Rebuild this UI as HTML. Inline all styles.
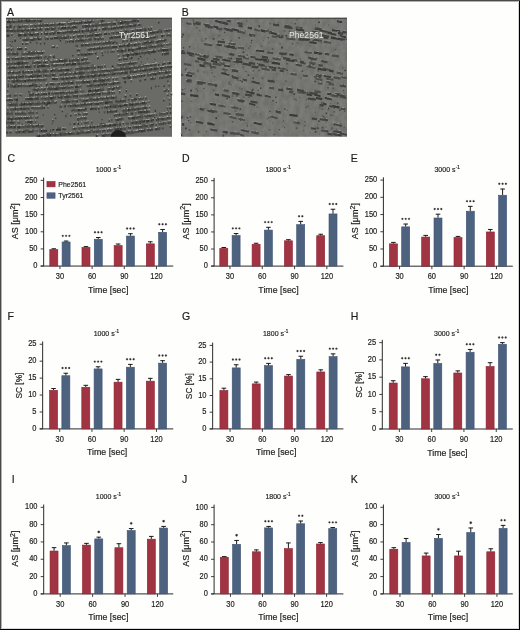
<!DOCTYPE html>
<html><head><meta charset="utf-8"><style>
html,body{margin:0;padding:0;background:#fefefd;}
svg{display:block;font-family:"Liberation Sans", sans-serif;will-change:transform;}
</style></head><body>
<svg width="520" height="630" viewBox="0 0 520 630">
<defs><clipPath id="clipA"><rect x="6.1" y="17.8" width="165.9" height="119"/></clipPath><filter id="grain" x="0" y="0" width="1" height="1" color-interpolation-filters="sRGB"><feTurbulence type="fractalNoise" baseFrequency="0.2 0.15" numOctaves="2" seed="4"/><feColorMatrix type="matrix" values="1 0 0 0 0  1 0 0 0 0  1 0 0 0 0  0 0 0 0 0.1"/></filter><clipPath id="clipB"><rect x="181" y="17.8" width="166" height="119"/></clipPath></defs>
<rect width="520" height="630" fill="#fefefd"/>
<rect x="6.1" y="17.8" width="165.9" height="119" fill="#6a6a66"/><path d="M6.9 21.4 12.8 21.3 19.4 21 25.4 21 32.3 20.8 38.1 20.5 41.5 20.4M6.4 26.7 11.7 26.5M17 26.2 24.3 25.8 28.6 25.8M34.3 25.8 40.7 25.2 48.4 25 54.4 24.7 55.4 24.3M56.3 24.3 62.9 23.9 65.9 23.8M67.6 23.7 72.8 22.9 79.1 22.5 85.6 22.2 91.3 21.3 93.2 21.5M99.9 20.5 104.7 20.2M6.6 30.5 13.2 30.1 18.9 30.3 25.3 29.7 31.1 29.8 37.3 29.3 42.4 29.3 42.4 29.3M44.8 28.7 49.9 28.7M50.8 28.6 56.1 28.3 56.1 28.3M57.8 28 63.9 27.5 69.5 27.5 75.9 27.1 75.9 27.1M82.2 26 87.8 25.8 94.1 24.9 99.9 24.6 106.6 24 112.9 23.3 115.7 22.8M117.6 22.7 124.7 21.8 130 21.2 136.1 20.7 137.3 20.7M18 34.8 24.1 34.7 29.2 34.1 35.2 33.9 38.9 33.9M43.9 33.1 48.1 33.1M48.9 33.4 54.4 32.5 55.8 32.6M57 32.5 62.8 32.4 68.5 31.5 74.9 31.2 80.4 30.9 80.4 30.9M81.6 30.7 87.4 30.1 93.9 29.4 96.9 29.3M102.2 28.7 107.8 28.3 113.1 27.9 119.2 27 124.7 26.6 131.4 25.9 135.1 24.9M22.8 39.5 29.9 39.4 35.7 38.8 40.6 38.6M44.8 38.5 48.6 38M54 37.5 60.1 37.4 66.9 37.2 69.1 36.7M77.2 36 83.6 35.6 83.6 35.6M87.3 35.4 93.2 34.6 99.2 34 100.3 34M115.7 32.7 119 32.1M123.4 31.8 129.2 31 129.2 31M130.4 31 136.4 29.9 142.9 29 144.5 29.2M69.2 41 73.9 40.6M75.3 40.8 80.7 40.1 86.6 39.9 91.8 38.8M93.7 38.8 99.7 38.1 102.1 38.4M109.4 37.5 114.4 36.7 120.4 36.2 125.1 35.7 131.3 35.2 133.1 34.8M134.2 34.8 139.1 34.1 141.1 33.9M147.4 32.7 153.4 32 160.6 31 162.2 30.9M163.9 30.6 169.7 30 169.7 30M17.1 48.8 21.9 48.8M80.9 45 87.5 44.6 93.8 43.9 99.9 43.1 106.3 42.8 112.3 42.2 114.2 42M130.1 40.1 136.3 39.2 137.5 39.2M138.7 39.1 144.1 38.3 150.9 37.5 155.7 36.5M7.3 53.8 14.2 53.5 18.2 53.7M21.6 53.6 27.8 52.9 33.6 53 39.8 52.6 43.2 52.1M87 49.1 92.3 48.5 97.5 47.9 103.5 47.5 109.8 47.3 115.4 46.7 117.2 46.1M119.1 45.9 125.4 45.6 131.5 44.7 136.7 44.2 140.8 43.3M142 43.2 147.2 42.7 153.9 41.8 153.9 41.8M155.3 41.6 161.3 40.5 164.5 39.9M11.7 58.4 17.9 58.2 23.8 58 29.6 57.8 36 57.2 41.7 57 41.7 57M80.5 54.3 86.8 53.9 91.5 53.4M117 50.8 124 50.3 126.5 49.8M128 49.6 133.4 49.1 140.1 47.9 144.5 47.7 147.6 47.1M148.4 47.1 154.3 46.1 160.8 45.2 163.2 44.7M6.7 63.6 13.7 63.2 20.3 63.2 26.9 62.5 26.9 62.5M32.1 62.6 38.3 62 41.9 62M42.8 62 47.8 61.6M49.5 61.3 55.4 60.9 61.1 60.6 67.6 60.3 67.6 60.3M69 60.4 74.7 59.7 79.6 59.4M81.3 59.2 87.1 58.6 87.1 58.6M122.7 55.3 129.2 54.1 135.2 53.7 142 52.6 147.7 51.8 153.2 51.4 156.4 50.5M157.8 50.3 163.5 49.7 169.6 49 169.6 49M7.4 67.5 13.9 67.2 19.9 67 24.2 66.6M25 66.5 31.5 66.7 31.5 66.7M37.2 66.1 43.2 65.5 48.6 65.4 49.8 65.1M51.4 65.2 57 64.8 64.3 64.2 70.6 64.1 76.1 63.3 76.1 63.3M77.2 63.5 82.1 63.1 88.7 62.5 88.7 62.5M164 53.5 168.8 52.9M7.8 72.6 14.1 72.3 20.6 72 20.6 72M22 71.9 27.8 71.6 33 71.2M34.2 71.2 40.2 71.3 41.6 70.8M42.5 71 48.8 70.5 48.8 70.5M50.4 70.6 56.4 70.4 62.2 69.8 69.1 69.3 70.7 69.2M75 68.5 80.9 68.1 87.8 67.7 89.5 67.8M90.6 67.5 96 66.9 96 66.9M117.3 64.4 122.4 64.1 128.3 63.2 134.3 62.5 135.9 62.7M7.2 77.1 14.2 76.4 20.2 76.6 24.1 76.6M25.1 76 30.6 75.8 36.9 75.9 41.8 75.2M43 75.1 49.4 75.2 51 74.8M59.4 74.4 65 73.7 71.5 73.4 71.5 73.4M72.7 73.5 78.9 72.9 85.2 72.5 85.2 72.5M90.3 71.8 96.8 71.5 97.8 71.1M98.6 71 103.9 70.3 110.3 70 116.6 69.2 122.3 68.4 128 68 134 67.4 139 66.8 144.9 65.7 150 65 155.3 64.1 155.3 64.1M11.5 80.9 18.2 80.6 23.6 80.4 28.9 79.9 34.6 79.8 41.1 79.7 46.1 79.4M52 78.6 57.8 78.5 57.8 78.5M58.9 78.4 64.2 78.1 70.8 77.8 77.5 76.8 77.5 76.8M78.7 77 85.4 76.2 85.4 76.2M86.3 76.5 92.6 75.9 98.4 75.1 105.4 74.4 112.1 74 118.6 72.9 125 72.5 127.9 72.2M129.8 71.5 135.4 71.1 141.4 70.3 147.4 69.3 153.6 68.8 156.9 68.2M159.9 67.8 165.8 67 170.5 66.5M10.2 85.9 15.9 86 21.9 85.4 27.3 85.5 33.6 85.1 36.7 84.5M49.7 83.9 55.6 83.8 55.6 83.8M61 83.4 66.7 82.6 72.9 82.6 74.2 82.4M75.9 82 80.6 81.8 86.7 81.4 91.7 81.1M93.4 80.6 100 80.3 106.2 79.7 110.6 79.1M122.4 77.5 128.1 77.3 131.1 76.8M132.7 76.7 138.6 75.9 143.4 75 145.5 74.7M147.3 74.8 152.6 73.6 158.9 72.7 165.1 72 169.7 71.8M32.4 89.2 37.7 88.9 44.2 88.6 45.8 88.9M47 88.5 53.2 88.2 59.5 87.6 65.3 87.2 70.9 86.9 73.3 86.9M75.1 86.4 79.9 86M86.5 85.6 92.7 85.4 99.1 84.7 105.1 83.9 106.9 83.9M107.8 83.7 114.1 82.8 118.9 82.6M150.3 78.6 155.4 78.1M159.1 77.4 164.8 76.8 170 76 170 76M29.1 94.6 34 94.3M34.9 94.3 39.3 94.2 45.6 93.6 46.8 93.8M51.1 93 57.4 92.8 63.3 92.5 64.9 92.1M65.7 92.5 71 92.2 78.2 91.1 78.2 91.1M88.5 90.5 94.5 89.8 100.5 89.2 104.1 88.9M107.5 88.9 113 88.3 115.2 87.7M6.3 99.9 12.6 99.6 12.6 99.6M25.2 98.7 31.3 98.5 37.2 98.4 38.9 98.1M40.4 98.3 46.4 97.9 52.6 97.4 56 97.2M57.4 97.1 62.3 97M63.6 96.7 69.7 96.3 71.5 96.1M72.7 95.8 77.9 95.4 77.9 95.4M79.3 95.4 85.2 95.1 91.7 94.5 98 93.7 100.6 93.7M101.9 93.2 106.6 92.9 113.5 92.3 113.5 92.3M7.6 104.2 14.3 104.2 17.6 104M19.2 104.3 25.2 103.6 31.7 103.4 39.3 103.3 44 102.7 50.2 102.4 55.5 101.9 55.5 101.9M61.6 101.7 67.3 101.1 70.4 101.3M71.5 101 77.9 100.3 77.9 100.3M83.2 100 90.1 99.2 96.7 99 103 98 107.9 97.5 113.9 97.3 115.4 97.1M10.4 108.9 16 108.6 22 108.4 27.8 108.3 29.5 108.3M31.4 107.7 37.4 107.7 43.2 107.4 43.2 107.4M69.6 105.4 76 105.3 82.6 104.5 88.8 103.9 95.4 103.4 101.2 102.7 103.6 102.8M104.7 102.4 111.5 102 111.5 102M115.4 101.4 121.5 100.4 125.9 100M131.1 99.7 135.8 99M138.2 98.7 142.4 97.8M6.7 113.4 13.1 113.3 13.1 113.3M15 113.1 20.1 113.2 26.3 113 26.3 113M28.1 112.5 33.1 112.4M76.3 109.9 82.2 109.5 86.6 108.8M90.2 108.4 96.8 108.1 96.8 108.1M103.9 106.9 111.4 106.3 118 105.7 123.8 104.8 128.2 104.5M129.1 104.4 134.5 103.8 140.3 103.3 145.3 102.7 145.3 102.7M7.4 118.4 13.8 118.3 19.2 118 25.1 117.8 31.7 117.5 31.7 117.5M82.8 114.2 86.5 113.7M107 111.7 113.2 110.9 115.8 110.9M122.5 110.1 128 109.5 134.1 109 141.1 108 146.2 107.4M6.1 122.3 12.7 122.3 15.4 122.2M27.4 121.4 33.3 121.4 33.3 121.4M77.2 118.7 83.7 117.9 85.1 117.8M113.9 115.2 120.3 114.2 126.8 113.6 128.6 113.4M137.9 112.2 144 111.4 150 110.9 150 110.9M6.5 127.1 14.1 126.5 15.7 126.8M17.4 126.8 22.9 126.5 29.8 125.9 35.4 125.7 41.2 125.8 42.7 125.3M84 122.5 88.5 121.9M114.9 119.4 120.8 118.9 122.1 118.5M128.2 117.8 134.8 117.4 140 116.5 143.1 116.1M144.4 115.8 150.7 115.1 155.1 114.6M159.1 114.2 165.6 113 167 112.8M15.4 131.9 21.6 131.4 26.4 131.4M27.6 131.2 34.1 130.6 34.1 130.6M39.4 130.3 45.4 130.4 45.4 130.4M56 129.3 60.9 129.1M72.5 128.6 76.6 127.9M77.9 128.2 82.6 127.3 87.7 127.1 93.4 126.5 99.1 126.2 105.7 125.1 111.2 125 118 124.3 120.8 123.5M130.6 122.4 137.4 122 144 120.8 145.3 121.1M146.3 120.7 152.5 119.5 153.9 119.6M155.8 119.6 162 118.6 168.3 117.8 170.1 117.5M40 135.5 45.5 134.9 51.3 134.6 57 134.5 63.5 134 69.3 133.6 75.4 132.6 75.4 132.6M76.4 133.1 82 132 87.9 131.8 90.6 131.8M91.8 131.2 97.6 131.1 100.6 130.8M101.9 130.6 105.5 129.9M107 130.1 113.1 129.6 113.1 129.6M114 129.3 119.1 128.5 124.8 127.9 126.4 127.9M132.3 127 138.9 126.6 146 125.7 146 125.7M149.6 124.9 153.8 124.6M158.3 123.5 163.9 122.7 166.1 122.5M101.5 135.4 107.5 134.7 112.8 134.3 119 133.1 124.5 133 131.2 132.2 137.1 131.1 144.1 130.1 145.5 130.1M146.9 129.8 152.8 129.1 152.8 129.1M154.7 129 160.3 128.2 160.3 128.2" stroke="#5a5a56" stroke-width="4.0" fill="none" clip-path="url(#clipA)"/><path fill="#343432" d="M6.9 20.8h1.5v2.3h-1.5zM8.4 20.8h1.1v1.9h-1.1zM9.5 21.1h1.3v2.3h-1.3zM17.7 20.5h1.8v1.7h-1.8zM21 20.3h1.4v1.6h-1.4zM25.4 20.4h1.8v1.6h-1.8zM28.8 20.1h1.5v1.8h-1.5zM33.7 19.7h1.1v2.3h-1.1zM39.9 19.8h1.6v2.4h-1.6zM10 26.2h1.7v1.6h-1.7zM19 25.7h1.8v2.2h-1.8zM40.7 24.6h2v1.9h-2zM46.4 24.2h2v2.3h-2zM51.3 23.9h1.3v2.3h-1.3zM58.1 23.3h1.9v1.9h-1.9zM61.1 23.4h1.8v1.8h-1.8zM67.6 23.1h1.1v1.6h-1.1zM70.1 22.7h1.7v1.8h-1.7zM76.1 22.3h1.7v1.8h-1.7zM79.1 21.9h1.6v1.8h-1.6zM83.7 21.5h1.9v1.7h-1.9zM85.6 21.6h2v1.8h-2zM89.9 20.9h1.5v2.1h-1.5zM6.6 29.9h1.6v1.8h-1.6zM11.7 29.8h1.5v1.9h-1.5zM20.4 29.6h1.7v1.9h-1.7zM22.1 29.7h1.5v2.3h-1.5zM28.2 29.2h1v2.1h-1zM31.1 29.2h1.7v1.6h-1.7zM32.8 28.9h1.5v2.4h-1.5zM39.7 28.3h1.4v2h-1.4zM50.8 28h1.1v1.6h-1.1zM61.2 27.2h1.6v2.1h-1.6zM62.7 27.2h1.1v2.1h-1.1zM63.9 26.9h1.2v2.1h-1.2zM65.1 27.2h1.1v2.1h-1.1zM69.5 26.9h1v1.8h-1zM73.9 26.3h2v1.8h-2zM101.5 23.7h1.7v2.3h-1.7zM112.9 22.7h1.5v2h-1.5zM114.3 22.5h1.4v2.3h-1.4zM119.6 22h1.6v2.3h-1.6zM121.2 21.8h1.7v2.2h-1.7zM127.7 21.3h1.1v2.4h-1.1zM137.3 20.1h1.5v2h-1.5zM6.7 34.5h2v2.4h-2zM8.6 34.5h1v2h-1zM18 34.2h1.6v2.3h-1.6zM19.6 34h1.8v2.3h-1.8zM24.1 34.1h1.1v2.1h-1.1zM25.2 34h1.3v2.2h-1.3zM29.2 33.5h1.9v1.9h-1.9zM31.1 33.8h2v2.2h-2zM34.1 33.6h1.1v2.2h-1.1zM40.9 32.9h1.1v2.1h-1.1zM52.8 32.4h1.6v2.3h-1.6zM57 31.9h1.9v2.1h-1.9zM58.9 31.8h1.4v1.8h-1.4zM70.4 31.3h1.4v2h-1.4zM74.9 30.6h1.3v2.1h-1.3zM76.3 30.7h1.3v2h-1.3zM81.6 30.1h1.5v2.3h-1.5zM87.4 29.5h1.9v2.1h-1.9zM93.9 28.8h1.1v1.6h-1.1zM110.8 27.5h1.2v2.1h-1.2zM113.1 27.3h1.5v2h-1.5zM114.7 27.1h1.7v1.6h-1.7zM120.8 26.2h1.1v2.4h-1.1zM121.9 26.2h1.7v1.9h-1.7zM126.2 25.7h1.5v1.9h-1.5zM131.4 25.3h1v1.6h-1zM135.1 24.3h1.3v2.2h-1.3zM31.3 38.8h1.5v2.3h-1.5zM37.5 38.2h1.7v1.7h-1.7zM39.2 38.4h1.4v1.6h-1.4zM51.2 37.4h1.9v2.2h-1.9zM54 36.9h1.5v2h-1.5zM57.1 37.2h1.5v1.7h-1.5zM77.2 35.4h1.1v2.1h-1.1zM81.6 35h1.9v1.7h-1.9zM87.3 34.8h1.2v2.4h-1.2zM91.4 34.4h1.8v1.8h-1.8zM95.9 34.1h1.9v2.1h-1.9zM97.9 33.9h1.4v1.9h-1.4zM117.9 31.6h1.1v2h-1.1zM126.2 30.4h1.2v1.9h-1.2zM132.1 29.9h1.4v2.1h-1.4zM144.5 28.6h1.9v2.3h-1.9zM150.7 27.5h1.3v2.1h-1.3zM69.2 40.4h1.2v2h-1.2zM72.1 40.4h1.8v2h-1.8zM95.2 38.1h1.1v1.7h-1.1zM110.8 36.7h1.1v1.9h-1.1zM111.9 36.6h1.3v2.1h-1.3zM115.6 36.4h1.4v1.8h-1.4zM118.8 35.9h1.7v1.9h-1.7zM127.5 34.6h1.9v2.1h-1.9zM135.6 33.8h1.2v1.9h-1.2zM136.8 33.9h1.1v2h-1.1zM142.8 33h1.9v1.7h-1.9zM153.4 31.4h1.6v1.9h-1.6zM167.1 29.7h1.4v1.9h-1.4zM6.5 48.5h1.7v1.8h-1.7zM10.8 48.7h1.2v1.9h-1.2zM19 48.1h1.1v2h-1.1zM20.1 48.1h1.8v2h-1.8zM53 46.3h1.8v1.8h-1.8zM76.5 44.9h1.2v2.2h-1.2zM80.9 44.4h2v2.1h-2zM97.5 43.2h1.1v1.7h-1.1zM106.3 42.2h1v2.3h-1zM107.3 41.7h1.2v1.6h-1.2zM114.2 41.4h1.3v1.7h-1.3zM122.4 40.2h1.1v2.3h-1.1zM147.4 37.2h1.9v2.1h-1.9zM154 36.3h1.7v1.7h-1.7zM161.3 35h1.8v2.2h-1.8zM168.2 34.3h1.2v1.7h-1.2zM14.2 52.9h1.4v2.1h-1.4zM16.8 52.9h1.4v2.3h-1.4zM36.9 51.8h1.1v1.8h-1.1zM38 52.3h1.8v1.6h-1.8zM41.7 52h1.5v2.1h-1.5zM78.7 49.4h1.6v1.8h-1.6zM89.1 48.4h1.6v2.1h-1.6zM93.6 48.2h1v2.2h-1zM94.6 47.6h1v2.3h-1zM97.5 47.3h1.7v1.6h-1.7zM99.2 47.5h1.3v1.9h-1.3zM102 47.2h1.5v1.6h-1.5zM104.8 46.7h1.5v1.8h-1.5zM119.1 45.3h1.6v2h-1.6zM120.7 45.4h2v1.6h-2zM124.1 44.5h1.3v2h-1.3zM126.5 44.3h1.7v2.4h-1.7zM128.2 44.4h1.5v2.3h-1.5zM134 43.8h1.6v2.3h-1.6zM144.3 42.1h1.2v2.2h-1.2zM148.5 41.9h2v1.7h-2zM150.5 41.3h1.6v1.7h-1.6zM156.7 40.7h1.6v2.4h-1.6zM11.7 57.8h1.7v1.7h-1.7zM16.3 57.8h1.5v1.7h-1.5zM17.9 57.6h1.6v1.9h-1.6zM21.4 57.5h1.2v2.2h-1.2zM28.3 57.1h1.3v2.1h-1.3zM29.6 57.2h1.9v1.9h-1.9zM38 56.7h1.3v2.3h-1.3zM40.6 56.3h1.1v2.3h-1.1zM77.6 53.9h1.8v1.9h-1.8zM80.5 53.7h1.1v1.8h-1.1zM85 53.4h1.8v2.3h-1.8zM88.3 53h1.8v2.1h-1.8zM94.8 52.6h1.8v1.9h-1.8zM120.9 50.1h2v2.4h-2zM128 49h1.3v2.3h-1.3zM129.3 48.7h1.2v2.1h-1.2zM131.6 48.7h1.8v2.2h-1.8zM138.3 47.5h1.8v2.3h-1.8zM140.1 47.3h1.2v1.8h-1.2zM144.5 47.1h1.6v2h-1.6zM151.8 45.8h1.5v1.8h-1.5zM13.7 62.6h1.7v2h-1.7zM17.1 62.6h1.6v2.3h-1.6zM18.7 62.1h1.6v2.4h-1.6zM22.1 62.1h1.1v2.4h-1.1zM38.3 61.4h1.9v2.2h-1.9zM44.8 61.3h1.6v1.6h-1.6zM52.5 60.6h1.2v2.1h-1.2zM58.5 60.1h1.2v1.8h-1.2zM59.7 60.2h1.4v1.6h-1.4zM61.1 60h1.7v1.9h-1.7zM64.2 59.7h1.7v2.1h-1.7zM71.6 59.5h1.6v2h-1.6zM81.3 58.6h1.9v2.4h-1.9zM97 57.3h1.7v1.9h-1.7zM122.7 54.7h1.7v1.8h-1.7zM126.4 53.7h1.4v2.2h-1.4zM127.8 53.9h1.5v2.3h-1.5zM132.3 53.4h1.8v2.2h-1.8zM135.2 53.1h1.9v2.1h-1.9zM137.1 52.7h1.1v2.2h-1.1zM144.7 51.7h1.3v1.8h-1.3zM147.7 51.2h1.5v2.2h-1.5zM150.3 51.3h1.3v1.8h-1.3zM151.6 50.6h1.6v1.8h-1.6zM153.2 50.8h1.8v1.9h-1.8zM161.9 49.2h1.6v2h-1.6zM163.5 49.1h1.2v2.3h-1.2zM164.7 49.2h1.6v2h-1.6zM166.3 49h1.9v1.7h-1.9zM8.7 66.7h1.6v2h-1.6zM12.1 66.4h1.9v1.8h-1.9zM13.9 66.6h1.7v2.2h-1.7zM25 65.9h1.6v1.8h-1.6zM26.6 66h1.6v2.1h-1.6zM37.2 65.5h1.4v2.4h-1.4zM41.3 65.1h1.9v2.2h-1.9zM43.2 64.9h1.7v2.2h-1.7zM62.7 64h1.6v1.8h-1.6zM65.7 63.7h1.4v2h-1.4zM67.1 63.3h1.6v2h-1.6zM71.8 63.1h1.5v2.3h-1.5zM73.4 62.9h1.1v2.4h-1.1zM74.5 63.1h1.6v2.1h-1.6zM123.1 58.2h1.5v2.4h-1.5zM125.9 58.3h1.7v1.7h-1.7zM130.7 57.1h1.8v1.8h-1.8zM161.9 53.2h1.2v2.3h-1.2zM9.2 71.7h1.6v1.6h-1.6zM12.2 71.7h1.9v1.8h-1.9zM23 71.1h1.2v2.2h-1.2zM34.2 70.6h1.2v2h-1.2zM38.3 70.4h1.9v2h-1.9zM50.4 70h1.7v2h-1.7zM52 69.6h1.4v1.7h-1.4zM58.3 69.6h1.1v2h-1.1zM59.4 69.3h1v2.2h-1zM65.3 68.8h1.9v2.1h-1.9zM67.2 68.7h1.9v2.3h-1.9zM87.8 67.1h1.8v1.6h-1.8zM97.4 66.1h1.8v2h-1.8zM128.3 62.6h1.9v2.2h-1.9zM11.1 76.3h1.4v2.1h-1.4zM15.2 76.3h1.7v2.4h-1.7zM21.2 75.6h1.4v1.9h-1.4zM28.7 75.7h1.9v1.8h-1.9zM30.6 75.2h1.3v1.8h-1.3zM36.9 75.3h1.9v1.7h-1.9zM38.9 74.8h1.1v2h-1.1zM44.8 74.5h1.7v1.8h-1.7zM51.8 74h2v2h-2zM74.4 72.5h1.4v1.7h-1.4zM75.7 72.6h1.3v1.7h-1.3zM78.9 72.3h1.8v2.2h-1.8zM103.9 69.7h1.2v1.6h-1.2zM106.8 69.6h1.7v2h-1.7zM123.6 67.8h1.2v2h-1.2zM129 67.4h2v2.2h-2zM146.1 64.8h1.2v1.9h-1.2zM147.3 64.6h1.2v1.7h-1.2zM151.3 64.4h1.1v1.8h-1.1zM155.3 63.5h1.2v2.2h-1.2zM163.7 62.7h1.9v1.9h-1.9zM168.4 62h1.3v1.9h-1.3zM169.7 61.9h1.2v2h-1.2zM13.2 80.4h1.9v2.2h-1.9zM16.3 79.9h1.9v2h-1.9zM24.9 79.9h1.2v2.2h-1.2zM31.1 79.4h1.8v1.7h-1.8zM52 78h1.2v1.7h-1.2zM53.2 78.2h2v1.8h-2zM56.5 78.2h1.2v1.8h-1.2zM66.1 77.3h1.8v2.2h-1.8zM70.8 77.2h1.9v1.8h-1.9zM78.7 76.4h1.6v2.3h-1.6zM80.2 76h1.5v2.3h-1.5zM83.7 75.9h1.7v1.8h-1.7zM87.9 75.8h1.7v1.8h-1.7zM91.4 75h1.2v2.3h-1.2zM92.6 75.3h2v2.1h-2zM94.5 74.6h1.3v2.1h-1.3zM98.4 74.5h1.6v2.4h-1.6zM103.6 74.1h1.8v2.1h-1.8zM114 72.7h1.4v2.1h-1.4zM125 71.9h1.5v1.9h-1.5zM129.8 70.9h1.1v2.3h-1.1zM135.4 70.5h1.4v2h-1.4zM143 69.5h1.3v2h-1.3zM144.3 69.6h1.8v1.7h-1.8zM149.2 68.6h1.7v1.7h-1.7zM150.9 68.2h1.1v2h-1.1zM153.6 68.2h1.3v2h-1.3zM156.9 67.6h1.5v1.9h-1.5zM159.9 67.2h1.5v2.1h-1.5zM161.4 67.1h1.5v1.7h-1.5zM170.5 65.9h1.6v1.9h-1.6zM7.5 85.4h1.6v1.8h-1.6zM11.5 85.1h1v1.6h-1zM14.1 85.4h1.8v2.2h-1.8zM17.5 84.9h1.7v2h-1.7zM29 84.8h1.4v2.1h-1.4zM30.4 84.5h1.7v1.8h-1.7zM32.1 84.5h1.6v1.8h-1.6zM35.4 84.2h1.3v1.8h-1.3zM45.9 83.8h1.3v2.4h-1.3zM58.3 82.9h1.6v1.8h-1.6zM65.5 82.3h1.2v1.7h-1.2zM68.1 82.3h1.6v2h-1.6zM70.9 82h2v2.1h-2zM82.5 81h1.8v2.3h-1.8zM86.7 80.8h1.7v2.2h-1.7zM93.4 80h1.2v2.2h-1.2zM100 79.7h1.5v1.9h-1.5zM103 79.4h1.9v1.9h-1.9zM124.2 77h1.3v2.2h-1.3zM128.1 76.7h1.9v2.4h-1.9zM141.1 75.1h1.2v2h-1.2zM149.6 73.8h1.7v1.7h-1.7zM154.5 73.2h1.6v2.4h-1.6zM165.1 71.4h1.8v2h-1.8zM35.6 88.9h1.1v1.8h-1.1zM54.2 87.7h1.9v2.2h-1.9zM56.1 87.5h1.7v2.4h-1.7zM59.5 87h1v2h-1zM61.8 87.2h1.7v2h-1.7zM65.3 86.6h1v1.6h-1zM75.1 85.8h1.2v2.3h-1.2zM76.2 86h1.7v2.3h-1.7zM90.2 85h1.4v2.1h-1.4zM94.7 84.6h1.5v1.7h-1.5zM97.9 84.2h1.2v2.4h-1.2zM101.4 83.9h1.8v1.8h-1.8zM105.1 83.3h1.8v2h-1.8zM112.8 82.7h1.3v2.2h-1.3zM124.3 81.1h1.8v2.1h-1.8zM144.3 78.7h1.9v1.8h-1.9zM161.4 76.6h1.6v2.1h-1.6zM166.4 75.8h1.4v2.1h-1.4zM9.9 94.7h1.2v2.1h-1.2zM34.9 93.7h1v1.7h-1zM38.1 93.2h1.2v1.7h-1.2zM42.3 93.3h1.4v1.8h-1.4zM45.6 93h1.2v1.9h-1.2zM48.1 92.6h1.8v2.2h-1.8zM88.5 89.9h1.1v1.7h-1.1zM89.6 90h1.7v2.1h-1.7zM94.5 89.2h1.7v2h-1.7zM96.3 89.4h1.2v2h-1.2zM97.5 89h1.5v1.7h-1.5zM113 87.7h1.2v2.1h-1.2zM11.4 99.1h1.2v2h-1.2zM15.4 98.4h1.4v2.3h-1.4zM16.8 98.4h1.2v2.4h-1.2zM27.8 98.2h1.9v1.8h-1.9zM29.8 98.1h1.5v1.9h-1.5zM31.3 97.9h1.5v2.3h-1.5zM49.7 97.2h1.1v2.3h-1.1zM50.8 97h1.9v2.4h-1.9zM60.7 96.3h1.7v2.3h-1.7zM76.5 95h1.5v2.3h-1.5zM87.2 93.9h1.7v1.8h-1.7zM99 93.1h1.6v2.2h-1.6zM10.6 103.6h1.9v2.1h-1.9zM22.6 103.4h1v1.9h-1zM23.6 103.1h1.5v2.4h-1.5zM29.8 103h1.9v2.4h-1.9zM41.5 102.2h1.1v1.8h-1.1zM44 102.1h1.5v2.2h-1.5zM46.6 102.2h1.8v2.2h-1.8zM48.3 102.1h1.9v2h-1.9zM67.3 100.5h1.6v2.2h-1.6zM76.2 100.3h1.7v2h-1.7zM84.8 99.6h1.5v2h-1.5zM86.2 99.3h1.9v2h-1.9zM96.7 98.4h1.5v1.9h-1.5zM101.6 97.7h1.3v1.7h-1.3zM105.3 97.1h1.6v1.7h-1.6zM112.1 96.5h1.8v2.3h-1.8zM124.5 95.6h2v1.9h-2zM10.4 108.3h1.1v2.2h-1.1zM14.6 108.1h1.4v1.8h-1.4zM20 107.7h2v1.9h-2zM69.6 104.8h1.3v2h-1.3zM74.3 104.4h1.7v2.1h-1.7zM84.1 103.5h1.7v1.7h-1.7zM90.6 102.9h1.7v2.1h-1.7zM104.7 101.8h1.8v2.1h-1.8zM106.5 101.7h1.8v2.1h-1.8zM119.9 100.2h1.7v1.9h-1.7zM134 98.6h1.7v1.7h-1.7zM135.8 98.4h1.3v1.7h-1.3zM15 112.5h1.2v1.7h-1.2zM21.6 112.5h1.3v1.6h-1.3zM78 108.8h1.4v2.1h-1.4zM79.4 109.1h1.2v2.1h-1.2zM84.6 108.2h1.9v1.8h-1.9zM90.2 107.8h2v2.3h-2zM109.8 105.7h1.6v2.1h-1.6zM120 105.2h1.2v2.4h-1.2zM123.8 104.2h1.9v1.8h-1.9zM125.7 104.1h1.1v2.1h-1.1zM130.2 103.4h1.5v1.9h-1.5zM131.7 103.8h1.6v2.4h-1.6zM141.6 102.1h1.5v1.9h-1.5zM144.1 102h1.2v1.7h-1.2zM163.1 99.4h1.3v2.1h-1.3zM10.6 117.9h1.9v2.4h-1.9zM20.6 117.2h1.5v1.7h-1.5zM70 114.6h1.6v2h-1.6zM78.1 113.6h1.6v1.7h-1.6zM86.5 113.1h1.1v1.7h-1.1zM107 111.1h1.2v2.1h-1.2zM109.6 110.8h1.8v1.7h-1.8zM128 108.9h1.9v2.3h-1.9zM137.6 107.7h1.5v2.1h-1.5zM144.3 107.2h1.9v1.7h-1.9zM9.5 121.7h1.4v1.7h-1.4zM10.9 121.6h1.9v1.9h-1.9zM27.4 120.8h1.4v2.1h-1.4zM30.1 120.8h1.9v2.4h-1.9zM113.9 114.6h1.6v2h-1.6zM118.7 114h1.6v1.7h-1.6zM125.6 113.1h1.2v2.1h-1.2zM139.3 111.2h2v1.7h-2zM141.3 111.2h1.5v1.7h-1.5zM144 110.8h1.5v1.9h-1.5zM169.5 107.3h1.6v1.9h-1.6zM14.1 125.9h1.6v2.3h-1.6zM17.4 126.2h2v2.2h-2zM19.3 126h1v2.2h-1zM38.3 125.1h1v2.3h-1zM41.2 125.2h1.5v2.4h-1.5zM73.5 122.8h1.9v2.1h-1.9zM131.4 116.9h1.7v2.1h-1.7zM133.1 116.6h1.7v1.9h-1.7zM149.3 114.5h1.4v2.2h-1.4zM23.1 130.9h1.4v2h-1.4zM29.4 130.7h1.7v1.7h-1.7zM40.9 130h1.2v2.3h-1.2zM44.1 129.7h1.3v2.1h-1.3zM52.2 129.1h1.9v1.7h-1.9zM56 128.7h1.9v2h-1.9zM57.9 128.6h1.2v1.9h-1.2zM59.1 128.7h1.8v2h-1.8zM74.3 127.4h1.2v2.3h-1.2zM86.2 126.8h1.6v1.7h-1.6zM89.5 126.1h1.6v2.1h-1.6zM91.1 126.5h1.3v1.6h-1.3zM93.4 125.9h1.7v2.3h-1.7zM96.7 125.8h1.2v1.8h-1.2zM102.8 125.2h1.1v2h-1.1zM103.9 125.2h1.8v2.1h-1.8zM105.7 124.5h1.1v1.8h-1.1zM108.1 124.5h1.2v2.4h-1.2zM109.3 124.2h1.9v2h-1.9zM114.2 123.7h1.8v2.2h-1.8zM119.4 123.4h1.4v2.3h-1.4zM122.7 122.8h1.3v1.8h-1.3zM132.3 121.7h1.3v2.3h-1.3zM144 120.2h1.2v1.9h-1.2zM146.3 120.1h1.2v2.2h-1.2zM147.6 120.1h1.4v2h-1.4zM157.7 118.3h1.3v2.1h-1.3zM166.8 117h1.5v1.8h-1.5zM38.1 134.6h2v2.3h-2zM46.9 134h1.3v1.8h-1.3zM49.7 134.1h1.5v2.1h-1.5zM60 133.4h1.7v2h-1.7zM68 132.7h1.3v1.7h-1.3zM69.3 133h1.6v1.8h-1.6zM78.2 132h1v2.2h-1zM99.4 130.4h1.3v1.7h-1.3zM107 129.5h1.4v2.1h-1.4zM110.2 129.3h1.1v2.1h-1.1zM115.3 128.3h1.6v2.3h-1.6zM120.1 128h1.7v2h-1.7zM129.5 127h1.4v1.9h-1.4zM135.6 126.3h1.6v2h-1.6zM151.5 124.1h1.2v2.1h-1.2zM162.4 122.4h1.5v2.1h-1.5zM102.7 134.3h1.9v2.3h-1.9zM112.8 133.7h1.9v2.1h-1.9zM119 132.5h1v1.8h-1zM121.1 132.3h1.5v2h-1.5zM151.2 129h1.6v1.6h-1.6zM154.7 128.4h1.1v1.7h-1.1zM155.7 128h1.3v1.8h-1.3zM136 34.4h1.2v1.2h-1.2zM154.2 44.6h1.3v1.3h-1.3zM169 103.6h1.2v1.2h-1.2zM91.4 52.8h1.4v1.4h-1.4zM26.9 102.3h1.2v1.2h-1.2zM66.1 82.4h1.3v1.3h-1.3zM124.5 37.5h1.6v1.6h-1.6zM99.6 41.5h0.9v0.9h-0.9zM137.9 128.2h1v1h-1zM154.2 117h1.1v1.1h-1.1zM154.6 59.1h0.9v0.9h-0.9zM25 57.9h1.3v1.3h-1.3zM85 26.1h1.3v1.3h-1.3zM149.2 26.4h0.9v0.9h-0.9zM32.8 51.8h0.8v0.8h-0.8zM111.8 65.6h1.6v1.6h-1.6zM78.9 35.3h1.6v1.6h-1.6zM63.9 88.2h0.9v0.9h-0.9zM71.5 58h1.4v1.4h-1.4zM33.8 76h1.1v1.1h-1.1zM129.3 127.5h0.8v0.8h-0.8zM105.2 22.6h0.9v0.9h-0.9zM13.4 21.8h1.1v1.1h-1.1zM19 118.3h1.3v1.3h-1.3zM156 40.9h1.3v1.3h-1.3zM115.7 19.6h1.1v1.1h-1.1zM51.6 123.1h0.9v0.9h-0.9zM22.1 131.1h1.5v1.5h-1.5zM8.9 77.6h1.3v1.3h-1.3zM144.8 30.7h1.1v1.1h-1.1zM121.5 118.4h1.4v1.4h-1.4zM20 37.7h1v1h-1zM133.3 118h1.4v1.4h-1.4zM129.2 43h0.9v0.9h-0.9zM35.9 85.6h1.5v1.5h-1.5zM149.2 53.4h1.2v1.2h-1.2zM12 125.8h1.2v1.2h-1.2zM118.9 70.9h1.2v1.2h-1.2zM86.6 58.5h1.3v1.3h-1.3zM88 90.7h1.4v1.4h-1.4zM9.8 25.3h1.4v1.4h-1.4zM48.1 99.5h1v1h-1zM146.8 120.3h1.6v1.6h-1.6zM116.3 87.4h1.4v1.4h-1.4zM16.6 83.4h1v1h-1zM125.7 72.6h1.3v1.3h-1.3zM37 90.3h1.2v1.2h-1.2zM160.9 69.3h1.1v1.1h-1.1zM47.1 58h1.4v1.4h-1.4zM115.9 86.2h1.4v1.4h-1.4zM96.3 90.3h1.6v1.6h-1.6zM116.2 42.3h1.4v1.4h-1.4zM91.1 101.1h1.3v1.3h-1.3zM126.1 88.2h0.9v0.9h-0.9zM14.6 40.9h1.2v1.2h-1.2zM49.2 133.2h1.6v1.6h-1.6zM139.7 69.5h0.9v0.9h-0.9zM28 91.1h1.3v1.3h-1.3zM139.8 55.8h1.2v1.2h-1.2zM9.4 99h1.5v1.5h-1.5zM153 31.9h1v1h-1zM67.2 21.5h0.9v0.9h-0.9zM142.3 110.7h0.9v0.9h-0.9zM14.9 31.2h1.1v1.1h-1.1zM25.5 19.9h1.4v1.4h-1.4zM68.8 99.2h1.2v1.2h-1.2zM87.3 33.2h1.2v1.2h-1.2zM46.2 104.4h1.6v1.6h-1.6zM146.8 58.4h0.9v0.9h-0.9zM73.7 128.1h1v1h-1zM167.4 122.6h1.2v1.2h-1.2zM167.4 110.7h1v1h-1zM155.6 64.3h1.1v1.1h-1.1zM83.3 104.1h0.9v0.9h-0.9zM11.7 40.9h1.3v1.3h-1.3zM14.5 117.3h1.4v1.4h-1.4zM162.2 63.5h1.4v1.4h-1.4zM147.4 40.7h1.4v1.4h-1.4zM11.3 30.8h0.9v0.9h-0.9zM126.9 55.6h1.6v1.6h-1.6zM56.9 64.1h0.8v0.8h-0.8zM142.3 65.5h1v1h-1zM59.7 40h1.5v1.5h-1.5zM96 79.5h0.8v0.8h-0.8zM98.1 99.2h1v1h-1zM163.4 85.6h1.5v1.5h-1.5zM58.3 64.7h1.1v1.1h-1.1zM101.9 80.9h1.4v1.4h-1.4zM73 58h0.9v0.9h-0.9zM130.9 37.8h1.1v1.1h-1.1zM139.8 122.9h1.1v1.1h-1.1zM29.9 42h1.3v1.3h-1.3zM11.2 45.7h1.1v1.1h-1.1zM144.1 54.4h0.8v0.8h-0.8zM25.9 85.5h1.2v1.2h-1.2zM55.1 117.8h1.3v1.3h-1.3z"/><path fill="#a4a4a0" d="M6.9 19.6h1.1v1.1h-1.1zM11 19.6h1v1.1h-1zM19.7 19.2h1v1.1h-1zM30.5 19h1.3v1.1h-1.3zM33.8 18.5h1.5v1.1h-1.5zM7.7 24.7h1v1.1h-1zM21 24.4h1.1v1.1h-1.1zM34.2 24h1.4v1.1h-1.4zM38.9 23.3h1.1v1.1h-1.1zM40.9 23.4h1v1.1h-1zM44.3 22.9h1.3v1.1h-1.3zM67.8 21.9h1.3v1.1h-1.3zM70 21.5h1.7v1.1h-1.7zM71.9 21.1h1.7v1.1h-1.7zM76 21.1h1.3v1.1h-1.3zM77.7 21.1h1.3v1.1h-1.3zM82.5 20.2h1.3v1.1h-1.3zM83.5 20.3h1.5v1.1h-1.5zM11.4 28.6h1.1v1.1h-1.1zM44.6 26.9h1.5v1.1h-1.5zM67.4 25.6h1.1v1.1h-1.1zM72 25.1h1.3v1.1h-1.3zM85.5 23.9h1.3v1.1h-1.3zM99.8 22.8h1.1v1.1h-1.1zM103.3 22.5h1.1v1.1h-1.1zM112.8 21.5h1.5v1.1h-1.5zM114.3 21.3h1.4v1.1h-1.4zM123.1 20.4h1v1.1h-1zM11.1 32.9h1.3v1.1h-1.3zM19.6 32.8h1.4v1.1h-1.4zM22.7 33h1.3v1.1h-1.3zM31.3 32.6h1.2v1.1h-1.2zM48.7 31.6h1.2v1.1h-1.2zM62.6 30.6h1.7v1.1h-1.7zM64.2 30.5h1.2v1.1h-1.2zM73.2 29.8h1.7v1.1h-1.7zM87.2 28.3h1.1v1.1h-1.1zM102.3 26.9h1.5v1.1h-1.5zM111.7 26.2h1.3v1.1h-1.3zM126.2 24.5h1.3v1.1h-1.3zM129.5 24h1.3v1.1h-1.3zM137.5 23.4h1.5v1.1h-1.5zM35.7 37h1.4v1.1h-1.4zM39.4 37.2h1.6v1.1h-1.6zM46.9 36.6h1.4v1.1h-1.4zM55.3 35.9h1.2v1.1h-1.2zM77.4 34.2h1.5v1.1h-1.5zM87.2 33.6h1.5v1.1h-1.5zM94.8 32.8h1.6v1.1h-1.6zM96.2 32.9h1v1.1h-1zM97.8 32.7h1.2v1.1h-1.2zM104.2 31.7h1.3v1.1h-1.3zM105 31.5h1.4v1.1h-1.4zM136.2 28.1h1.5v1.1h-1.5zM140.9 27.7h1.2v1.1h-1.2zM150.9 26.3h1.5v1.1h-1.5zM66.8 39.5h1.4v1.1h-1.4zM77.6 38.7h1.6v1.1h-1.6zM82.3 38.3h1.3v1.1h-1.3zM88.2 37.4h1.5v1.1h-1.5zM95.5 36.9h1.3v1.1h-1.3zM97.6 37h1.3v1.1h-1.3zM101.3 36.7h1v1.1h-1zM154.9 30.2h1.4v1.1h-1.4zM156.6 29.6h1.3v1.1h-1.3zM164.1 28.8h1.3v1.1h-1.3zM8.2 47.1h1.3v1.1h-1.3zM17 47h1.1v1.1h-1.1zM18.9 46.9h1.6v1.1h-1.6zM51.8 45.2h1.1v1.1h-1.1zM87.6 42.8h1.2v1.1h-1.2zM98.4 41.5h1.7v1.1h-1.7zM99.6 41.3h1.7v1.1h-1.7zM101.9 41.5h1.4v1.1h-1.4zM106.4 41h1.3v1.1h-1.3zM134.9 37.3h1.5v1.1h-1.5zM136.1 37.4h1.1v1.1h-1.1zM152.3 35.5h1.1v1.1h-1.1zM162.9 33.6h1.7v1.1h-1.7zM168 33.1h1.6v1.1h-1.6zM23.5 51.8h1.6v1.1h-1.6zM35 50.9h1v1.1h-1zM37.9 51.1h1.5v1.1h-1.5zM41.9 50.8h1.7v1.1h-1.7zM77 48.4h1.1v1.1h-1.1zM97.4 46.1h1.5v1.1h-1.5zM103.3 45.7h1.4v1.1h-1.4zM106.3 45.4h1.2v1.1h-1.2zM107.7 45.3h1.5v1.1h-1.5zM112.2 44.9h1.2v1.1h-1.2zM115.5 44.9h1.1v1.1h-1.1zM118.9 44.1h1.4v1.1h-1.4zM120.8 44.2h1.5v1.1h-1.5zM126.7 43.1h1.2v1.1h-1.2zM132.5 42.5h1.3v1.1h-1.3zM162.7 38.6h1.3v1.1h-1.3zM7.9 56.8h1.3v1.1h-1.3zM15 56.7h1.4v1.1h-1.4zM17.7 56.4h1.1v1.1h-1.1zM25.6 56.4h1.2v1.1h-1.2zM36.1 55.4h1.6v1.1h-1.6zM40.6 55.1h1.7v1.1h-1.7zM112.1 49.5h1.4v1.1h-1.4zM131.7 47.5h1.6v1.1h-1.6zM136.5 46.7h1.5v1.1h-1.5zM163.5 42.9h1.4v1.1h-1.4zM168 42.5h1v1.1h-1zM6.7 61.8h1.4v1.1h-1.4zM15.4 61.3h1.1v1.1h-1.1zM23.5 60.8h1.3v1.1h-1.3zM33.8 60.7h1.1v1.1h-1.1zM36.7 60.1h1.6v1.1h-1.6zM38.4 60.2h1.3v1.1h-1.3zM53.9 59.5h1.7v1.1h-1.7zM84.2 56.9h1.7v1.1h-1.7zM85.3 57h1.4v1.1h-1.4zM127.7 52.7h1.6v1.1h-1.6zM154.7 49.3h1.3v1.1h-1.3zM159 48.4h1.2v1.1h-1.2zM38.6 64h1.5v1.1h-1.5zM55.3 63.1h1.4v1.1h-1.4zM61.1 63h1.4v1.1h-1.4zM86.9 60.6h1.3v1.1h-1.3zM18.5 70.1h1v1.1h-1zM27.7 69.8h1.6v1.1h-1.6zM58.3 68.4h1.5v1.1h-1.5zM69 67.5h1.4v1.1h-1.4zM76.3 66.6h1.6v1.1h-1.6zM103.9 64.3h1.1v1.1h-1.1zM121.3 62.5h1.4v1.1h-1.4zM7.1 75.3h1.4v1.1h-1.4zM12.2 75.2h1.4v1.1h-1.4zM28.6 74.5h1.6v1.1h-1.6zM77.3 71h1.1v1.1h-1.1zM83.2 70.5h1.2v1.1h-1.2zM94.1 69.7h1.4v1.1h-1.4zM102.7 68.9h1.4v1.1h-1.4zM105.2 68.5h1.3v1.1h-1.3zM131.1 65.7h1.7v1.1h-1.7zM147.5 63.4h1.7v1.1h-1.7zM11.5 79.1h1.6v1.1h-1.6zM15 78.7h1v1.1h-1zM21.2 78.7h1.4v1.1h-1.4zM26.3 78.2h1.1v1.1h-1.1zM29.8 78.1h1.6v1.1h-1.6zM44.6 77.3h1.4v1.1h-1.4zM55.1 76.9h1.5v1.1h-1.5zM56.7 77h1.3v1.1h-1.3zM66.4 76.1h1.4v1.1h-1.4zM83.4 74.7h1.7v1.1h-1.7zM106.9 72.4h1.1v1.1h-1.1zM115.4 71.4h1.1v1.1h-1.1zM149.2 67.4h1.3v1.1h-1.3zM150.7 67h1.5v1.1h-1.5zM157 66.4h1.2v1.1h-1.2zM23.5 83.5h1.2v1.1h-1.2zM28.9 83.6h1.5v1.1h-1.5zM49.6 82.1h1.6v1.1h-1.6zM51.3 82h1.4v1.1h-1.4zM54.4 82.2h1.3v1.1h-1.3zM60.9 81.6h1.6v1.1h-1.6zM69.9 80.7h1.6v1.1h-1.6zM75.6 80.2h1.1v1.1h-1.1zM76.8 80.3h1.4v1.1h-1.4zM78.3 80.2h1.4v1.1h-1.4zM80.3 80h1.6v1.1h-1.6zM87 79.6h1.5v1.1h-1.5zM90.4 79.3h1.4v1.1h-1.4zM101.4 77.9h1.1v1.1h-1.1zM103 78.2h1.4v1.1h-1.4zM114.8 76.8h1.4v1.1h-1.4zM132.8 74.9h1.4v1.1h-1.4zM138.5 74.1h1.5v1.1h-1.5zM148.6 72.9h1.5v1.1h-1.5zM152.7 71.8h1.3v1.1h-1.3zM163.4 70.9h1.3v1.1h-1.3zM169.5 70h1.2v1.1h-1.2zM35.5 87.7h1.3v1.1h-1.3zM41 87h1.4v1.1h-1.4zM46.9 86.7h1.1v1.1h-1.1zM52.1 86.6h1.3v1.1h-1.3zM59.5 85.8h1v1.1h-1zM61.7 86h1.2v1.1h-1.2zM71.9 85.2h1.5v1.1h-1.5zM88.2 83.9h1v1.1h-1zM96.4 83.2h1.3v1.1h-1.3zM109.6 82h1.4v1.1h-1.4zM111.1 81.6h1.3v1.1h-1.3zM117 80.9h1.4v1.1h-1.4zM150.5 76.8h1.3v1.1h-1.3zM166.1 74.6h1.3v1.1h-1.3zM6.7 93.7h1.4v1.1h-1.4zM19.2 93.2h1.2v1.1h-1.2zM71.3 90.4h1.5v1.1h-1.5zM108.7 86.9h1.6v1.1h-1.6zM111.7 86.7h1.4v1.1h-1.4zM114.1 86h1.3v1.1h-1.3zM25.2 96.9h1.3v1.1h-1.3zM32.6 97h1.3v1.1h-1.3zM49.8 96h1.4v1.1h-1.4zM50.9 95.8h1.7v1.1h-1.7zM80.4 93.5h1.6v1.1h-1.6zM98.1 91.9h1.1v1.1h-1.1zM104.3 91.3h1.6v1.1h-1.6zM113.8 90.5h1.6v1.1h-1.6zM168.4 83.3h1.1v1.1h-1.1zM14.4 102.4h1v1.1h-1zM45.3 101.3h1.3v1.1h-1.3zM63 99.8h1.3v1.1h-1.3zM86.3 98.1h1.5v1.1h-1.5zM100.3 96.4h1.6v1.1h-1.6zM163.8 88.9h1.1v1.1h-1.1zM167.8 88.7h1.5v1.1h-1.5zM31.4 105.9h1.3v1.1h-1.3zM37.3 105.9h1.6v1.1h-1.6zM38.7 105.9h1.4v1.1h-1.4zM61 104.5h1.1v1.1h-1.1zM78.8 103.3h1v1.1h-1zM101.4 100.9h1.7v1.1h-1.7zM122.9 98.5h1.4v1.1h-1.4zM138.5 96.9h1.5v1.1h-1.5zM139.9 96.6h1.1v1.1h-1.1zM17.5 111.5h1.7v1.1h-1.7zM19.9 111.4h1.6v1.1h-1.6zM78.1 107.6h1.2v1.1h-1.2zM79.4 107.9h1.5v1.1h-1.5zM80.8 107.8h1.1v1.1h-1.1zM83.3 107.6h1.4v1.1h-1.4zM90.1 106.6h1v1.1h-1zM93.4 106.6h1.2v1.1h-1.2zM107.7 104.7h1.6v1.1h-1.6zM127.1 102.8h1v1.1h-1zM133.3 102.4h1.7v1.1h-1.7zM140.4 101.5h1.1v1.1h-1.1zM141.8 100.9h1.1v1.1h-1.1zM145.5 100.9h1v1.1h-1zM148.1 100.2h1.2v1.1h-1.2zM19 116.2h1.2v1.1h-1.2zM23.2 115.9h1.4v1.1h-1.4zM74.2 113.2h1.3v1.1h-1.3zM83.7 112h1v1.1h-1zM108.2 109.7h1.5v1.1h-1.5zM114.4 109.1h1.3v1.1h-1.3zM123.7 108.3h1.5v1.1h-1.5zM130.1 107.7h1.3v1.1h-1.3zM136.1 106.6h1v1.1h-1zM137.3 106.5h1.2v1.1h-1.2zM140.8 106.2h1.7v1.1h-1.7zM13.9 120.2h1.4v1.1h-1.4zM25.4 120.2h1.5v1.1h-1.5zM27.4 119.6h1.1v1.1h-1.1zM78.5 116.6h1.4v1.1h-1.4zM84 116.1h1.1v1.1h-1.1zM117.2 112.6h1.6v1.1h-1.6zM147.2 109.4h1.7v1.1h-1.7zM148.9 109.3h1.2v1.1h-1.2zM10.2 124.9h1.5v1.1h-1.5zM17.4 125h1.3v1.1h-1.3zM19.5 124.8h1.4v1.1h-1.4zM21.3 124.7h1.3v1.1h-1.3zM26.3 124.4h1.4v1.1h-1.4zM29.9 124.1h1.2v1.1h-1.2zM37.3 123.8h1.2v1.1h-1.2zM81 121.3h1.1v1.1h-1.1zM84.2 120.7h1.1v1.1h-1.1zM87.2 120.2h1.5v1.1h-1.5zM116.2 117.8h1.4v1.1h-1.4zM119.2 117.1h1.5v1.1h-1.5zM136.2 115.5h1.4v1.1h-1.4zM153.8 112.8h1.5v1.1h-1.5zM160.7 111.7h1v1.1h-1zM164.3 111.8h1.2v1.1h-1.2zM165.8 111.2h1.5v1.1h-1.5zM9.4 130.2h1.3v1.1h-1.3zM15.7 130.1h1.2v1.1h-1.2zM18.5 129.6h1.4v1.1h-1.4zM31 129.4h1.1v1.1h-1.1zM41 128.8h1v1.1h-1zM43.9 128.5h1.3v1.1h-1.3zM62.3 127.1h1.2v1.1h-1.2zM64.3 127.4h1.6v1.1h-1.6zM78.1 126.4h1.2v1.1h-1.2zM105.8 123.3h1.6v1.1h-1.6zM110.9 123.2h1.4v1.1h-1.4zM146.1 118.9h1.3v1.1h-1.3zM147.8 118.9h1.3v1.1h-1.3zM152.5 117.7h1.4v1.1h-1.4zM158.7 116.9h1.5v1.1h-1.5zM42.9 133.2h1.7v1.1h-1.7zM49.9 132.9h1.2v1.1h-1.2zM57.2 132.7h1.2v1.1h-1.2zM73.5 131.4h1.4v1.1h-1.4zM92.9 129.6h1.3v1.1h-1.3zM111.5 127.6h1.4v1.1h-1.4zM129.2 125.8h1.1v1.1h-1.1zM134 125h1.2v1.1h-1.2zM159.1 121.7h1.1v1.1h-1.1zM96.9 133.7h1.2v1.1h-1.2zM112.8 132.5h1.5v1.1h-1.5zM122.8 131.4h1.1v1.1h-1.1zM124.5 131.2h1.3v1.1h-1.3zM128.1 130.2h1.6v1.1h-1.6zM135.8 129.8h1.3v1.1h-1.3zM140.8 128.8h1.2v1.1h-1.2zM155.7 126.8h1.6v1.1h-1.6zM158.4 126.5h1.4v1.1h-1.4z"/><path fill="#989894" d="M9.8 19.9h1.2v1.1h-1.2zM16.5 19.6h1.2v1.1h-1.2zM22.5 19.2h1.3v1.1h-1.3zM32 19h1.3v1.1h-1.3zM35.9 18.6h1.6v1.1h-1.6zM13.3 24.6h1.1v1.1h-1.1zM16.9 24.4h1.2v1.1h-1.2zM19.2 24.5h1.7v1.1h-1.7zM46.7 23h1.3v1.1h-1.3zM49.9 22.9h1.3v1.1h-1.3zM51.2 22.7h1.3v1.1h-1.3zM57.8 22.1h1.3v1.1h-1.3zM60 21.9h1.6v1.1h-1.6zM74.7 21.1h1.1v1.1h-1.1zM85.5 20.4h1.4v1.1h-1.4zM88.4 20.2h1.2v1.1h-1.2zM15.6 28.5h1.5v1.1h-1.5zM46.5 26.8h1.2v1.1h-1.2zM48 27h1.2v1.1h-1.2zM51.8 26.6h1.1v1.1h-1.1zM53 26.9h1.1v1.1h-1.1zM57.8 26.2h1v1.1h-1zM73.9 25.1h1.3v1.1h-1.3zM82.2 24.2h1.5v1.1h-1.5zM84 24h1.6v1.1h-1.6zM91.5 23.4h1.2v1.1h-1.2zM98.8 23h1.3v1.1h-1.3zM106.4 22.2h1.5v1.1h-1.5zM126.4 19.8h1.1v1.1h-1.1zM130.2 19.4h1.7v1.1h-1.7zM34.3 32.4h1.1v1.1h-1.1zM62 30.5h1.7v1.1h-1.7zM65.3 30.3h1.7v1.1h-1.7zM81.6 28.9h1.2v1.1h-1.2zM83.2 29.1h1.2v1.1h-1.2zM114.7 25.9h1.4v1.1h-1.4zM123.5 24.6h1v1.1h-1zM138.1 22.9h1.3v1.1h-1.3zM14.4 38.3h1v1.1h-1zM53.8 35.7h1.3v1.1h-1.3zM74.5 34.3h1.6v1.1h-1.6zM78.6 34h1.7v1.1h-1.7zM81.4 33.8h1.5v1.1h-1.5zM90.1 33.4h1.5v1.1h-1.5zM112.8 30.8h1v1.1h-1zM116.6 30.5h1.1v1.1h-1.1zM120.5 29.9h1.3v1.1h-1.3zM124.9 29.3h1.2v1.1h-1.2zM127.6 29.4h1.1v1.1h-1.1zM139.7 27.8h1.6v1.1h-1.6zM148.1 26.6h1.4v1.1h-1.4zM25.6 41.8h1.3v1.1h-1.3zM65.4 39.2h1.5v1.1h-1.5zM75 39h1v1.1h-1zM120.2 34.4h1.7v1.1h-1.7zM121.5 34.6h1.3v1.1h-1.3zM126.1 33.7h1.4v1.1h-1.4zM127.2 33.4h1.5v1.1h-1.5zM129.6 33.5h1.5v1.1h-1.5zM131.4 33.4h1.2v1.1h-1.2zM137.8 32.1h1.5v1.1h-1.5zM142.6 31.8h1.6v1.1h-1.6zM147.5 30.9h1.2v1.1h-1.2zM148.7 31.2h1.5v1.1h-1.5zM83 42.9h1.2v1.1h-1.2zM88.9 42.4h1.2v1.1h-1.2zM93.7 42.1h1.1v1.1h-1.1zM107 40.5h1.1v1.1h-1.1zM133.5 37.5h1.3v1.1h-1.3zM138.9 37.3h1.6v1.1h-1.6zM147.7 36h1v1.1h-1zM161.2 33.8h1v1.1h-1zM10.7 51.8h1.3v1.1h-1.3zM14.4 51.7h1.5v1.1h-1.5zM26.2 51.7h1.7v1.1h-1.7zM30.6 51h1.7v1.1h-1.7zM37 50.6h1.5v1.1h-1.5zM100.4 46.3h1.5v1.1h-1.5zM105 45.5h1.1v1.1h-1.1zM110.8 45.3h1.4v1.1h-1.4zM122.8 43.6h1.3v1.1h-1.3zM130 42.9h1.6v1.1h-1.6zM131.5 42.9h1.1v1.1h-1.1zM133.7 42.6h1.6v1.1h-1.6zM138.1 41.6h1.7v1.1h-1.7zM156.9 39.5h1.5v1.1h-1.5zM13.1 56.4h1.5v1.1h-1.5zM23.9 56.2h1.4v1.1h-1.4zM27.5 55.8h1.5v1.1h-1.5zM29.7 56h1.5v1.1h-1.5zM31.5 56h1.5v1.1h-1.5zM33.4 55.9h1.5v1.1h-1.5zM39.5 55.2h1.6v1.1h-1.6zM52.4 54.4h1.5v1.1h-1.5zM81.5 52.4h1.1v1.1h-1.1zM85.2 52.2h1.4v1.1h-1.4zM90.3 52.1h1v1.1h-1zM129.1 47.5h1.6v1.1h-1.6zM152 44.6h1.5v1.1h-1.5zM153 44.5h1.4v1.1h-1.4zM155.8 44h1v1.1h-1zM27.2 60.7h1.1v1.1h-1.1zM46.5 59.8h1.4v1.1h-1.4zM49.6 59.5h1.3v1.1h-1.3zM50.8 59.8h1.3v1.1h-1.3zM52.4 59.4h1.1v1.1h-1.1zM126.4 52.5h1.3v1.1h-1.3zM147.8 50h1.1v1.1h-1.1zM162 48h1.5v1.1h-1.5zM168.1 47.5h1.3v1.1h-1.3zM7.5 65.7h1.6v1.1h-1.6zM12 65.2h1.7v1.1h-1.7zM15.4 65.2h1.2v1.1h-1.2zM19.8 65.2h1.6v1.1h-1.6zM33.5 64.1h1.4v1.1h-1.4zM39.6 64.1h1.2v1.1h-1.2zM52.9 63.3h1.5v1.1h-1.5zM59.1 62.8h1.7v1.1h-1.7zM62.4 62.8h1.5v1.1h-1.5zM67.1 62.1h1.4v1.1h-1.4zM68.4 62.1h1v1.1h-1zM73.5 61.7h1.1v1.1h-1.1zM83.6 60.8h1.6v1.1h-1.6zM88.7 60.7h1.3v1.1h-1.3zM125.7 57.1h1.2v1.1h-1.2zM163.9 51.7h1.6v1.1h-1.6zM7.6 70.8h1.3v1.1h-1.3zM24.1 70.3h1.1v1.1h-1.1zM31.3 69.8h1.6v1.1h-1.6zM61.9 68h1v1.1h-1zM75.1 66.7h1.4v1.1h-1.4zM82.5 66h1.1v1.1h-1.1zM84.2 66.4h1.4v1.1h-1.4zM101.4 64.6h1.2v1.1h-1.2zM117.5 62.6h1.5v1.1h-1.5zM125.4 62.2h1.6v1.1h-1.6zM132.7 61.3h1.7v1.1h-1.7zM134.4 60.7h1.5v1.1h-1.5zM9.4 75.3h1.4v1.1h-1.4zM25.4 74.2h1.6v1.1h-1.6zM27.8 74.6h1.3v1.1h-1.3zM44.7 73.3h1.1v1.1h-1.1zM47.7 73.5h1.6v1.1h-1.6zM53.6 72.8h1.1v1.1h-1.1zM59.4 72.6h1.4v1.1h-1.4zM90.4 70h1v1.1h-1zM98.7 69.2h1.3v1.1h-1.3zM101.5 68.8h1.2v1.1h-1.2zM116.3 67.4h1.6v1.1h-1.6zM118.3 67.1h1.3v1.1h-1.3zM135.1 65.3h1.3v1.1h-1.3zM145.2 63.9h1.7v1.1h-1.7zM148.8 63.7h1.7v1.1h-1.7zM150 63.2h1.4v1.1h-1.4zM153.5 63h1.5v1.1h-1.5zM167.3 61.1h1.6v1.1h-1.6zM7.9 79.1h1.3v1.1h-1.3zM19.5 78.6h1.6v1.1h-1.6zM24.8 78.7h1.3v1.1h-1.3zM34.8 78h1.1v1.1h-1.1zM52.1 76.8h1.3v1.1h-1.3zM53 77h1.1v1.1h-1.1zM60.5 76.5h1.6v1.1h-1.6zM61.3 76.2h1.5v1.1h-1.5zM97.5 73.3h1.6v1.1h-1.6zM98.2 73.3h1.3v1.1h-1.3zM109.8 72.4h1.6v1.1h-1.6zM116.6 71.3h1.2v1.1h-1.2zM119.8 71.3h1.1v1.1h-1.1zM135.6 69.3h1v1.1h-1zM152 67.3h1.3v1.1h-1.3zM159.7 66h1.6v1.1h-1.6zM161.6 65.9h1.7v1.1h-1.7zM164.2 65.2h1.3v1.1h-1.3zM168.6 64.9h1.7v1.1h-1.7zM17.3 83.7h1.7v1.1h-1.7zM30.6 83.3h1.3v1.1h-1.3zM56.5 82h1.6v1.1h-1.6zM62 81.3h1.3v1.1h-1.3zM65.6 81.1h1.6v1.1h-1.6zM70.9 80.8h1.2v1.1h-1.2zM85.4 79.5h1.7v1.1h-1.7zM105.1 77.5h1.2v1.1h-1.2zM122.2 75.7h1.5v1.1h-1.5zM124.3 75.8h1.5v1.1h-1.5zM134 74.5h1.2v1.1h-1.2zM140.4 73.9h1.4v1.1h-1.4zM142.1 73.6h1.3v1.1h-1.3zM143.2 73.2h1.1v1.1h-1.1zM144.6 73.2h1.7v1.1h-1.7zM149.6 72.6h1.5v1.1h-1.5zM154.7 72h1.4v1.1h-1.4zM155.8 71.6h1.4v1.1h-1.4zM159.8 71h1.3v1.1h-1.3zM161.7 70.8h1.2v1.1h-1.2zM7 88.6h1.6v1.1h-1.6zM36.4 87.6h1.1v1.1h-1.1zM37.6 87.1h1.1v1.1h-1.1zM44.2 86.8h1.4v1.1h-1.4zM65.2 85.4h1.2v1.1h-1.2zM79.9 84.2h1.1v1.1h-1.1zM105.2 82.1h1.1v1.1h-1.1zM158.8 75.6h1v1.1h-1zM15.3 93.3h1.6v1.1h-1.6zM35.1 92.5h1.2v1.1h-1.2zM37.9 92h1.4v1.1h-1.4zM43.6 91.9h1.6v1.1h-1.6zM61.3 90.6h1.5v1.1h-1.5zM93.3 88.4h1.7v1.1h-1.7zM101.2 87.6h1v1.1h-1zM107.7 87.1h1.1v1.1h-1.1zM10 97.9h1.7v1.1h-1.7zM15.2 97.2h1.4v1.1h-1.4zM36.1 96.3h1.1v1.1h-1.1zM54 95.3h1.1v1.1h-1.1zM68.2 94.3h1.2v1.1h-1.2zM82.3 93.6h1.5v1.1h-1.5zM83.9 93.4h1.3v1.1h-1.3zM85.5 93.3h1.5v1.1h-1.5zM86.9 92.7h1v1.1h-1zM93 92.1h1.7v1.1h-1.7zM98.8 91.9h1.1v1.1h-1.1zM101.8 91.4h1.5v1.1h-1.5zM126 88.8h1v1.1h-1zM7.5 102.4h1.3v1.1h-1.3zM9.1 102.9h1.6v1.1h-1.6zM12.3 102.3h1v1.1h-1zM19.1 102.5h1.4v1.1h-1.4zM22.4 102.2h1.4v1.1h-1.4zM25.1 101.8h1.1v1.1h-1.1zM33.6 101.5h1.4v1.1h-1.4zM35.6 101.6h1.2v1.1h-1.2zM51.2 100.5h1.6v1.1h-1.6zM55.5 100.1h1.5v1.1h-1.5zM61.8 99.9h1.5v1.1h-1.5zM63.9 99.7h1v1.1h-1zM71.5 99.2h1.1v1.1h-1.1zM74.6 99.1h1.7v1.1h-1.7zM84.8 98.4h1.4v1.1h-1.4zM92.3 97.4h1.4v1.1h-1.4zM93.5 97.5h1.1v1.1h-1.1zM101.7 96.5h1.7v1.1h-1.7zM107 96.2h1.4v1.1h-1.4zM107.8 95.7h1.3v1.1h-1.3zM109.3 95.6h1.4v1.1h-1.4zM11.6 107.1h1.3v1.1h-1.3zM12.9 107.1h1.4v1.1h-1.4zM16.1 106.8h1.2v1.1h-1.2zM18.9 106.6h1.3v1.1h-1.3zM21.9 106.6h1.5v1.1h-1.5zM24.5 106.6h1.1v1.1h-1.1zM26.5 106.3h1.2v1.1h-1.2zM27.6 106.5h1.7v1.1h-1.7zM35.8 106.1h1.7v1.1h-1.7zM39.8 105.6h1.2v1.1h-1.2zM77.2 103.3h1.6v1.1h-1.6zM82.4 102.7h1.3v1.1h-1.3zM87.1 102.3h1.7v1.1h-1.7zM90.6 101.7h1.6v1.1h-1.6zM92.2 101.6h1.4v1.1h-1.4zM94.2 101.8h1.5v1.1h-1.5zM99.5 101h1.6v1.1h-1.6zM118.4 99.2h1.1v1.1h-1.1zM131.2 97.9h1.5v1.1h-1.5zM132.7 97.7h1v1.1h-1zM9.6 111.5h1.5v1.1h-1.5zM16 111.3h1.2v1.1h-1.2zM23.2 111.4h1.2v1.1h-1.2zM28.4 110.7h1v1.1h-1zM61.8 109.2h1.6v1.1h-1.6zM122.3 103.6h1.5v1.1h-1.5zM123.6 103h1.3v1.1h-1.3zM125.6 102.9h1.5v1.1h-1.5zM130.3 102.2h1.7v1.1h-1.7zM134.3 102h1.2v1.1h-1.2zM136.9 101.5h1.4v1.1h-1.4zM163.3 98.2h1.3v1.1h-1.3zM16 116.4h1.3v1.1h-1.3zM17.6 116.1h1.7v1.1h-1.7zM28.6 115.8h1.2v1.1h-1.2zM31.9 115.7h1.2v1.1h-1.2zM36.6 115.3h1.2v1.1h-1.2zM75.5 112.7h1.5v1.1h-1.5zM79.9 112.6h1v1.1h-1zM83.1 112.4h1.6v1.1h-1.6zM84.8 112h1.7v1.1h-1.7zM111.5 109.5h1.4v1.1h-1.4zM139.2 106.6h1.3v1.1h-1.3zM9.6 120.5h1.3v1.1h-1.3zM12.8 120.5h1.3v1.1h-1.3zM76.9 116.9h1.6v1.1h-1.6zM113.9 113.4h1.1v1.1h-1.1zM120 112.4h1.7v1.1h-1.7zM135.1 111h1.1v1.1h-1.1zM167 106.2h1.3v1.1h-1.3zM169.5 106.1h1.5v1.1h-1.5zM22.9 124.7h1.4v1.1h-1.4zM32.8 124.3h1.3v1.1h-1.3zM42.5 123.5h1.1v1.1h-1.1zM90.9 120.3h1v1.1h-1zM108.7 118.5h1.3v1.1h-1.3zM133.1 115.4h1.3v1.1h-1.3zM145.6 114.3h1.6v1.1h-1.6zM19.9 129.5h1.3v1.1h-1.3zM21.6 129.6h1.5v1.1h-1.5zM29.4 129.5h1.6v1.1h-1.6zM42.4 128.5h1.2v1.1h-1.2zM55.9 127.5h1.1v1.1h-1.1zM91.2 125.3h1.1v1.1h-1.1zM100.7 124.1h1.2v1.1h-1.2zM112.1 123h1v1.1h-1zM117.7 122.5h1.4v1.1h-1.4zM130.7 120.6h1.6v1.1h-1.6zM135.6 120h1.4v1.1h-1.4zM137.4 120.2h1v1.1h-1zM160.3 116.7h1.2v1.1h-1.2zM41.6 133.5h1.1v1.1h-1.1zM78.4 130.8h1.1v1.1h-1.1zM96.3 129.4h1.1v1.1h-1.1zM103.4 128.6h1.4v1.1h-1.4zM118.2 126.8h1.1v1.1h-1.1zM123.3 126.5h1.4v1.1h-1.4zM132.1 125.2h1.4v1.1h-1.4zM135.5 125.1h1.1v1.1h-1.1zM151.6 122.9h1.1v1.1h-1.1zM155.5 122.6h1.5v1.1h-1.5zM161.3 121.7h1.1v1.1h-1.1zM164.1 120.9h1.3v1.1h-1.3zM164.8 121.2h1.4v1.1h-1.4zM167.8 120.3h1.6v1.1h-1.6zM101.7 133.6h1v1.1h-1zM107.5 132.9h1v1.1h-1zM112 132.2h1.1v1.1h-1.1zM121.1 131.1h1.6v1.1h-1.6zM129.4 130.4h1.6v1.1h-1.6zM134.4 129.7h1.4v1.1h-1.4zM142.5 128.8h1.1v1.1h-1.1zM146.7 128h1.7v1.1h-1.7zM169.5 124.9h1.6v1.1h-1.6z"/><path fill="#444442" d="M10.8 20.8h2v1.7h-2zM19.4 20.4h1.6v2.4h-1.6zM30.3 20.2h2v1.8h-2zM32.3 20.2h1.4v2.2h-1.4zM38.1 19.9h1.9v2h-1.9zM13.5 25.8h1.7v2h-1.7zM31.7 25.1h1.4v1.8h-1.4zM37.9 24.5h1.3v2h-1.3zM44.6 24.1h1.8v2.3h-1.8zM48.4 24.4h1.6v1.8h-1.6zM50 24.1h1.3v1.6h-1.3zM52.6 23.9h1.7v1.7h-1.7zM56.3 23.7h1.8v2.1h-1.8zM60 23.1h1.1v2.3h-1.1zM71.8 22.3h1v2.3h-1zM74.7 22.3h1.4v1.7h-1.4zM77.8 22.3h1.3v2.4h-1.3zM8.2 30.1h1.8v1.9h-1.8zM13.2 29.5h1.1v1.8h-1.1zM18.9 29.7h1.4v1.9h-1.4zM23.6 29.3h1.7v1.8h-1.7zM25.3 29.1h1.3v2.2h-1.3zM34.3 29.1h1.3v2h-1.3zM35.6 28.6h1.7v1.7h-1.7zM41 28.3h1.4v2.4h-1.4zM44.8 28.1h1.6v2.4h-1.6zM48.1 28.2h1.9v1.7h-1.9zM75.9 26.5h1.5v2.3h-1.5zM82.2 25.4h2v2.1h-2zM91.4 24.6h1.6v2.2h-1.6zM96.7 24.5h1.9v1.8h-1.9zM103.2 23.7h1.4v2.2h-1.4zM106.6 23.4h1.5v2h-1.5zM108.1 23.2h1v1.7h-1zM126.3 21h1.4v1.9h-1.4zM11.1 34.1h1.5v1.6h-1.5zM21.4 34h1.2v1.7h-1.2zM33.1 33.6h1.1v1.7h-1.1zM35.2 33.3h1.8v2h-1.8zM43.9 32.5h1.5v2.3h-1.5zM48.9 32.8h1.4v2.2h-1.4zM54.4 31.9h1.4v1.9h-1.4zM60.4 32h1.3v2.2h-1.3zM63.9 31.7h1.3v2.3h-1.3zM66.7 31.1h1.8v2.2h-1.8zM73.2 31h1.7v2h-1.7zM77.5 30.7h1.3v1.7h-1.3zM83.1 30.3h1v2.1h-1zM85.6 29.6h1.8v2.3h-1.8zM92.7 29.4h1.2v2.4h-1.2zM107.8 27.7h1.5v2.2h-1.5zM116.4 26.5h1.2v1.8h-1.2zM127.7 25.2h1.6v1.9h-1.6zM132.4 24.7h1.4v2.1h-1.4zM22.8 38.9h1.8v2.3h-1.8zM34.4 38.2h1.3v2.3h-1.3zM60.1 36.8h1.7v2.1h-1.7zM61.9 37h1.5v1.7h-1.5zM78.3 35.2h1.5v2.1h-1.5zM112.6 32h2v2.3h-2zM141.1 28.9h1.8v1.8h-1.8zM39.9 42.4h1.4v2.3h-1.4zM76.6 39.6h1.2v1.9h-1.2zM84.2 39.4h1v1.8h-1zM90.2 38.8h1.6v1.7h-1.6zM93.7 38.2h1.6v2.1h-1.6zM101 37.9h1.1v2h-1.1zM120.4 35.6h1v2.1h-1zM129.4 34.7h1.9v2.1h-1.9zM134.2 34.2h1.4v1.9h-1.4zM137.9 33.3h1.3v2.3h-1.3zM139.1 33.5h2v2.4h-2zM155.1 31.4h1.8v1.9h-1.8zM163.9 30h1.6v1.6h-1.6zM24.9 48.2h1.9v2h-1.9zM51.5 46.4h1.5v1.8h-1.5zM56.7 46.5h1.1v2h-1.1zM86.3 44h1.1v1.9h-1.1zM88.7 43.6h1.5v1.7h-1.5zM98.6 42.7h1.3v1.7h-1.3zM101.8 42.7h1.3v1.7h-1.3zM103.1 42.4h1.7v2.3h-1.7zM104.8 42h1.5v2.3h-1.5zM126.4 40.1h1.7v1.8h-1.7zM138.7 38.5h1.7v2h-1.7zM141.5 38.1h1.1v2.2h-1.1zM149.3 36.9h1.6v2.1h-1.6zM150.9 36.9h1.7v2.1h-1.7zM152.6 36.7h1.4v1.6h-1.4zM163.1 34.8h1.6v1.6h-1.6zM166.4 34.5h1.8v2h-1.8zM169.4 34.4h1.7v2.4h-1.7zM7.3 53.2h1.6v2h-1.6zM23.6 53h1.1v2.2h-1.1zM27.8 52.3h1.7v2.2h-1.7zM29.5 52.6h1.3v2.4h-1.3zM30.8 52.2h1.6v2.2h-1.6zM39.8 52h1.9v2.3h-1.9zM92.3 47.9h1.3v2.1h-1.3zM95.7 47.7h1.9v2.2h-1.9zM100.5 47.5h1.5v2.3h-1.5zM107.9 46.5h1.9v1.9h-1.9zM125.4 45h1.1v1.6h-1.1zM135.5 43.2h1.1v2.2h-1.1zM136.7 43.6h1.6v2h-1.6zM138.2 42.8h1.4v1.9h-1.4zM142 42.6h1.1v2.2h-1.1zM147.2 42.1h1.3v2.1h-1.3zM152.1 41.2h1.8v1.8h-1.8zM159.6 40h1.8v2.3h-1.8zM161.3 39.9h1.6v2.2h-1.6zM19.5 57.5h1.9v2.1h-1.9zM22.6 57.2h1.3v2.4h-1.3zM34.4 56.7h1.7v2h-1.7zM45.1 56.1h1.6v1.6h-1.6zM49.6 56h1.2v2.1h-1.2zM81.6 53.6h1.7v2.3h-1.7zM83.3 53.4h1.8v2h-1.8zM90.1 53.3h1.4v1.9h-1.4zM91.5 52.8h1.8v1.8h-1.8zM104.4 51.5h1.1v1.6h-1.1zM111.9 50.7h1.4v2.1h-1.4zM124 49.7h1.3v1.6h-1.3zM125.3 49.1h1.2v2.3h-1.2zM130.4 48.6h1.1v2.3h-1.1zM133.4 48.5h1.6v2.4h-1.6zM135 48.4h1.8v1.7h-1.8zM136.8 47.9h1.5v2.1h-1.5zM141.3 47.2h1.1v2.1h-1.1zM142.3 47h1v1.7h-1zM143.4 47.2h1.1v2.2h-1.1zM148.4 46.5h1.7v1.6h-1.7zM153.2 45.7h1v1.8h-1zM154.3 45.5h1.7v2.4h-1.7zM157.7 45.4h1.5v1.8h-1.5zM162 44.6h1.2v2.1h-1.2zM166 43.9h1.9v1.6h-1.9zM6.7 63h1.9v2.3h-1.9zM10.3 62.7h1.7v2.1h-1.7zM23.2 62h1.9v1.7h-1.9zM25.1 62h1.8v1.9h-1.8zM26.9 61.9h1.9v1.7h-1.9zM33.9 61.9h1.4v2.1h-1.4zM35.3 61.4h1.1v1.9h-1.1zM40.1 61.3h1.8v1.7h-1.8zM42.8 61.4h2v1.8h-2zM46.3 61h1.5v1.7h-1.5zM53.7 60.7h1.8v1.6h-1.8zM56.5 60.4h1.9v2.3h-1.9zM65.8 59.7h1.8v1.8h-1.8zM77.8 59.1h1.7v2.2h-1.7zM83.2 58.3h1.1v2.1h-1.1zM85.4 58.2h1.7v1.6h-1.7zM129.2 53.5h1.7v2h-1.7zM134 52.8h1.2v1.7h-1.2zM142 52h1.5v1.7h-1.5zM146 51.6h1.7v1.9h-1.7zM155 50.5h1.4v1.7h-1.4zM160.1 49.4h1.8v1.9h-1.8zM19.9 66.4h1.5v1.8h-1.5zM22.5 66.2h1.7v1.7h-1.7zM30.2 65.5h1.3v2.2h-1.3zM48.6 64.8h1.1v2.1h-1.1zM53.9 64.3h1.6v2.4h-1.6zM70.6 63.5h1.3v2.3h-1.3zM77.2 62.9h1.5v1.7h-1.5zM82.1 62.5h1.3v1.9h-1.3zM87 61.8h1.7v2h-1.7zM120.1 58.6h1.9v1.9h-1.9zM124.6 57.9h1.3v2.1h-1.3zM129.4 57.5h1.3v2.3h-1.3zM14.1 71.7h1.6v1.8h-1.6zM16.7 71.6h2v2.2h-2zM24.2 71.5h1.7v2h-1.7zM35.5 70.5h1.1v1.7h-1.1zM36.6 70.7h1.7v1.9h-1.7zM42.5 70.4h2v2.2h-2zM54.9 69.3h1.5v2.3h-1.5zM62.2 69.2h1.2v2.1h-1.2zM63.4 69h1.9v2h-1.9zM77.4 67.8h1.6v1.7h-1.6zM79.1 68h1.9v2.2h-1.9zM82.8 67.2h1.5v1.7h-1.5zM84.3 67.6h1.6v2.4h-1.6zM93.2 66.6h1.1v2h-1.1zM94.2 66.5h1.7v2h-1.7zM99.3 65.9h1.9v2.3h-1.9zM101.1 65.8h1.9v1.9h-1.9zM104 65.5h1.8v1.9h-1.8zM117.3 63.8h1.4v1.9h-1.4zM123.9 63.4h1.3v1.8h-1.3zM134.3 61.9h1.6v1.8h-1.6zM7.2 76.5h2v2.1h-2zM25.1 75.4h1.6v2.2h-1.6zM33.8 75.1h1.5v2h-1.5zM35.3 75.1h1.6v1.6h-1.6zM46.5 74.4h1.3v2.2h-1.3zM53.8 74h2v2.3h-2zM59.4 73.8h1.5v2.3h-1.5zM62.1 73.2h1.9v1.9h-1.9zM64 73.6h1v2.2h-1zM69.7 73.2h1.8v1.9h-1.8zM82.2 72.1h1.2v2.1h-1.2zM83.4 71.7h1.8v1.6h-1.8zM87.6 71.5h1.7v1.7h-1.7zM92.1 71.3h1.9v1.9h-1.9zM94 70.9h1.4v1.8h-1.4zM95.4 70.6h1.4v1.7h-1.4zM98.6 70.4h1.5v1.8h-1.5zM102.8 70.1h1.1v2.1h-1.1zM105.2 69.7h1.6v2.3h-1.6zM113.4 68.9h1.9v2.1h-1.9zM116.6 68.6h1.9v1.7h-1.9zM122.3 67.8h1.3v2.1h-1.3zM124.8 67.7h1.6v2.4h-1.6zM126.4 67.6h1.6v1.9h-1.6zM128 67.4h1v1.8h-1zM131 66.9h1.1v1.8h-1.1zM135.1 66.5h1.4v2h-1.4zM136.5 66.5h1v2.1h-1zM137.5 66.3h1.5v2.2h-1.5zM142 65.4h1.8v1.9h-1.8zM153.8 64.2h1.6v1.8h-1.6zM167.2 62.3h1.2v1.8h-1.2zM11.5 80.3h1.7v1.9h-1.7zM18.2 80h1.2v2.4h-1.2zM19.4 79.8h1.9v2.1h-1.9zM22.5 80.1h1.1v2.2h-1.1zM26.2 79.4h1.3v2.2h-1.3zM30 79.3h1.1v2.3h-1.1zM39.2 79h1.9v2.1h-1.9zM43.1 78.8h1.7v2.2h-1.7zM64.2 77.5h2v2h-2zM68 77.4h1.7v2h-1.7zM105.4 73.8h1.9v1.9h-1.9zM108.5 73.6h1.5v1.7h-1.5zM119.7 72.5h1.6v1.9h-1.6zM126.5 71.4h1.4v2.4h-1.4zM130.9 70.7h1.1v1.8h-1.1zM132 70.7h1.7v2.2h-1.7zM138.6 70h1.1v1.8h-1.1zM139.6 70.1h1.7v2h-1.7zM146.1 68.9h1.3v1.9h-1.3zM162.9 66.9h1.4v1.7h-1.4zM164.3 66.4h1.5v2h-1.5zM165.8 66.4h1.1v2.2h-1.1zM166.9 66.1h1.9v2h-1.9zM20.4 85h1.5v2h-1.5zM24.8 84.9h1.1v1.8h-1.1zM33.6 84.5h1.8v2.1h-1.8zM47.2 83.3h1.1v2.3h-1.1zM53 83.2h1.4v2.2h-1.4zM62.1 82.5h1.8v1.6h-1.8zM63.9 82.7h1.6v2.1h-1.6zM69.7 81.9h1.2v1.9h-1.2zM75.9 81.4h1v1.8h-1zM78.3 81.4h1v1.8h-1zM101.4 79.1h1.6v1.8h-1.6zM106.2 79.1h1.5v1.7h-1.5zM112.3 78.3h1.8v2h-1.8zM122.4 76.9h1.8v1.9h-1.8zM133.8 75.7h1.3v2.1h-1.3zM156 72.8h1.8v2.3h-1.8zM161.6 72h1.9v1.6h-1.9zM166.9 71.4h1.3v2.3h-1.3zM36.7 88.8h1v1.7h-1zM44.2 88h1.6v2.3h-1.6zM50.1 88.1h1.8v2.2h-1.8zM53.2 87.6h1v2.2h-1zM57.8 87.4h1.7v2.3h-1.7zM69.8 86.6h1.1v1.6h-1.1zM70.9 86.3h1.2v1.7h-1.2zM72.1 86.4h1.3v1.7h-1.3zM88.3 85.1h1.9v1.9h-1.9zM96.3 84.4h1.7v1.8h-1.7zM99.1 84.1h1.1v2.3h-1.1zM103.2 83.3h1.9v2.3h-1.9zM109.8 83.2h1.5v2.2h-1.5zM117 82.1h1.9v1.8h-1.9zM153.5 77.7h1.9v1.8h-1.9zM159.1 76.8h1v2.4h-1zM167.7 75.8h1.2v2h-1.2zM168.9 75.1h1v2.3h-1zM13.7 94.8h1.8v2h-1.8zM19.2 94.4h1.7v1.6h-1.7zM29.1 94h1.7v2.3h-1.7zM68.7 91.4h1.1v1.9h-1.1zM69.8 91.6h1.2v2.3h-1.2zM82.8 90.4h1.5v1.9h-1.5zM91.3 89.8h2v2.2h-2zM93.3 89.6h1.3v2.2h-1.3zM101.5 88.8h1.4v2.2h-1.4zM107.5 88.3h1.1v2.3h-1.1zM108.6 88.1h1.3v1.7h-1.3zM120.6 86.5h1.1v1.8h-1.1zM166.8 80.4h1.9v1.7h-1.9zM6.3 99.3h1.9v1.7h-1.9zM14.1 98.5h1.3v1.9h-1.3zM34.1 97.6h1.8v2.1h-1.8zM43.2 97.6h1.6v1.7h-1.6zM63.6 96.1h1v1.7h-1zM73.7 95.1h1.3v1.9h-1.3zM75 95.1h1.5v2.1h-1.5zM84.1 94.6h1.1v1.8h-1.1zM85.2 94.5h2v2.2h-2zM88.9 94.2h1v2.3h-1zM98 93.1h1v2h-1zM106.6 92.3h1.9v2.3h-1.9zM119.1 91.1h1.3v2.3h-1.3zM168.4 84.5h1.6v2h-1.6zM9.2 104.1h1.4v2.1h-1.4zM12.5 103.5h1.8v2.3h-1.8zM14.3 103.6h1.6v2.2h-1.6zM15.9 103.4h1.7v2.4h-1.7zM31.7 102.8h1.9v1.8h-1.9zM35.6 102.8h1.8v2.1h-1.8zM50.2 101.8h1.2v2.1h-1.2zM55.5 101.3h1.5v2.3h-1.5zM61.6 101.1h1.6v1.6h-1.6zM83.2 99.4h1.6v2.2h-1.6zM90.1 98.6h1.9v1.6h-1.9zM92 98.6h1.2v2h-1.2zM104.1 97.5h1.2v2.3h-1.2zM107.9 96.9h1.4v1.9h-1.4zM165 89.7h1.3v2.4h-1.3zM167.8 89.9h1.4v2.1h-1.4zM7.1 108.4h1.5v2.2h-1.5zM12.8 108.3h1.8v2.2h-1.8zM22 107.8h1.3v1.9h-1.3zM26.5 107.5h1.3v1.6h-1.3zM34.4 107.2h1.2v1.9h-1.2zM41.4 106.8h1.8v2.3h-1.8zM47.3 106.7h1.4v1.9h-1.4zM72.9 105h1.4v2.1h-1.4zM76 104.7h1.1v2.3h-1.1zM82.6 103.9h1.6v2.3h-1.6zM85.9 103.7h1.1v2.3h-1.1zM94.1 103h1.3v1.7h-1.3zM99.3 102.2h2v1.7h-2zM102.5 102.2h1.1v2.3h-1.1zM108.3 101.4h1.6v1.6h-1.6zM109.9 101.1h1.6v1.7h-1.6zM111.5 101.4h1.2v2h-1.2zM117.4 100.7h1.1v2.3h-1.1zM118.5 100.4h1.4v2.1h-1.4zM124 99.9h1.9v1.9h-1.9zM127.8 99.1h1.7v1.6h-1.7zM139.8 97.8h1.6v2.2h-1.6zM145.1 97.4h1.7v2.3h-1.7zM166.9 94.4h1.8v1.7h-1.8zM170.6 93.5h1.7v1.7h-1.7zM16.3 112.5h1.3v2h-1.3zM20.1 112.6h1.5v2.1h-1.5zM22.9 112.6h1.5v1.9h-1.5zM24.4 112.5h1.9v2.1h-1.9zM30.1 112h1.3v2.2h-1.3zM33.1 111.8h1.1v2.4h-1.1zM72.4 109.3h1.7v1.8h-1.7zM76.3 109.3h1.7v2.2h-1.7zM80.6 109h1.6v2.1h-1.6zM82.2 108.9h1.3v1.8h-1.3zM103.9 106.3h2v1.7h-2zM112.6 105.5h1.7v2.2h-1.7zM118 105.1h1.9v1.9h-1.9zM133.3 103.6h1.1v2h-1.1zM134.5 103.2h1.2v2.1h-1.2zM137.1 102.7h1.9v2.4h-1.9zM140.3 102.7h1.3v1.9h-1.3zM168.7 98.7h1.4v1.7h-1.4zM12.6 117.7h1.3v2h-1.3zM30.2 117h1.5v2.1h-1.5zM36.5 116.5h1.9v2h-1.9zM84.8 113.2h1.7v1.9h-1.7zM122.5 109.5h1.3v2.2h-1.3zM123.8 109.5h1.8v2h-1.8zM126.8 109.3h1.2v2.3h-1.2zM136 107.8h1.6v1.7h-1.6zM139.1 107.8h2v1.7h-2zM142.5 106.9h1.8v2.1h-1.8zM148.9 106.5h1.3v1.6h-1.3zM7.5 121.5h1.9v1.7h-1.9zM25.3 121.4h1.2v1.9h-1.2zM80.2 117.4h1.5v1.8h-1.5zM81.8 117.3h1.9v1.7h-1.9zM83.7 117.3h1.4v1.8h-1.4zM117 113.8h1.7v1.7h-1.7zM142.8 111.2h1.2v1.9h-1.2zM166.9 107.4h1.3v2.2h-1.3zM8.5 126.6h1.6v2h-1.6zM22.9 125.9h1.7v1.8h-1.7zM26.4 125.6h1.6v2.1h-1.6zM28 125.7h1.8v2h-1.8zM34.2 125.5h1.2v1.8h-1.2zM37.1 125h1.2v2.1h-1.2zM42.7 124.7h1v2h-1zM84 121.9h1.8v1.9h-1.8zM87.1 121.4h1.4v2h-1.4zM108.6 119.7h1.4v2.2h-1.4zM120.8 118.3h1.3v2.1h-1.3zM138.8 116h1.2v1.7h-1.2zM140 115.9h1.2v1.8h-1.2zM145.6 115.5h1.8v2.1h-1.8zM165.6 112.4h1.3v2h-1.3zM6.1 131.6h2v2.1h-2zM9.2 131.4h1.9v2.2h-1.9zM24.5 130.5h2v2h-2zM32.6 130.4h1.5v1.6h-1.5zM42.1 129.7h2v2.3h-2zM49.8 129.5h1.4v2.2h-1.4zM75.6 127.5h1v2.1h-1zM77.9 127.6h1.2v1.7h-1.2zM81.2 126.8h1.4v1.8h-1.4zM97.9 125.5h1.2v1.7h-1.2zM100.8 125.3h2v2.3h-2zM106.8 124.9h1.3v2.4h-1.3zM111.2 124.4h1.1v2.2h-1.1zM127.4 122.7h1.4v1.9h-1.4zM139 121.1h1.8v2.2h-1.8zM140.8 120.5h1.8v1.9h-1.8zM155.8 119h1.9v2.1h-1.9zM160.3 117.9h1.7v2.2h-1.7zM165.6 117.7h1.2v2.1h-1.2zM168.3 117.2h1.9v1.8h-1.9zM41.6 134.7h1.1v2h-1.1zM42.7 134.4h1.5v2.2h-1.5zM53 134h1.8v1.6h-1.8zM63.5 133.4h2v2h-2zM76.4 132.5h1.8v2.3h-1.8zM86.1 131.3h1.8v2.1h-1.8zM87.9 131.2h1.2v2.1h-1.2zM101.9 130h1.2v2.2h-1.2zM134.1 126.2h1.5v2.1h-1.5zM140.7 125.8h1.9v2.1h-1.9zM144.2 124.8h1.8v2.1h-1.8zM146 125.1h1.9v2.1h-1.9zM149.6 124.3h2v2.4h-2zM161.1 122.9h1.3v1.9h-1.3zM165 122.4h1.1v1.9h-1.1zM168 121.5h1.7v2.4h-1.7zM104.7 134.3h1v2.2h-1zM105.7 133.9h1.8v1.8h-1.8zM109.9 133.9h1.8v1.9h-1.8zM114.7 133.4h1.8v2.2h-1.8zM116.4 132.7h1.2v2h-1.2zM117.7 133.1h1.3v1.7h-1.3zM131.2 131.6h2v2.2h-2zM134.3 130.9h1.3v1.7h-1.3zM137.1 130.5h1.9v1.9h-1.9zM148.6 129.1h1.3v1.8h-1.3zM149.9 129h1.2v2.2h-1.2zM157 127.8h1.3v2.2h-1.3zM161.7 127.5h2v1.7h-2zM169.6 126.1h1.8v1.6h-1.8z"/><path fill="#3c3c3a" d="M12.8 20.7h2v1.7h-2zM27.1 20.5h1.7v2.1h-1.7zM34.8 19.8h1.4v1.8h-1.4zM6.4 26.1h1.7v1.9h-1.7zM24.3 25.2h1.1v1.9h-1.1zM34.3 25.2h1.9v1.7h-1.9zM39.2 24.5h1.6v2.1h-1.6zM54.4 24.1h1v2h-1zM62.9 23.3h1.3v1.9h-1.3zM72.8 22.3h2v1.8h-2zM80.7 21.6h1.6v2.3h-1.6zM87.6 21h1.1v1.9h-1.1zM88.7 21.4h1.2v2.2h-1.2zM101.2 20.1h1.8v2.3h-1.8zM10 29.9h1.7v1.7h-1.7zM14.3 29.6h1.2v2.3h-1.2zM17.1 29.7h1.8v2.1h-1.8zM26.6 29.5h1.7v1.9h-1.7zM38.5 28.5h1.2v1.8h-1.2zM46.4 28h1.7v2.2h-1.7zM51.8 27.8h1v2.2h-1zM52.9 28.1h1.6v1.8h-1.6zM67.6 26.8h1.9v2.3h-1.9zM72.2 26.3h1.7v2.1h-1.7zM84.2 25.2h1.1v1.8h-1.1zM85.3 25.1h1.4v2.3h-1.4zM86.8 25h1v1.9h-1zM87.8 25.2h1.9v2.2h-1.9zM93 24.6h1.1v2.3h-1.1zM95.3 24.7h1.5v2.4h-1.5zM104.6 23.4h1.9v2.1h-1.9zM122.9 21.6h1.9v1.9h-1.9zM124.7 21.2h1.6v2h-1.6zM131.5 20.7h1.4v1.8h-1.4zM132.9 20.1h1.9v1.8h-1.9zM134.8 20.1h1.3v1.8h-1.3zM37.1 33.1h1.9v2.2h-1.9zM45.4 32.9h1.2v2.3h-1.2zM46.6 32.7h1.5v2.2h-1.5zM50.3 32.5h1.2v2.3h-1.2zM62.8 31.8h1.1v2.1h-1.1zM65.2 31.5h1.5v1.8h-1.5zM68.5 30.9h1.9v2h-1.9zM71.8 30.8h1.4v1.8h-1.4zM78.8 30.3h1.5v2.3h-1.5zM91.1 29.6h1.6v2.2h-1.6zM95 28.7h2v2.3h-2zM98.9 28.8h1.2v1.7h-1.2zM102.2 28.1h2v2.1h-2zM104.1 28.2h1.2v2.1h-1.2zM105.4 27.7h1.1v2.3h-1.1zM117.6 26.6h1.6v2.1h-1.6zM119.2 26.4h1.6v1.7h-1.6zM129.4 25.2h2v1.9h-2zM133.8 24.8h1.3v2.3h-1.3zM138.4 24.1h1.9v2h-1.9zM157.9 21.6h1.6v1.8h-1.6zM14.2 39.5h1.9v1.8h-1.9zM24.6 38.8h1.8v2.3h-1.8zM26.3 38.9h1.7v2.3h-1.7zM29.9 38.8h1.4v1.9h-1.4zM32.7 38.5h1.7v2.2h-1.7zM47.1 37.8h1.5v2.1h-1.5zM50 37.5h1.1v2h-1.1zM55.5 37.1h1.6v1.9h-1.6zM63.4 36.8h1.7v2.1h-1.7zM65.1 36.5h1.8v2.4h-1.8zM68 36.4h1.1v1.7h-1.1zM70 36.3h1.1v1.9h-1.1zM72.7 36.1h1.7v2.1h-1.7zM84.9 35.1h1.2v2.2h-1.2zM88.5 34.6h1.9v1.8h-1.9zM90.4 34.6h1v1.8h-1zM94.7 34h1.3v2.3h-1.3zM99.2 33.4h1.1v2.3h-1.1zM100.3 33.4h1.7v1.8h-1.7zM103.9 32.9h1.4v2.2h-1.4zM105.3 32.7h1.9v2.2h-1.9zM108.2 32.8h1.7v2h-1.7zM115.7 32.1h1.2v1.7h-1.2zM124.8 30.5h1.4v2h-1.4zM136.4 29.3h1.9v2.2h-1.9zM138.3 29.4h1.5v1.9h-1.5zM139.8 29h1.3v2.2h-1.3zM147.9 27.8h1.3v2.1h-1.3zM22 42.9h1.4v2.2h-1.4zM25.4 43h1.5v1.9h-1.5zM43.9 42.4h1.3v2.2h-1.3zM67 40.7h1.3v2.1h-1.3zM75.3 40.2h1.3v2.1h-1.3zM77.8 39.9h1.8v1.9h-1.8zM79.6 39.4h1.1v1.7h-1.1zM80.7 39.5h1.9v2.2h-1.9zM82.6 39.5h1.6v1.9h-1.6zM88.4 38.6h1.8v1.9h-1.8zM97.8 38.2h1.9v2.4h-1.9zM109.4 36.9h1.4v2.3h-1.4zM114.4 36.1h1.2v2.1h-1.2zM117 36.1h1.7v1.9h-1.7zM121.5 35.8h1.3v2.1h-1.3zM122.7 35.4h1.2v1.7h-1.2zM126.4 34.9h1.1v2h-1.1zM131.3 34.6h1.8v2.3h-1.8zM144.8 32.8h1.6v2.4h-1.6zM149.9 32.1h1.6v2h-1.6zM151.5 31.9h1.9v2.3h-1.9zM156.8 30.8h2v2.3h-2zM160.6 30.4h1.5v2.4h-1.5zM165.6 29.8h1.6v1.6h-1.6zM168.6 29.1h1.1v2.1h-1.1zM8.3 48.3h1.3v2.3h-1.3zM17.1 48.2h1.9v1.9h-1.9zM84.4 44.1h1.9v2h-1.9zM87.5 44h1.2v2.4h-1.2zM93.8 43.3h1.7v1.7h-1.7zM108.5 41.6h2v2.3h-2zM112.3 41.6h1.8v2.3h-1.8zM130.1 39.5h1.8v2h-1.8zM133.6 38.7h1.5v1.7h-1.5zM136.3 38.6h1.2v1.6h-1.2zM144.1 37.7h1.6v2.2h-1.6zM145.7 37.3h1.7v2.1h-1.7zM156.7 36h1v1.7h-1zM12.3 53.2h1.9v1.6h-1.9zM26.5 52.9h1.3v2.3h-1.3zM32.4 52.4h1.2v2h-1.2zM33.6 52.4h1.5v1.6h-1.5zM76.7 49.6h2v1.9h-2zM88 48.5h1.1v2.1h-1.1zM90.6 48h1.7v1.6h-1.7zM112.1 46.1h2v2h-2zM114 45.8h1.4v2.1h-1.4zM115.4 46.1h1.8v2h-1.8zM122.7 44.8h1.5v1.7h-1.5zM131.5 44.1h1v2.3h-1zM145.5 42.1h1.7v1.7h-1.7zM158.3 40.2h1.3v2.1h-1.3zM162.9 39.8h1.6v1.8h-1.6zM164.5 39.3h2v2h-2zM8.1 58h1.9v2.4h-1.9zM14.7 57.9h1.6v2h-1.6zM33.3 57.1h1.1v1.7h-1.1zM36 56.6h1.9v1.9h-1.9zM52.7 55.6h1.9v2.3h-1.9zM101.5 51.9h1.3v1.8h-1.3zM117 50.2h1.9v1.6h-1.9zM150.1 46h1.7v1.7h-1.7zM160.8 44.6h1.2v1.9h-1.2zM163.2 44.1h1.3v1.7h-1.3zM15.4 62.5h1.7v1.7h-1.7zM20.3 62.6h1.8v1.7h-1.8zM36.4 61.3h1.8v2.3h-1.8zM55.4 60.3h1.1v1.6h-1.1zM62.8 59.8h1.3v1.6h-1.3zM69 59.8h1.3v2.3h-1.3zM73.2 59.1h1.5v1.7h-1.5zM76.2 59.1h1.7v1.8h-1.7zM131 53.5h1.3v1.7h-1.3zM138.2 52.6h1.9v1.7h-1.9zM157.8 49.7h1.2v1.8h-1.2zM10.3 66.8h1.8v1.8h-1.8zM15.6 66.4h1.2v1.7h-1.2zM21.4 66h1.1v2.3h-1.1zM28.2 66h2v2.1h-2zM33.7 65.3h1.8v2.2h-1.8zM38.6 65.2h1.4v1.9h-1.4zM39.9 65.3h1.4v1.7h-1.4zM45 65.2h1.4v1.8h-1.4zM47.4 65.1h1.2v2.3h-1.2zM51.4 64.6h1.4v1.6h-1.4zM55.5 64.3h1.5v1.9h-1.5zM68.7 63.3h1.9v1.6h-1.9zM78.7 62.9h1.2v2.1h-1.2zM118.2 58.8h1.9v1.9h-1.9zM164 52.9h1.7v2.4h-1.7zM165.7 53h1.7v1.6h-1.7zM167.4 52.6h1.4v2.2h-1.4zM7.8 72h1.4v1.8h-1.4zM15.7 71.8h1v2h-1zM18.7 71.3h1.9v1.8h-1.9zM27.8 71h1.4v2.2h-1.4zM31.1 71h1.9v2.3h-1.9zM44.5 70.1h1.8v2.4h-1.8zM53.5 69.4h1.4v1.9h-1.4zM60.5 69.5h1.7v2.3h-1.7zM76.4 67.8h1v2.1h-1zM80.9 67.5h1.9v1.9h-1.9zM85.9 66.9h1.9v2.4h-1.9zM90.6 66.9h1v1.8h-1zM120 64.1h1.3v1.8h-1.3zM122.4 63.5h1.5v2.3h-1.5zM130.3 62.6h1.1v1.8h-1.1zM131.4 62.4h1.4v2.1h-1.4zM132.8 62.5h1.5v2.1h-1.5zM9.1 76.5h1.9v1.6h-1.9zM12.5 76.4h1.7v1.9h-1.7zM18.5 75.8h1.7v2.2h-1.7zM20.2 76h1.1v2.2h-1.1zM22.6 75.7h1.5v1.9h-1.5zM31.9 75.5h1.9v2.4h-1.9zM40 74.7h1.8v1.8h-1.8zM60.9 73.6h1.2v2.1h-1.2zM65 73.1h1.7v2.4h-1.7zM80.8 72h1.4v2.2h-1.4zM101.7 70h1.1v1.7h-1.1zM108.5 69.7h1.7v2.1h-1.7zM115.3 68.7h1.3v2.4h-1.3zM119.7 68.5h1.2v1.8h-1.2zM120.9 68.1h1.4v2.2h-1.4zM134 66.8h1.1v1.7h-1.1zM148.5 64.9h1.5v1.6h-1.5zM150 64.4h1.2v1.7h-1.2zM157.9 63.7h1.7v2h-1.7zM23.6 79.8h1.4v2.4h-1.4zM27.5 79.4h1.5v2.3h-1.5zM28.9 79.3h1.1v2h-1.1zM34.6 79.2h1.5v2.3h-1.5zM37.9 78.9h1.4v1.9h-1.4zM55.1 78.1h1.4v2.2h-1.4zM61.3 77.4h1v2.3h-1zM62.3 77.9h1.9v2.3h-1.9zM72.7 76.9h1.9v1.7h-1.9zM74.6 76.5h1.3v1.9h-1.3zM81.7 75.9h2v2.3h-2zM86.3 75.9h1.6v1.6h-1.6zM99.9 74.2h1.7v1.8h-1.7zM101.6 74.4h1.9v1.8h-1.9zM112.1 73.4h2v1.9h-2zM118.6 72.3h1.1v1.9h-1.1zM121.3 72h1.7v1.8h-1.7zM133.7 70.8h1.7v2.2h-1.7zM141.4 69.7h1.7v1.8h-1.7zM154.9 67.9h2v2.4h-2zM168.8 66.1h1.7v2.3h-1.7zM12.5 85.4h1.6v2h-1.6zM19.3 85h1.1v1.6h-1.1zM49.7 83.3h1.7v1.7h-1.7zM51.4 83.2h1.6v1.7h-1.6zM61 82.8h1.2v2h-1.2zM79.4 81.5h1.2v1.6h-1.2zM84.3 81.2h1v2h-1zM85.4 80.7h1.3v2.1h-1.3zM88.4 80.6h1.9v2.4h-1.9zM94.6 80h1.9v2.1h-1.9zM98.5 79.5h1.4v1.9h-1.4zM107.7 78.4h1.1v2h-1.1zM126.8 76.5h1.2v1.8h-1.2zM130 76.3h1.1v1.9h-1.1zM132.7 76.1h1.2v2.1h-1.2zM135.1 75.9h1.6v1.8h-1.6zM138.6 75.3h1.5v1.7h-1.5zM143.4 74.4h1.1v2h-1.1zM144.4 74.4h1v1.7h-1zM147.3 74.2h1v2h-1zM152.6 73h1.9v2.2h-1.9zM158.9 72.1h1.1v2.1h-1.1zM34 89.1h1.6v1.7h-1.6zM42.4 88.5h1.8v2.1h-1.8zM48.3 87.7h1.8v2.2h-1.8zM51.9 87.8h1.3v1.9h-1.3zM63.6 86.9h1.7v2.2h-1.7zM68.1 86.7h1.6v1.9h-1.6zM91.6 84.4h1.2v1.7h-1.2zM100.2 83.6h1.2v1.7h-1.2zM111.2 82.8h1.5v1.9h-1.5zM114.1 82.2h1.4v1.7h-1.4zM139.5 79.7h1.6v2h-1.6zM150.3 78h2v1.7h-2zM152.3 77.5h1.2v2.3h-1.2zM170 75.4h1.6v2.1h-1.6zM15.5 94.5h1.1v1.8h-1.1zM30.8 93.7h2v2.1h-2zM32.8 93.5h1.2v2.1h-1.2zM36.9 93.6h1.2v2.2h-1.2zM43.7 93.1h1.9v1.8h-1.9zM54.5 92.3h1.7v1.9h-1.7zM56.2 92.3h1.2v1.6h-1.2zM57.4 92.2h1.3v2.1h-1.3zM60 92.1h1.4v2.1h-1.4zM61.4 91.8h2v1.8h-2zM63.3 91.9h1.6v1.7h-1.6zM65.7 91.9h1.7v1.7h-1.7zM71 91.6h1.8v1.9h-1.8zM74.6 90.8h1.8v2.4h-1.8zM76.4 90.9h1.8v1.8h-1.8zM99 88.7h1.5v1.8h-1.5zM111.6 87.9h1.4v2.3h-1.4zM114.2 87.2h1v2h-1zM118.2 86.8h1.4v2.4h-1.4zM8.2 99h1.6v1.9h-1.6zM9.8 99.1h1.5v1.7h-1.5zM26.4 98h1.4v2h-1.4zM36 97.5h1.3v2.3h-1.3zM37.2 97.8h1.6v1.9h-1.6zM44.7 97.5h1.7v2.3h-1.7zM52.6 96.8h1.6v2.2h-1.6zM57.4 96.5h1.7v1.6h-1.7zM59.1 96.6h1.6v1.7h-1.6zM64.6 96.2h1.9v1.9h-1.9zM66.5 96h1.5v2.2h-1.5zM68 95.5h1.7v2.2h-1.7zM72.7 95.2h1v1.7h-1zM89.9 93.7h1.8v1.6h-1.8zM91.7 93.9h1.6v2.4h-1.6zM93.3 93.3h1.7v1.9h-1.7zM96.7 93.1h1.3v1.8h-1.3zM101.9 92.6h1.1v1.7h-1.1zM108.5 92.2h1.5v2.3h-1.5zM125.8 90h1.2v2.3h-1.2zM150.9 87h1.1v2.3h-1.1zM20.7 103.3h1.9v2.4h-1.9zM25.2 103h1.5v2h-1.5zM26.7 103.4h1.4v1.9h-1.4zM28 102.9h1.7v2.2h-1.7zM37.4 102.9h1.9v1.6h-1.9zM54.4 101.8h1v2.1h-1zM66 100.9h1.3v2.3h-1.3zM68.9 100.8h1.5v1.6h-1.5zM71.5 100.4h1.7v1.7h-1.7zM79.5 99.5h1.2v1.6h-1.2zM93.3 98.7h1.5v1.7h-1.5zM94.8 98.5h1.9v2h-1.9zM100.2 97.6h1.4v1.9h-1.4zM103 97.4h1.1v1.8h-1.1zM106.9 97.4h1v2.4h-1zM110.8 96.7h1.3v2h-1.3zM129.8 94.4h1.3v2.4h-1.3zM136.1 94.1h1.7v2h-1.7zM17.4 108.1h1.2v2.3h-1.2zM23.3 107.8h1.3v2.2h-1.3zM24.6 107.8h1.9v1.7h-1.9zM27.8 107.7h1.7v1.9h-1.7zM31.4 107.1h1.4v1.7h-1.4zM43.2 106.8h1.7v2.1h-1.7zM59.5 105.8h1.4v1.9h-1.4zM64.2 105.3h1.6v2.2h-1.6zM67.7 104.9h1v2h-1zM77.2 104.5h1.7v1.9h-1.7zM80.7 103.9h1.8v2.3h-1.8zM86.9 103.5h1.9v1.6h-1.9zM88.8 103.3h1.8v1.7h-1.8zM95.4 102.8h1.2v2.3h-1.2zM96.6 102.9h1.4v2.1h-1.4zM97.9 102.6h1.3v2.1h-1.3zM115.4 100.8h1.9v1.8h-1.9zM122.6 99.7h1.4v2.3h-1.4zM6.7 112.8h1.8v1.8h-1.8zM17.6 112.7h1.5v1.7h-1.5zM61.7 110.4h1.4v1.9h-1.4zM71.4 109.7h1.1v2.1h-1.1zM74.2 109.5h1.3v2.1h-1.3zM83.4 108.8h1.2v2.3h-1.2zM92.2 107.4h1.5v2h-1.5zM93.7 107.8h1.8v1.6h-1.8zM95.5 107.6h1.3v2.1h-1.3zM97.9 107.4h1.7v2.3h-1.7zM105.9 106.3h1.9v2.3h-1.9zM114.3 105.5h1.9v2.3h-1.9zM121.2 104.7h1.2v2.1h-1.2zM122.4 104.8h1.4v1.8h-1.4zM129.1 103.8h1.1v2h-1.1zM135.7 102.8h1.4v2.2h-1.4zM143.1 102.1h1v2.3h-1zM7.4 117.8h1.7v2.4h-1.7zM9.1 117.9h1.6v1.7h-1.6zM15 117.6h1.2v2.1h-1.2zM16.2 117.6h1.5v1.8h-1.5zM17.7 117.3h1.5v1.8h-1.5zM19.2 117.4h1.5v1.8h-1.5zM23.4 117.1h1.7v1.7h-1.7zM25.1 117.2h1.5v2.1h-1.5zM26.6 117h1.9v1.9h-1.9zM111.4 110.7h1.8v2h-1.8zM114.6 110.3h1.2v1.8h-1.2zM115.8 110.3h1.6v2.3h-1.6zM131.2 108.5h1.8v2h-1.8zM134.1 108.4h1.8v1.9h-1.8zM146.2 106.8h1.2v2.2h-1.2zM12.7 121.7h1.2v2.3h-1.2zM28.8 120.8h1.3v2.1h-1.3zM77.2 118.1h1.2v1.8h-1.2zM85.1 117.2h1.6v2.2h-1.6zM131.3 112.5h2v2.4h-2zM137.9 111.6h1.3v1.7h-1.3zM145.5 110.6h2v2.3h-2zM147.5 110.6h1.2v2h-1.2zM154.6 109.7h1.5v2.2h-1.5zM10.1 126.1h2v2h-2zM31.7 125.4h1.1v2.2h-1.1zM32.9 125.5h1.3v2h-1.3zM35.4 125.1h1.7v1.8h-1.7zM77.4 122.6h1.7v2.4h-1.7zM91.2 121.5h1.3v2h-1.3zM116.2 119h1.2v2.3h-1.2zM117.4 118.6h1.5v2.4h-1.5zM118.9 118.3h1.9v1.9h-1.9zM128.2 117.2h1.6v2.1h-1.6zM136 116.7h1.5v1.8h-1.5zM137.5 116.1h1.3v1.7h-1.3zM147.5 114.7h1.8v2.1h-1.8zM150.7 114.5h1.8v2.1h-1.8zM156.3 114h1v2.1h-1zM160.7 112.9h1.7v1.6h-1.7zM167 112.2h1.4v2.1h-1.4zM169.7 111.9h1.6v2.1h-1.6zM18.3 130.8h1.8v2.3h-1.8zM27.6 130.6h1.8v2.2h-1.8zM31.2 130.6h1.5v2.1h-1.5zM45.4 129.8h1.8v2.1h-1.8zM62.3 128.3h1.7v1.9h-1.7zM64 128.6h2v1.7h-2zM82.6 126.7h1.1v2.2h-1.1zM83.8 126.6h1.3v1.6h-1.3zM92.4 125.8h1v1.6h-1zM112.3 124.2h1.9v2.1h-1.9zM135.5 121.2h1.9v2.4h-1.9zM142.6 120.4h1.5v2.3h-1.5zM150.8 119.7h1.7v2h-1.7zM152.5 118.9h1.4v1.6h-1.4zM162 118h2v2.3h-2zM44.2 134.3h1.4v1.9h-1.4zM48.3 134.2h1.5v2.4h-1.5zM54.8 134h1.2v2.3h-1.2zM65.5 132.8h1v1.8h-1zM70.9 132.4h1.7v2.1h-1.7zM82 131.4h1.6v1.9h-1.6zM89.1 131.2h1.6v1.9h-1.6zM93.1 130.8h1.6v1.8h-1.6zM96.3 130.6h1.3v2.3h-1.3zM103.2 129.8h1.3v1.8h-1.3zM104.5 129.7h1.1v1.6h-1.1zM116.8 128.1h1.1v2.4h-1.1zM118 128h1.1v1.8h-1.1zM127.8 127h1.7v1.6h-1.7zM137.2 126h1.7v1.7h-1.7zM138.9 126h1.8v1.6h-1.8zM152.8 123.6h1.1v1.8h-1.1zM155.5 123.8h1.4v2h-1.4zM169.8 121.3h1.1v2.2h-1.1zM95.7 135h1.3v2h-1.3zM101.5 134.8h1.2v1.8h-1.2zM111.7 133.4h1.1v2.3h-1.1zM120 132.7h1.1v2.1h-1.1zM124.5 132.4h1.7v2.3h-1.7zM128 131.4h1.6v2.2h-1.6zM139 130.1h1.8v1.6h-1.8zM140.9 130h1.8v2.4h-1.8zM142.7 130h1.4v1.9h-1.4zM144.1 129.5h1.4v2.2h-1.4zM146.9 129.2h1.7v1.9h-1.7zM137.8 58.1h1.3v1.3h-1.3zM105.9 76.8h0.8v0.8h-0.8zM33.7 24.4h1.6v1.6h-1.6zM19.9 63.3h1v1h-1zM158 85.4h1.3v1.3h-1.3zM166.5 42.6h1v1h-1zM50.6 101.6h0.8v0.8h-0.8zM87.5 28.3h1.1v1.1h-1.1zM69.6 18.7h1.3v1.3h-1.3zM42.8 114.6h1.2v1.2h-1.2zM100.5 123h1.5v1.5h-1.5zM89.8 31.5h1.5v1.5h-1.5zM53.8 56.8h1.4v1.4h-1.4zM126.3 23.3h1.5v1.5h-1.5zM37.9 123.8h1.2v1.2h-1.2zM101.7 80.5h1.2v1.2h-1.2zM25.9 129.8h1.3v1.3h-1.3zM45.1 103.7h1.4v1.4h-1.4zM146.5 122.2h1v1h-1zM54 113.9h1.4v1.4h-1.4zM87.6 81.8h1.3v1.3h-1.3zM102.8 125.3h0.9v0.9h-0.9zM82.1 100.6h1.5v1.5h-1.5zM9.7 104.1h1.1v1.1h-1.1zM119.2 85.7h0.9v0.9h-0.9zM109.6 71.6h1.2v1.2h-1.2zM21.8 123.6h1.1v1.1h-1.1zM28.4 118.7h1.6v1.6h-1.6zM71.5 73.5h1v1h-1zM36 42.3h1.4v1.4h-1.4zM129.6 104.3h1.4v1.4h-1.4zM39.4 64.8h0.9v0.9h-0.9zM135.4 104.2h1.2v1.2h-1.2zM74 26.1h0.9v0.9h-0.9zM118.4 127.4h1.2v1.2h-1.2zM85.3 100.8h1v1h-1zM102.1 21.3h1.3v1.3h-1.3zM9.6 41.1h0.9v0.9h-0.9zM72 54.9h1.5v1.5h-1.5zM128.5 109.3h1.3v1.3h-1.3zM93.3 81.1h1.2v1.2h-1.2zM76.7 50.4h0.9v0.9h-0.9zM101.4 119h1.2v1.2h-1.2zM30.6 121.6h1.6v1.6h-1.6zM149.3 29.6h1.4v1.4h-1.4zM101.9 54.8h1.5v1.5h-1.5zM90.6 129.9h1.1v1.1h-1.1zM38.4 85.7h1.6v1.6h-1.6zM72.7 96h1.4v1.4h-1.4zM146.7 70.6h1.2v1.2h-1.2zM50.7 29.5h1v1h-1zM62 35.7h1.3v1.3h-1.3zM128.3 44.1h1.4v1.4h-1.4zM56.5 30.4h1.3v1.3h-1.3zM65.1 42.6h0.9v0.9h-0.9zM121.7 101.9h1v1h-1zM102.6 123.1h1.1v1.1h-1.1zM102.2 36.7h1v1h-1zM7.6 83.7h1.3v1.3h-1.3zM20.4 104.9h1.1v1.1h-1.1zM51.1 100.1h1.5v1.5h-1.5zM131.1 53.2h1v1h-1zM24.8 124.1h1.5v1.5h-1.5zM136.4 47.8h1.5v1.5h-1.5zM132.2 50.8h1.5v1.5h-1.5zM144.3 103.1h1.4v1.4h-1.4zM14.9 105.5h0.8v0.8h-0.8zM28.8 51.1h1.3v1.3h-1.3zM151.1 67.8h1.4v1.4h-1.4zM98.8 111.5h1.2v1.2h-1.2zM153.7 51.8h1v1h-1zM111 24.6h1.3v1.3h-1.3zM77.5 119.8h1.4v1.4h-1.4zM118.3 85.7h1.5v1.5h-1.5zM117.1 27h1.5v1.5h-1.5zM120.5 31h1.2v1.2h-1.2zM99.8 88.6h1.5v1.5h-1.5zM16.3 100.1h1.3v1.3h-1.3zM166.2 89.2h1.4v1.4h-1.4zM68.4 77.9h1.2v1.2h-1.2zM100.1 89.5h1.4v1.4h-1.4zM21.6 29.7h1.4v1.4h-1.4zM86.2 22.4h1.5v1.5h-1.5zM92.2 64.3h1v1h-1zM158.5 118.4h0.9v0.9h-0.9zM30.2 98.9h1.4v1.4h-1.4zM66.6 113.4h1v1h-1zM73.6 33.1h0.8v0.8h-0.8zM69.5 123.6h1.1v1.1h-1.1zM48.3 59.7h1.3v1.3h-1.3zM131.5 113.4h1.3v1.3h-1.3zM136.1 122.3h1.5v1.5h-1.5zM12.2 18.3h1.4v1.4h-1.4zM8.1 33.5h1.5v1.5h-1.5zM159 127.3h0.9v0.9h-0.9zM155 85.7h1.5v1.5h-1.5zM54 88.6h1.5v1.5h-1.5zM36.9 36.6h1.1v1.1h-1.1zM140.5 56.6h1.1v1.1h-1.1zM102.9 42.4h0.9v0.9h-0.9zM135.3 122.6h1.4v1.4h-1.4zM149.4 70.2h1.4v1.4h-1.4zM39.4 38.5h1.5v1.5h-1.5zM145.7 46.6h1.2v1.2h-1.2z"/><path fill="#b0b0ac" d="M12.9 19.5h1.4v1.1h-1.4zM38.1 18.7h1.3v1.1h-1.3zM24.4 24h1.3v1.1h-1.3zM25.2 24.2h1.7v1.1h-1.7zM27.1 24.2h1.5v1.1h-1.5zM30 24.1h1.3v1.1h-1.3zM31.5 23.9h1.1v1.1h-1.1zM38.2 23.3h1.1v1.1h-1.1zM52.8 22.7h1.2v1.1h-1.2zM56.3 22.5h1.6v1.1h-1.6zM61.1 22.2h1.5v1.1h-1.5zM62.9 22.1h1.5v1.1h-1.5zM64.2 22.1h1.5v1.1h-1.5zM89.7 19.7h1.2v1.1h-1.2zM92.9 19.7h1v1.1h-1zM97 19.4h1.2v1.1h-1.2zM9.7 28.7h1.5v1.1h-1.5zM23.3 28.1h1v1.1h-1zM28.4 28h1.1v1.1h-1.1zM29.2 28.2h1.1v1.1h-1.1zM31.1 28h1.1v1.1h-1.1zM34.5 27.9h1.2v1.1h-1.2zM37.5 27.5h1.3v1.1h-1.3zM41.2 27.1h1.3v1.1h-1.3zM61.2 26h1.1v1.1h-1.1zM63.7 25.7h1.4v1.1h-1.4zM86.6 23.8h1.3v1.1h-1.3zM89.9 23.8h1.5v1.1h-1.5zM104.6 22.2h1.1v1.1h-1.1zM107.9 22h1.6v1.1h-1.6zM119.8 20.8h1.2v1.1h-1.2zM21.1 32.8h1.1v1.1h-1.1zM27.9 32.3h1v1.1h-1zM35.1 32.1h1.6v1.1h-1.6zM36.8 31.9h1.4v1.1h-1.4zM41.1 31.7h1.6v1.1h-1.6zM45.1 31.7h1.5v1.1h-1.5zM51.3 30.9h1.2v1.1h-1.2zM52.5 31.2h1.6v1.1h-1.6zM58.8 30.6h1.1v1.1h-1.1zM60.2 30.8h1.6v1.1h-1.6zM68.5 29.7h1.3v1.1h-1.3zM75.2 29.4h1.4v1.1h-1.4zM76 29.5h1.5v1.1h-1.5zM84 28.6h1.5v1.1h-1.5zM89 28.6h1.5v1.1h-1.5zM98.6 27.6h1.7v1.1h-1.7zM108 26.5h1.6v1.1h-1.6zM117.5 25.4h1.4v1.1h-1.4zM120.5 25h1.6v1.1h-1.6zM24.7 37.6h1.3v1.1h-1.3zM29.6 37.6h1.7v1.1h-1.7zM31.3 37.6h1.5v1.1h-1.5zM45.7 36.3h1.5v1.1h-1.5zM64.9 35.3h1.3v1.1h-1.3zM73 34.9h1.6v1.1h-1.6zM88.3 33.4h1.2v1.1h-1.2zM99.3 32.2h1.4v1.1h-1.4zM130.4 29.2h1.4v1.1h-1.4zM131.9 28.7h1.4v1.1h-1.4zM138.1 28.2h1.2v1.1h-1.2zM22.1 41.7h1.2v1.1h-1.2zM27 41.7h1.7v1.1h-1.7zM69.4 39.2h1.7v1.1h-1.7zM70.6 38.9h1.4v1.1h-1.4zM71.8 39.2h1v1.1h-1zM84.2 38.2h1.4v1.1h-1.4zM102.1 36.6h1.5v1.1h-1.5zM114.7 34.9h1.6v1.1h-1.6zM117 34.9h1.3v1.1h-1.3zM125.1 33.9h1.4v1.1h-1.4zM139.3 32.3h1.3v1.1h-1.3zM150.1 30.9h1.7v1.1h-1.7zM153.3 30.2h1.5v1.1h-1.5zM167.1 28.5h1.5v1.1h-1.5zM169.6 28.2h1.3v1.1h-1.3zM6.6 47.3h1.4v1.1h-1.4zM10.9 47.5h1.4v1.1h-1.4zM24.8 47h1.7v1.1h-1.7zM52.9 45.1h1v1.1h-1zM56.5 45.3h1.2v1.1h-1.2zM86.3 42.8h1.7v1.1h-1.7zM95.7 41.7h1.2v1.1h-1.2zM103.3 41.2h1.6v1.1h-1.6zM122.5 39h1.4v1.1h-1.4zM141.5 36.9h1.4v1.1h-1.4zM149 35.7h1.3v1.1h-1.3zM151.1 35.7h1.3v1.1h-1.3zM153.8 35.1h1.1v1.1h-1.1zM24.4 51.3h1.4v1.1h-1.4zM39.5 50.8h1v1.1h-1zM92.5 46.7h1.6v1.1h-1.6zM94.7 46.4h1.2v1.1h-1.2zM95.7 46.5h1.1v1.1h-1.1zM135.3 42h1.5v1.1h-1.5zM136.4 42.4h1.1v1.1h-1.1zM148.7 40.7h1.6v1.1h-1.6zM158.3 39h1.1v1.1h-1.1zM159.6 38.8h1.3v1.1h-1.3zM6.2 56.8h1.2v1.1h-1.2zM16.3 56.6h1.3v1.1h-1.3zM22.3 56h1.4v1.1h-1.4zM28.3 55.9h1.3v1.1h-1.3zM49.9 54.8h1.6v1.1h-1.6zM77.8 52.7h1.4v1.1h-1.4zM91.7 51.6h1.5v1.1h-1.5zM101.3 50.7h1.1v1.1h-1.1zM116.9 49h1.3v1.1h-1.3zM122.7 48.6h1.4v1.1h-1.4zM133.3 47.3h1.5v1.1h-1.5zM141 46h1.3v1.1h-1.3zM143.1 46h1.1v1.1h-1.1zM154.5 44.3h1.6v1.1h-1.6zM166 42.7h1.7v1.1h-1.7zM10.4 61.5h1.5v1.1h-1.5zM35 60.2h1.7v1.1h-1.7zM42.8 60.2h1.1v1.1h-1.1zM45 60.1h1.6v1.1h-1.6zM55.6 59.1h1.7v1.1h-1.7zM60 59h1.7v1.1h-1.7zM61 58.8h1.1v1.1h-1.1zM71.5 58.3h1.3v1.1h-1.3zM77.5 57.9h1.4v1.1h-1.4zM81.5 57.4h1.4v1.1h-1.4zM96.8 56.1h1.3v1.1h-1.3zM117.6 54h1.1v1.1h-1.1zM124.4 53.1h1v1.1h-1zM132.3 52.2h1.1v1.1h-1.1zM149.4 49.9h1.5v1.1h-1.5zM151.4 49.4h1.5v1.1h-1.5zM163.6 47.9h1.4v1.1h-1.4zM14.2 65.4h1.6v1.1h-1.6zM16.9 65.5h1.3v1.1h-1.3zM25 64.7h1.5v1.1h-1.5zM46.2 63.9h1.7v1.1h-1.7zM47.2 63.9h1.3v1.1h-1.3zM53.8 63.1h1.5v1.1h-1.5zM57.1 63h1.6v1.1h-1.6zM65.6 62.5h1.1v1.1h-1.1zM74.5 61.9h1.3v1.1h-1.3zM118.2 57.6h1.7v1.1h-1.7zM120 57.4h1.2v1.1h-1.2zM124.4 56.7h1.1v1.1h-1.1zM162.1 52h1.1v1.1h-1.1zM10.9 70.8h1.5v1.1h-1.5zM12.1 70.5h1v1.1h-1zM25.7 69.7h1.2v1.1h-1.2zM29.2 69.9h1.1v1.1h-1.1zM34.5 69.4h1.5v1.1h-1.5zM40 69.5h1.5v1.1h-1.5zM47.5 69.1h1.1v1.1h-1.1zM50.5 68.8h1.4v1.1h-1.4zM53.4 68.2h1.7v1.1h-1.7zM63.4 67.8h1.3v1.1h-1.3zM65.4 67.6h1.1v1.1h-1.1zM67.3 67.5h1.1v1.1h-1.1zM94 65.3h1.5v1.1h-1.5zM119.9 62.9h1.6v1.1h-1.6zM122.5 62.3h1.3v1.1h-1.3zM128.6 61.4h1.1v1.1h-1.1zM131.1 61.2h1.2v1.1h-1.2zM14 74.6h1.7v1.1h-1.7zM14.9 75.1h1.1v1.1h-1.1zM16.7 74.7h1.2v1.1h-1.2zM26.9 74.2h1.3v1.1h-1.3zM30.4 74h1.5v1.1h-1.5zM64.7 71.9h1.5v1.1h-1.5zM72.7 71.7h1.1v1.1h-1.1zM76 71.4h1.3v1.1h-1.3zM95.6 69.4h1.6v1.1h-1.6zM103.7 68.5h1.6v1.1h-1.6zM107 68.4h1.1v1.1h-1.1zM108.5 68.5h1.3v1.1h-1.3zM111.7 67.9h1.7v1.1h-1.7zM146.4 63.6h1.7v1.1h-1.7zM152.1 62.9h1.2v1.1h-1.2zM155.2 62.3h1.6v1.1h-1.6zM163.8 61.5h1.3v1.1h-1.3zM31.1 78.2h1.4v1.1h-1.4zM33 78h1.7v1.1h-1.7zM64.1 76.3h1.3v1.1h-1.3zM70.9 76h1.2v1.1h-1.2zM76.1 75.6h1.6v1.1h-1.6zM92.4 74.1h1.3v1.1h-1.3zM105.4 72.6h1.3v1.1h-1.3zM108.7 72.4h1.1v1.1h-1.1zM118.6 71.1h1v1.1h-1zM121.1 70.8h1.2v1.1h-1.2zM133.8 69.6h1.7v1.1h-1.7zM138.3 68.8h1.4v1.1h-1.4zM142.9 68.3h1.3v1.1h-1.3zM162.8 65.7h1.5v1.1h-1.5zM165.8 65.2h1.3v1.1h-1.3zM12.8 84.2h1.3v1.1h-1.3zM19.4 83.8h1.2v1.1h-1.2zM22 83.6h1.6v1.1h-1.6zM26.1 83.6h1.7v1.1h-1.7zM27.1 83.7h1.1v1.1h-1.1zM45.6 82.6h1.3v1.1h-1.3zM84.1 80h1.5v1.1h-1.5zM88.4 79.4h1.3v1.1h-1.3zM93.3 78.8h1v1.1h-1zM96.6 78.8h1.2v1.1h-1.2zM106.2 77.9h1.1v1.1h-1.1zM108.9 77.3h1v1.1h-1zM112.1 77.1h1.5v1.1h-1.5zM125.3 75.4h1.6v1.1h-1.6zM130.1 75.1h1.6v1.1h-1.6zM134.9 74.7h1.7v1.1h-1.7zM136.9 74h1.5v1.1h-1.5zM151.3 72.2h1.1v1.1h-1.1zM159.1 70.9h1.5v1.1h-1.5zM167.1 70.2h1v1.1h-1zM42.2 87.3h1.3v1.1h-1.3zM54.1 86.5h1.4v1.1h-1.4zM69.5 85.4h1.1v1.1h-1.1zM77.9 84.7h1.5v1.1h-1.5zM94.6 83.4h1.1v1.1h-1.1zM113.9 81h1.6v1.1h-1.6zM115.2 81.1h1.5v1.1h-1.5zM130.5 79.1h1.7v1.1h-1.7zM153.4 76.5h1.5v1.1h-1.5zM169.2 73.9h1.6v1.1h-1.6zM30.9 92.5h1.3v1.1h-1.3zM36 92.7h1.2v1.1h-1.2zM36.6 92.4h1v1.1h-1zM41 92.1h1.1v1.1h-1.1zM51 91.2h1.3v1.1h-1.3zM56.5 91.1h1.4v1.1h-1.4zM65.8 90.7h1.3v1.1h-1.3zM67.4 90.4h1.4v1.1h-1.4zM69.9 90.4h1.4v1.1h-1.4zM80 89.3h1v1.1h-1zM96.1 88.2h1.4v1.1h-1.4zM116.7 85.9h1.4v1.1h-1.4zM6.5 98.1h1.1v1.1h-1.1zM8 97.8h1.4v1.1h-1.4zM11.3 97.9h1.1v1.1h-1.1zM28.1 97h1.1v1.1h-1.1zM34 96.4h1.3v1.1h-1.3zM46.3 96.1h1.4v1.1h-1.4zM59.1 95.4h1.1v1.1h-1.1zM64.3 95h1.4v1.1h-1.4zM79.4 93.6h1.4v1.1h-1.4zM103.1 91.3h1.7v1.1h-1.7zM105.7 91.3h1.6v1.1h-1.6zM110 90.6h1.5v1.1h-1.5zM112.1 90.9h1.5v1.1h-1.5zM119 89.9h1.7v1.1h-1.7zM26.8 102.2h1.6v1.1h-1.6zM40.3 101.4h1.6v1.1h-1.6zM54.2 100.6h1.4v1.1h-1.4zM83 98.2h1.3v1.1h-1.3zM94.8 97.3h1.3v1.1h-1.3zM98.2 97h1.4v1.1h-1.4zM104.3 96.3h1.7v1.1h-1.7zM112 95.3h1.4v1.1h-1.4zM113.8 95.5h1.2v1.1h-1.2zM124.7 94.4h1.6v1.1h-1.6zM7 107.2h1.6v1.1h-1.6zM10.5 107.1h1.1v1.1h-1.1zM34.2 106h1.2v1.1h-1.2zM47.4 105.5h1.4v1.1h-1.4zM85.9 102.5h1.3v1.1h-1.3zM88.8 102.1h1.7v1.1h-1.7zM96.4 101.7h1v1.1h-1zM98 101.4h1.5v1.1h-1.5zM144.9 96.2h1.2v1.1h-1.2zM166.7 93.2h1.3v1.1h-1.3zM170.6 92.3h1.6v1.1h-1.6zM19.3 111.3h1.2v1.1h-1.2zM97.7 106.2h1.6v1.1h-1.6zM106.1 105.1h1.1v1.1h-1.1zM138.8 101.7h1v1.1h-1zM142.9 100.9h1.2v1.1h-1.2zM168.7 97.5h1v1.1h-1zM10.5 116.7h1.3v1.1h-1.3zM20.7 116h1.5v1.1h-1.5zM24.8 116h1.5v1.1h-1.5zM86.2 111.9h1.3v1.1h-1.3zM127 108.1h1.1v1.1h-1.1zM134.4 107.2h1.3v1.1h-1.3zM142.6 105.7h1.6v1.1h-1.6zM148.8 105.3h1.4v1.1h-1.4zM17.2 120.5h1.6v1.1h-1.6zM29.9 119.6h1.6v1.1h-1.6zM81.8 116.1h1.6v1.1h-1.6zM115.3 112.9h1.5v1.1h-1.5zM144.3 109.6h1.7v1.1h-1.7zM13.8 124.7h1.3v1.1h-1.3zM24.5 124.3h1v1.1h-1zM77.1 121.4h1.2v1.1h-1.2zM114.9 117.6h1.4v1.1h-1.4zM128.3 116h1.7v1.1h-1.7zM129.9 116.3h1.6v1.1h-1.6zM131.4 115.7h1.3v1.1h-1.3zM137.4 114.9h1.2v1.1h-1.2zM147.7 113.5h1.5v1.1h-1.5zM150.4 113.3h1.4v1.1h-1.4zM152.2 113.2h1.1v1.1h-1.1zM162.5 111.7h1.3v1.1h-1.3zM72.8 126.8h1.5v1.1h-1.5zM74.5 126.2h1.3v1.1h-1.3zM81 125.6h1.2v1.1h-1.2zM82.7 125.5h1.7v1.1h-1.7zM88 125.3h1.4v1.1h-1.4zM93.4 124.7h1.2v1.1h-1.2zM97.7 124.3h1v1.1h-1zM102.7 124h1.1v1.1h-1.1zM107.9 123.3h1.2v1.1h-1.2zM109.4 123h1.2v1.1h-1.2zM122.4 121.6h1.4v1.1h-1.4zM164.2 116.5h1.6v1.1h-1.6zM166.8 115.8h1.3v1.1h-1.3zM170.2 115.7h1.1v1.1h-1.1zM38 133.4h1.3v1.1h-1.3zM52.8 132.8h1.3v1.1h-1.3zM69.6 131.8h1.4v1.1h-1.4zM85 130.4h1.3v1.1h-1.3zM87.7 130h1.2v1.1h-1.2zM99.3 129.2h1.2v1.1h-1.2zM104.7 128.5h1.5v1.1h-1.5zM107 128.3h1.2v1.1h-1.2zM108.2 127.8h1.1v1.1h-1.1zM110.2 128.1h1.5v1.1h-1.5zM138.9 124.8h1.5v1.1h-1.5zM169.7 120.1h1v1.1h-1zM137 129.3h1.3v1.1h-1.3zM139.3 128.9h1.1v1.1h-1.1zM149.7 127.8h1.1v1.1h-1.1zM154.5 127.2h1.6v1.1h-1.6z"/><path fill="#4c4c4a" d="M14.7 20.9h1.8v1.8h-1.8zM16.6 20.8h1.1v1.8h-1.1zM22.4 20.4h1.1v1.9h-1.1zM23.5 20.1h1.9v2h-1.9zM36.2 19.8h1.9v1.7h-1.9zM41.5 19.8h1.2v2h-1.2zM8 25.9h2v2.3h-2zM17 25.6h2v1.9h-2zM20.8 25.6h1.8v2h-1.8zM22.6 25.3h1.7v2.2h-1.7zM25.4 25.4h1.8v2.2h-1.8zM27.2 25.4h1.3v1.6h-1.3zM30 25.3h1.7v1.9h-1.7zM36.3 24.6h1.6v2.1h-1.6zM42.7 24.6h1.9v2.3h-1.9zM64.1 23.3h1.7v2h-1.7zM68.7 23.1h1.4v2h-1.4zM82.3 21.4h1.4v1.6h-1.4zM91.3 20.7h1.9v1.7h-1.9zM93.2 20.9h1.7v1.6h-1.7zM97.2 20.6h1.4v1.9h-1.4zM99.9 19.9h1.3v1.6h-1.3zM103 19.8h1.7v1.7h-1.7zM15.5 29.7h1.7v2.2h-1.7zM29.3 29.4h1.8v2.3h-1.8zM37.3 28.7h1.1v2h-1.1zM54.5 27.6h1.6v1.7h-1.6zM57.8 27.4h1.8v1.7h-1.8zM59.7 27.5h1.5v2.3h-1.5zM66.2 27.1h1.4v2h-1.4zM70.5 26.9h1.7v1.8h-1.7zM89.7 25h1.6v2h-1.6zM94.1 24.3h1.2v1.8h-1.2zM98.7 24.2h1.2v1.9h-1.2zM99.9 24h1.6v2.2h-1.6zM109.1 23h1.9v2.3h-1.9zM111 22.9h1.9v1.6h-1.9zM117.6 22.1h2v2.3h-2zM128.8 21h1.2v1.7h-1.2zM130 20.6h1.5v2h-1.5zM136.1 20.1h1.1v2.2h-1.1zM22.6 34.2h1.5v1.9h-1.5zM26.4 33.5h1.2v1.8h-1.2zM27.7 33.5h1.5v1.7h-1.5zM51.5 32.1h1.3v1.7h-1.3zM61.7 31.7h1.1v2.3h-1.1zM84.2 29.8h1.4v2h-1.4zM89.3 29.8h1.8v2h-1.8zM106.5 27.5h1.3v1.6h-1.3zM109.3 27.6h1.5v2h-1.5zM111.9 27.4h1.2v2.3h-1.2zM123.5 25.8h1.1v1.7h-1.1zM124.7 26h1.6v1.8h-1.6zM137.3 24.6h1v2h-1zM140.3 24.2h1.2v2.2h-1.2zM28 38.5h1.8v2.3h-1.8zM35.7 38.2h1.8v1.6h-1.8zM40.6 38h1.4v2.2h-1.4zM44.8 37.9h1.1v2.1h-1.1zM45.9 37.5h1.1v1.7h-1.1zM58.7 37.1h1.5v2.3h-1.5zM66.9 36.6h1.2v2.1h-1.2zM74.4 35.5h1.5v1.8h-1.5zM79.9 35.5h1.8v2.3h-1.8zM93.2 34h1.5v2.1h-1.5zM111.1 32.2h1.5v2h-1.5zM116.9 31.7h1v1.9h-1zM120.5 31.1h1.3v1.6h-1.3zM123.4 31.2h1.4v1.9h-1.4zM127.4 30.6h1.8v2.3h-1.8zM130.4 30.4h1.7v2.1h-1.7zM133.5 29.8h1.4v1.9h-1.4zM134.9 29.5h1.5v1.9h-1.5zM142.9 28.4h1.7v1.7h-1.7zM9.6 43.6h1.2v1.9h-1.2zM26.9 42.9h1.6v1.7h-1.6zM65.3 40.4h1.6v1.6h-1.6zM70.4 40.1h1.7v2h-1.7zM85.2 38.8h1.4v1.6h-1.4zM86.6 39.3h1.9v1.8h-1.9zM96.4 38.3h1.5v1.9h-1.5zM99.7 37.5h1.3v2.1h-1.3zM102.1 37.8h1.9v2.4h-1.9zM113.2 36.2h1.3v1.8h-1.3zM123.9 35.2h1.2v1.6h-1.2zM125.1 35.1h1.3v1.6h-1.3zM147.4 32.1h1.3v2.2h-1.3zM148.6 32.4h1.3v2.1h-1.3zM158.8 30.6h1.8v1.8h-1.8zM169.7 29.4h1.9v1.8h-1.9zM11.9 48.6h1.9v1.6h-1.9zM21.9 48.2h1v2.4h-1zM75.3 44.7h1.2v1.7h-1.2zM82.9 44.1h1.5v1.7h-1.5zM90.2 43.7h2v2.1h-2zM92.2 43.3h1.6v1.9h-1.6zM95.5 42.9h2v2.1h-2zM99.9 42.5h1.9v2.1h-1.9zM110.5 41.3h1.9v2.3h-1.9zM123.4 40.4h2v1.8h-2zM131.8 39.4h1.8v1.7h-1.8zM135.1 38.5h1.2v2h-1.2zM140.4 38.2h1.1v1.7h-1.1zM142.5 37.7h1.6v2.1h-1.6zM9 53h2v1.7h-2zM11 53h1.3v1.9h-1.3zM15.5 52.9h1.3v1.9h-1.3zM21.6 53h2v2.3h-2zM24.6 52.5h1.8v2.2h-1.8zM35.1 52.1h1.8v2h-1.8zM43.2 51.5h1.3v1.7h-1.3zM87 48.5h1v1.8h-1zM103.5 46.9h1.3v2.1h-1.3zM106.3 46.6h1.7v2.1h-1.7zM109.8 46.7h1.1v2.1h-1.1zM110.9 46.5h1.2v2.2h-1.2zM129.7 44.1h1.8v1.7h-1.8zM132.5 43.7h1.4v1.9h-1.4zM139.6 43.1h1.1v1.6h-1.1zM143.1 42.7h1.2v2h-1.2zM155.3 41h1.4v2.3h-1.4zM6.5 58h1.6v1.8h-1.6zM13.4 57.6h1.3v2.2h-1.3zM23.8 57.4h1.5v1.8h-1.5zM25.3 57.6h1.9v2h-1.9zM27.2 57h1.1v2.3h-1.1zM31.5 57.2h1.7v2.2h-1.7zM39.3 56.4h1.3v1.7h-1.3zM43.5 56.6h1.6v2.2h-1.6zM48 56.2h1.6v2h-1.6zM86.8 53.3h1.5v2.2h-1.5zM107.1 51.1h1.3v2.4h-1.3zM110.3 51.1h1.6v2h-1.6zM113.3 50.6h1.6v1.8h-1.6zM118.9 50.2h1.9v2.3h-1.9zM122.8 49.8h1.1v2.2h-1.1zM146.1 46.6h1.5v2.3h-1.5zM156 45.2h1.7v1.9h-1.7zM159.1 44.7h1.7v1.8h-1.7zM167.8 43.7h2v1.7h-2zM169.8 43.4h1.7v1.7h-1.7zM8.7 62.9h1.6v2.4h-1.6zM12 62.7h1.7v1.8h-1.7zM32.1 62h1.8v1.9h-1.8zM49.5 60.7h1.1v1.9h-1.1zM50.6 61h1.8v1.7h-1.8zM70.3 59.4h1.3v2.3h-1.3zM74.7 59.1h1.5v2h-1.5zM84.3 58.1h1.1v2.1h-1.1zM117.6 55.2h2v2.3h-2zM124.5 54.3h1.9v1.7h-1.9zM140.1 52.4h1.9v1.6h-1.9zM143.4 51.9h1.3v2h-1.3zM149.3 51.1h1v1.9h-1zM159 49.6h1.1v2h-1.1zM168.2 48.7h1.4v1.9h-1.4zM169.6 48.4h1.8v1.8h-1.8zM7.4 66.9h1.3v1.9h-1.3zM16.8 66.7h1.8v1.7h-1.8zM18.7 66.3h1.2v1.9h-1.2zM46.4 65.1h1v1.6h-1zM52.7 64.5h1.1v2h-1.1zM57 64.2h1.9v1.8h-1.9zM58.9 64h1.9v2.1h-1.9zM60.8 64.2h1.8v2.1h-1.8zM64.3 63.6h1.4v1.9h-1.4zM79.9 62.8h1.2v2.1h-1.2zM81.1 62.3h1v2.3h-1zM83.4 62h1.7v1.9h-1.7zM85.1 62h2v2.2h-2zM88.7 61.9h1.7v1.9h-1.7zM10.8 72h1.4v1.8h-1.4zM22 71.3h1v2.2h-1zM26 70.9h1.9v2.4h-1.9zM29.3 71.1h1.8v2.1h-1.8zM40.2 70.7h1.4v1.8h-1.4zM46.3 70.1h1v2.2h-1zM47.3 70.3h1.4v1.9h-1.4zM56.4 69.8h1.8v1.9h-1.8zM69.1 68.7h1.7v1.7h-1.7zM70.7 68.6h1.8v1.9h-1.8zM75 67.9h1.4v2.3h-1.4zM91.6 66.6h1.6v2.1h-1.6zM118.7 64.2h1.4v2h-1.4zM121.3 63.7h1.1v1.8h-1.1zM125.2 63.4h1.8v2h-1.8zM127 63.2h1.4v2.1h-1.4zM135.9 62.1h1.6v1.6h-1.6zM140.8 61.3h1v1.7h-1zM14.2 75.8h1v2.3h-1zM16.9 75.9h1.6v2.1h-1.6zM26.7 75.4h1v2.1h-1zM27.7 75.8h1v2.4h-1zM43 74.5h1.8v2.3h-1.8zM47.8 74.7h1.6v1.9h-1.6zM49.4 74.6h1.6v2.2h-1.6zM66.6 73.4h1.9v1.9h-1.9zM68.6 73h1.1v1.9h-1.1zM72.7 72.9h1.7v2.2h-1.7zM77 72.2h1.9v1.7h-1.9zM86.3 71.4h1.3v2.1h-1.3zM90.3 71.2h1.8v2.2h-1.8zM96.8 70.9h1v1.8h-1zM100.1 70.2h1.6v2.3h-1.6zM110.3 69.4h1.8v2.1h-1.8zM112 69.1h1.3v2.4h-1.3zM118.6 68.3h1.1v1.8h-1.1zM132 66.9h1.9v2.2h-1.9zM139 66.2h1.8v2h-1.8zM140.8 66h1.2v2h-1.2zM143.9 65.1h1v2h-1zM144.9 65.1h1.2v2.4h-1.2zM152.4 64.1h1.4v1.9h-1.4zM7.8 80.3h1.7v1.8h-1.7zM15.1 79.9h1.2v1.8h-1.2zM21.3 79.9h1.2v2.4h-1.2zM32.8 79.2h1.8v2.3h-1.8zM36.1 79.2h1.7v1.7h-1.7zM41.1 79.1h2v1.8h-2zM44.8 78.5h1.2v1.9h-1.2zM46.1 78.8h1.1v1.7h-1.1zM58.9 77.8h1.3v1.6h-1.3zM60.2 77.7h1v2.1h-1zM69.7 76.8h1.2v1.9h-1.2zM75.9 76.8h1.6v1.8h-1.6zM89.6 75.2h1.8v2.2h-1.8zM95.9 74.7h1.3v2.3h-1.3zM97.2 74.5h1.2v1.8h-1.2zM107.2 73.6h1.3v2.2h-1.3zM110.1 73.6h2v1.7h-2zM115.4 72.6h1.2v1.6h-1.2zM116.6 72.5h1.9v2.1h-1.9zM123 72h2v2.2h-2zM136.8 70.1h1.7v2.3h-1.7zM147.4 68.7h1.8v1.8h-1.8zM152 68.5h1.6v1.6h-1.6zM10.2 85.3h1.3v1.9h-1.3zM15.9 85.4h1.6v2.1h-1.6zM21.9 84.8h1.8v1.9h-1.8zM23.7 84.7h1.1v2.2h-1.1zM25.8 84.8h1.5v2.1h-1.5zM27.3 84.9h1.7v1.9h-1.7zM40.3 84h1.3v2h-1.3zM54.4 83.4h1.1v1.7h-1.1zM56.6 83.2h1.8v2.2h-1.8zM66.7 82h1.4v1.6h-1.4zM72.9 82h1.3v2h-1.3zM76.9 81.5h1.5v1.6h-1.5zM80.6 81.2h2v2.2h-2zM90.3 80.5h1.4v1.7h-1.4zM96.5 80h2v1.7h-2zM104.9 78.7h1.3v1.7h-1.3zM108.7 78.5h1.8v1.8h-1.8zM115.1 78h1.9v1.9h-1.9zM117.1 77.8h1.4v1.8h-1.4zM125.5 76.6h1.3v1.9h-1.3zM136.7 75.2h1.9v2h-1.9zM140.1 75.1h1v1.7h-1zM142.4 74.8h1v1.8h-1zM148.3 74.1h1.3v2.1h-1.3zM151.3 73.4h1.3v1.7h-1.3zM157.8 72.5h1.1v1.7h-1.1zM160 72.2h1.6v2h-1.6zM163.5 72.1h1.6v1.7h-1.6zM168.2 71.2h1.5v2.3h-1.5zM169.7 71.2h1.3v1.9h-1.3zM6.8 89.8h1.6v2.4h-1.6zM32.4 88.6h1.6v1.7h-1.6zM37.7 88.3h1.5v1.9h-1.5zM39.2 88.7h1.8v1.7h-1.8zM41.1 88.2h1.3v1.6h-1.3zM47 87.9h1.3v2h-1.3zM60.5 87h1.3v2.1h-1.3zM66.3 87h1.8v2.3h-1.8zM77.9 85.9h1.9v1.8h-1.9zM79.9 85.4h1.8v2.2h-1.8zM86.5 85h1.9v2.1h-1.9zM92.7 84.8h2v1.6h-2zM107.8 83.1h2v1.6h-2zM115.5 82.3h1.5v2.3h-1.5zM118.9 82h1.6v2.3h-1.6zM130.5 80.3h1.5v2.3h-1.5zM160.1 76.6h1.3v2h-1.3zM162.9 76.4h1.9v1.8h-1.9zM164.8 76.2h1.5v2.1h-1.5zM6.7 94.9h1.7v2.4h-1.7zM8.3 94.5h1.6v2.3h-1.6zM16.6 94.4h1.1v2.2h-1.1zM20.9 94.6h1.6v1.8h-1.6zM35.9 93.9h1v1.8h-1zM39.3 93.6h1.7v2.4h-1.7zM41.1 93.3h1.2v2.1h-1.2zM51.1 92.4h1.6v2.2h-1.6zM52.8 92.5h1.7v1.9h-1.7zM58.7 92h1.3v1.8h-1.3zM67.5 91.6h1.2v2h-1.2zM72.8 91.4h1.9v1.8h-1.9zM79.7 90.5h1.9v1.7h-1.9zM81.6 90.7h1.1v1.7h-1.1zM100.5 88.6h1v2.3h-1zM103 88.7h1.1v2.4h-1.1zM109.9 87.7h1.7v2.1h-1.7zM116.9 87.1h1.2v2.3h-1.2zM25.2 98.1h1.2v2.4h-1.2zM32.8 98.2h1.4v2h-1.4zM40.4 97.7h1.3v1.9h-1.3zM41.7 97.3h1.5v2.2h-1.5zM46.4 97.3h1.4v2.1h-1.4zM47.9 97.3h1.8v1.9h-1.8zM54.2 96.5h1.8v2h-1.8zM69.7 95.7h1.8v2.3h-1.8zM79.3 94.8h1.3v2.1h-1.3zM80.6 94.7h1.7v2.3h-1.7zM82.3 94.8h1.7v2h-1.7zM95 93.5h1.7v1.7h-1.7zM103 92.5h1.4v1.9h-1.4zM104.4 92.5h1.1v1.6h-1.1zM105.5 92.5h1.1v1.6h-1.1zM110 91.8h1.9v1.8h-1.9zM111.9 92.1h1.6v2.3h-1.6zM113.5 91.7h1.5v2.3h-1.5zM7.6 103.6h1.7v1.8h-1.7zM19.2 103.7h1.5v1.6h-1.5zM33.6 102.7h1.9v2.4h-1.9zM39.3 102.7h1.1v2.4h-1.1zM40.4 102.6h1.1v1.6h-1.1zM42.6 102.1h1.5v1.9h-1.5zM45.5 102.5h1v2.3h-1zM51.5 101.7h1.6v1.9h-1.6zM53.1 101.5h1.3v1.7h-1.3zM63.2 101h1v2h-1zM64.2 100.9h1.8v2.4h-1.8zM73.2 100.3h1.1v1.8h-1.1zM74.3 100.3h1.8v1.6h-1.8zM80.7 99.4h1.1v2.2h-1.1zM88.2 98.9h2v2.3h-2zM98.3 98.2h2v1.6h-2zM109.4 96.8h1.5v2h-1.5zM113.9 96.7h1.6v2.3h-1.6zM115.4 96.5h1.7v2h-1.7zM163.8 90.1h1.2v2.2h-1.2zM11.5 108.3h1.2v2.2h-1.2zM16 108h1.5v1.9h-1.5zM18.6 107.8h1.4v2.1h-1.4zM32.9 107.2h1.5v1.7h-1.5zM35.6 107.3h1.8v2.2h-1.8zM37.4 107.1h1.4v1.8h-1.4zM38.8 107.1h1.1v1.8h-1.1zM39.9 106.8h1.5v2.4h-1.5zM60.8 105.7h1.7v1.8h-1.7zM70.9 105.1h2v2.1h-2zM78.8 104.5h1.9v1.7h-1.9zM92.4 102.8h1.7v1.8h-1.7zM101.2 102.1h1.3v2.1h-1.3zM121.5 99.8h1.1v2.2h-1.1zM131.1 99.1h1.7v2.2h-1.7zM132.8 98.9h1.2v2h-1.2zM138.2 98.1h1.6v1.7h-1.6zM141.4 97.8h1v2.2h-1zM142.4 97.2h1.7v2.1h-1.7zM8.5 112.9h1.2v2.1h-1.2zM9.7 112.7h1.8v2.2h-1.8zM11.5 112.6h1.7v1.8h-1.7zM19.1 112.5h1v2h-1zM28.1 111.9h1.9v2.3h-1.9zM31.4 111.8h1.7v1.7h-1.7zM35.9 111.8h1.9v2.3h-1.9zM101.4 107h1.4v2.1h-1.4zM107.8 105.9h2v1.7h-2zM111.4 105.7h1.2v1.8h-1.2zM116.1 105.2h1.9v2.1h-1.9zM126.8 104h1.5v2.4h-1.5zM138.9 102.9h1.4v2.1h-1.4zM145.3 102.1h1.5v1.9h-1.5zM148.2 101.4h1.4v1.7h-1.4zM13.8 117.7h1.1v2h-1.1zM22.1 117.6h1.3v1.7h-1.3zM28.6 117h1.7v1.7h-1.7zM31.7 116.9h1.7v1.7h-1.7zM35.1 116.5h1.4v2.4h-1.4zM64.9 114.9h1.9v2.3h-1.9zM74.4 114.4h1.3v1.9h-1.3zM75.7 113.9h1.1v1.6h-1.1zM79.7 113.8h1.3v1.8h-1.3zM82.8 113.6h1v2.1h-1zM83.8 113.2h1v2.1h-1zM103.8 111.3h1.6v2.1h-1.6zM108.2 110.9h1.3v2.2h-1.3zM113.2 110.3h1.4v1.8h-1.4zM125.6 109.3h1.2v2.4h-1.2zM129.9 108.9h1.3v1.8h-1.3zM133 108.1h1.2v2.1h-1.2zM141.1 107.4h1.4v1.8h-1.4zM6.1 121.7h1.4v2.3h-1.4zM14 121.4h1.4v1.7h-1.4zM17.3 121.7h1.7v1.9h-1.7zM19 121.7h1.3v2.1h-1.3zM32 120.8h1.2v1.7h-1.2zM34.8 120.8h1.7v2.4h-1.7zM52 120h1.8v2.2h-1.8zM78.4 117.8h1.9v1.9h-1.9zM115.5 114.1h1.5v2.3h-1.5zM120.3 113.6h1.5v2.1h-1.5zM121.8 113.6h1.9v2.4h-1.9zM123.7 113.5h1.9v2.1h-1.9zM126.8 113h1.8v1.6h-1.8zM130.2 112.8h1.2v1.7h-1.2zM135.2 112.2h1.4v1.7h-1.4zM148.7 110.5h1.3v2.4h-1.3zM6.5 126.5h1.9v1.6h-1.9zM12.1 126.3h2v2.3h-2zM20.4 126.1h1.1v2.4h-1.1zM21.5 125.9h1.4v1.8h-1.4zM24.6 125.5h1.8v2h-1.8zM29.8 125.3h1.9v1.7h-1.9zM39.3 125.3h1.9v2.1h-1.9zM81 122.5h1.3v2.3h-1.3zM85.8 121.8h1.3v1.9h-1.3zM111 119.1h1.6v2.4h-1.6zM114.9 118.8h1.3v1.8h-1.3zM122.1 117.9h1.5v2.2h-1.5zM129.8 117.5h1.6v2.1h-1.6zM134.8 116.8h1.2v1.8h-1.2zM141.2 116h1.9v2.4h-1.9zM144.4 115.2h1.3v1.7h-1.3zM152.5 114.4h1.3v2.4h-1.3zM153.8 114h1.3v1.7h-1.3zM159.1 113.6h1.6v2.1h-1.6zM162.4 112.9h1.8v2.3h-1.8zM164.1 113h1.5v2.2h-1.5zM11.1 131.4h1.1v1.9h-1.1zM15.4 131.3h1.3v2.2h-1.3zM16.7 131.1h1.6v2.3h-1.6zM20.1 130.7h1.5v2.1h-1.5zM21.6 130.8h1.5v2.1h-1.5zM35.6 129.9h1.9v1.8h-1.9zM39.4 129.7h1.5v1.9h-1.5zM72.5 128h1.8v1.7h-1.8zM79.1 127.2h1.1v1.6h-1.1zM80.2 127.3h1.1v2h-1.1zM85.1 126.5h1.1v2.2h-1.1zM87.7 126.5h1.8v1.6h-1.8zM95.2 126h1.5v1.8h-1.5zM99.1 125.6h1.7v2.2h-1.7zM116 123.8h2v1.8h-2zM118 123.7h1.4v1.6h-1.4zM125.8 122.4h1.7v2.3h-1.7zM130.6 121.8h1.7v2.4h-1.7zM133.6 121.4h1.9v2.1h-1.9zM137.4 121.4h1.6v2h-1.6zM148.9 119.8h1.9v1.8h-1.9zM159 118.1h1.4v1.7h-1.4zM163.9 117.7h1.6v2.2h-1.6zM170.1 116.9h1.5v2.2h-1.5zM36.3 134.9h1.8v2h-1.8zM40 134.9h1.6v1.7h-1.6zM45.5 134.3h1.4v1.9h-1.4zM51.3 134h1.7v1.8h-1.7zM55.9 133.9h1.1v2h-1.1zM57 133.9h1.9v1.9h-1.9zM58.9 133.3h1.1v1.9h-1.1zM61.7 133.2h1.8v2.3h-1.8zM66.5 133.1h1.5v1.8h-1.5zM72.7 132.7h1.1v2.4h-1.1zM73.8 132.6h1.6v2.2h-1.6zM79.2 132.2h1.2v2.2h-1.2zM80.5 131.6h1.5v2.4h-1.5zM83.6 131.5h1.4v2h-1.4zM85 131.6h1.1v2.2h-1.1zM91.8 130.6h1.3v2.2h-1.3zM94.7 130.4h1.6v2.2h-1.6zM97.6 130.5h1.8v2.1h-1.8zM108.4 129h1.8v2h-1.8zM111.3 128.8h1.8v1.8h-1.8zM114 128.7h1.3v1.9h-1.3zM119.1 127.9h1v1.9h-1zM121.8 127.6h1.8v2.3h-1.8zM123.6 127.7h1.2v2.2h-1.2zM124.8 127.3h1.6v2.2h-1.6zM132.3 126.4h1.8v1.9h-1.8zM142.6 125.1h1.6v1.8h-1.6zM158.3 122.9h1.1v2h-1.1zM159.4 122.9h1.8v2.3h-1.8zM163.9 122.1h1.1v1.6h-1.1zM97 134.9h1.2v1.8h-1.2zM107.5 134.1h1.1v2.1h-1.1zM108.6 133.6h1.3v1.9h-1.3zM122.6 132.6h1.9v2.2h-1.9zM126.1 131.8h1.9v2h-1.9zM129.6 131.6h1.5v1.9h-1.5zM133.1 131.4h1.2v2.3h-1.2zM135.6 131h1.5v2h-1.5zM158.3 127.7h2v2.2h-2z"/><path fill="#8e8e8a" d="M14.6 19.7h1.4v1.1h-1.4zM23.6 18.9h1v1.1h-1zM35 18.6h1.6v1.1h-1.6zM39.8 18.6h1.3v1.1h-1.3zM6.6 24.9h1.5v1.1h-1.5zM22.8 24.1h1.7v1.1h-1.7zM36.2 23.4h1.1v1.1h-1.1zM48.6 23.2h1.7v1.1h-1.7zM68.5 21.9h1.5v1.1h-1.5zM79.2 20.7h1.7v1.1h-1.7zM100.1 18.7h1.5v1.1h-1.5zM103.2 18.6h1.2v1.1h-1.2zM14.6 28.4h1.1v1.1h-1.1zM20.3 28.4h1.2v1.1h-1.2zM22.1 28.5h1v1.1h-1zM26.6 28.3h1v1.1h-1zM38.5 27.3h1.1v1.1h-1.1zM59.8 26.3h1.5v1.1h-1.5zM65.9 25.9h1.1v1.1h-1.1zM70.3 25.7h1.4v1.1h-1.4zM93 23.4h1.6v1.1h-1.6zM101.8 22.5h1.6v1.1h-1.6zM109.3 21.8h1.4v1.1h-1.4zM124.7 20h1.3v1.1h-1.3zM127.7 20.1h1v1.1h-1zM128.8 19.8h1.5v1.1h-1.5zM137.5 18.9h1.6v1.1h-1.6zM8.5 33.3h1.2v1.1h-1.2zM46.3 31.5h1.1v1.1h-1.1zM50.1 31.3h1.4v1.1h-1.4zM56.9 30.7h1.6v1.1h-1.6zM77.7 29.5h1.1v1.1h-1.1zM93 28.2h1.5v1.1h-1.5zM93.8 27.6h1.7v1.1h-1.7zM94.7 27.5h1.3v1.1h-1.3zM109.2 26.4h1.6v1.1h-1.6zM113.3 26.1h1.1v1.1h-1.1zM119.4 25.2h1v1.1h-1zM131.4 24.1h1.6v1.1h-1.6zM157.6 20.4h1v1.1h-1zM22.6 37.7h1.5v1.1h-1.5zM34.2 37h1.3v1.1h-1.3zM49.9 36.3h1.7v1.1h-1.7zM51.2 36.2h1.6v1.1h-1.6zM61.9 35.8h1.4v1.1h-1.4zM69.9 35.1h1.7v1.1h-1.7zM108.4 31.6h1.6v1.1h-1.6zM111 31h1.2v1.1h-1.2zM118.1 30.4h1.6v1.1h-1.6zM133.4 28.6h1.5v1.1h-1.5zM142.9 27.2h1.1v1.1h-1.1zM9.5 42.4h1.1v1.1h-1.1zM39.7 41.2h1.5v1.1h-1.5zM76.4 38.4h1.4v1.1h-1.4zM86.6 38.1h1.3v1.1h-1.3zM109.2 35.7h1.4v1.1h-1.4zM111.7 35.4h1.5v1.1h-1.5zM113.4 35h1.2v1.1h-1.2zM115.8 35.2h1.5v1.1h-1.5zM118.5 34.7h1.3v1.1h-1.3zM124.2 34h1.2v1.1h-1.2zM135.7 32.6h1.1v1.1h-1.1zM145 31.6h1.3v1.1h-1.3zM165.4 28.6h1.2v1.1h-1.2zM20.3 46.9h1.1v1.1h-1.1zM81.2 43.2h1.1v1.1h-1.1zM84.7 42.9h1.4v1.1h-1.4zM90.2 42.5h1.4v1.1h-1.4zM92.2 42.1h1.2v1.1h-1.2zM97.6 42h1.4v1.1h-1.4zM110.3 40.1h1.5v1.1h-1.5zM112.3 40.4h1.5v1.1h-1.5zM126.1 38.9h1v1.1h-1zM132.1 38.2h1.5v1.1h-1.5zM142.8 36.5h1.4v1.1h-1.4zM43.4 50.3h1.6v1.1h-1.6zM78.9 48.2h1.5v1.1h-1.5zM86.7 47.3h1.2v1.1h-1.2zM87.9 47.3h1.7v1.1h-1.7zM90.3 46.8h1.6v1.1h-1.6zM114.3 44.6h1.2v1.1h-1.2zM125.2 43.8h1.6v1.1h-1.6zM139.7 41.9h1.4v1.1h-1.4zM142 41.4h1.2v1.1h-1.2zM144.3 40.9h1.4v1.1h-1.4zM155.2 39.8h1.4v1.1h-1.4zM161.3 38.7h1.5v1.1h-1.5zM11.8 56.6h1.1v1.1h-1.1zM19.2 56.3h1.6v1.1h-1.6zM34.1 55.5h1.7v1.1h-1.7zM83.2 52.2h1.1v1.1h-1.1zM88.2 51.8h1.5v1.1h-1.5zM94.6 51.4h1v1.1h-1zM113.5 49.4h1.3v1.1h-1.3zM123.9 48.5h1v1.1h-1zM134.9 47.2h1.6v1.1h-1.6zM142.4 45.8h1.6v1.1h-1.6zM144.6 45.9h1.2v1.1h-1.2zM162 43.4h1.7v1.1h-1.7zM13.5 61.4h1.6v1.1h-1.6zM25.1 60.8h1.1v1.1h-1.1zM40.1 60.1h1.1v1.1h-1.1zM62.6 58.6h1.1v1.1h-1.1zM70.4 58.2h1.1v1.1h-1.1zM73.4 57.9h1.7v1.1h-1.7zM123 53.5h1.3v1.1h-1.3zM129.1 52.3h1v1.1h-1zM130.8 52.3h1.6v1.1h-1.6zM137.3 51.5h1.2v1.1h-1.2zM138 51.4h1.3v1.1h-1.3zM140 51.2h1.4v1.1h-1.4zM143.3 50.7h1v1.1h-1zM144.7 50.5h1.7v1.1h-1.7zM145.8 50.4h1v1.1h-1zM150.5 50.1h1.3v1.1h-1.3zM157.8 48.5h1.4v1.1h-1.4zM164.4 48h1.4v1.1h-1.4zM166.3 47.8h1.3v1.1h-1.3zM10.5 65.6h1.4v1.1h-1.4zM28.2 64.8h1.5v1.1h-1.5zM44.8 64h1.5v1.1h-1.5zM70.7 62.3h1.2v1.1h-1.2zM80.2 61.6h1.1v1.1h-1.1zM81.9 61.3h1.2v1.1h-1.2zM129.7 56.3h1.1v1.1h-1.1zM14.4 70.5h1.6v1.1h-1.6zM15.6 70.6h1.2v1.1h-1.2zM16.7 70.4h1v1.1h-1zM59.3 68.1h1.4v1.1h-1.4zM77.7 66.6h1.1v1.1h-1.1zM85.8 65.7h1v1.1h-1zM87.9 65.9h1.4v1.1h-1.4zM118.5 63h1.6v1.1h-1.6zM123.9 62.2h1.1v1.1h-1.1zM126.9 62h1.7v1.1h-1.7zM135.8 60.9h1.3v1.1h-1.3zM20.3 74.8h1.3v1.1h-1.3zM38.9 73.6h1.2v1.1h-1.2zM39.7 73.5h1.1v1.1h-1.1zM46.5 73.2h1.5v1.1h-1.5zM61.2 72.4h1.3v1.1h-1.3zM64.1 72.4h1.1v1.1h-1.1zM68.4 71.8h1.3v1.1h-1.3zM69.7 72h1.3v1.1h-1.3zM87.7 70.3h1.4v1.1h-1.4zM110.2 68.2h1.3v1.1h-1.3zM123.9 66.6h1.2v1.1h-1.2zM129.2 66.2h1.4v1.1h-1.4zM136.7 65.3h1.3v1.1h-1.3zM141.1 64.8h1.7v1.1h-1.7zM143.9 63.9h1.2v1.1h-1.2zM151.3 63.2h1.6v1.1h-1.6zM157.7 62.5h1.3v1.1h-1.3zM23.5 78.6h1.3v1.1h-1.3zM27.3 78.2h1.4v1.1h-1.4zM36.4 78h1v1.1h-1zM38.1 77.7h1.3v1.1h-1.3zM39.5 77.8h1.7v1.1h-1.7zM41.2 77.9h1.7v1.1h-1.7zM43.3 77.6h1.1v1.1h-1.1zM59 76.6h1.3v1.1h-1.3zM68.1 76.2h1.1v1.1h-1.1zM69.9 75.6h1.7v1.1h-1.7zM72.4 75.7h1.2v1.1h-1.2zM74.8 75.3h1.4v1.1h-1.4zM78.8 75.2h1.2v1.1h-1.2zM89.7 74h1.5v1.1h-1.5zM101.4 73.2h1.4v1.1h-1.4zM103.8 72.9h1.7v1.1h-1.7zM114.2 71.5h1.1v1.1h-1.1zM123 70.8h1.2v1.1h-1.2zM141.2 68.5h1.4v1.1h-1.4zM147.2 67.5h1.1v1.1h-1.1zM166.6 64.9h1.1v1.1h-1.1zM170.4 64.7h1.3v1.1h-1.3zM24.7 83.7h1.4v1.1h-1.4zM35.7 83h1.7v1.1h-1.7zM40 82.8h1.6v1.1h-1.6zM53.2 82h1.5v1.1h-1.5zM58.4 81.7h1.4v1.1h-1.4zM79.5 80.3h1.1v1.1h-1.1zM107.8 77.2h1.2v1.1h-1.2zM117.2 76.6h1.4v1.1h-1.4zM32.2 87.4h1.4v1.1h-1.4zM39.3 87.5h1.7v1.1h-1.7zM60.6 85.8h1.1v1.1h-1.1zM63.8 85.7h1.2v1.1h-1.2zM67.9 85.5h1.6v1.1h-1.6zM70.8 85.1h1.6v1.1h-1.6zM75 84.6h1.1v1.1h-1.1zM86.6 83.8h1.2v1.1h-1.2zM98.2 83h1.3v1.1h-1.3zM101.6 82.7h1v1.1h-1zM107.7 81.9h1.7v1.1h-1.7zM144.2 77.5h1v1.1h-1zM160.3 75.4h1.4v1.1h-1.4zM161.6 75.4h1.5v1.1h-1.5zM165 75h1.3v1.1h-1.3zM8.1 93.3h1.1v1.1h-1.1zM20.9 93.4h1.6v1.1h-1.6zM39 92.4h1.6v1.1h-1.6zM42.4 92.1h1v1.1h-1zM45.8 91.8h1.6v1.1h-1.6zM52.9 91.3h1.1v1.1h-1.1zM54.4 91.1h1.5v1.1h-1.5zM57.3 91h1.1v1.1h-1.1zM58.4 90.8h1.2v1.1h-1.2zM59.8 90.9h1.1v1.1h-1.1zM63.5 90.7h1.7v1.1h-1.7zM72.7 90.2h1.6v1.1h-1.6zM91.1 88.6h1.3v1.1h-1.3zM94.3 88h1v1.1h-1zM97.8 87.8h1.6v1.1h-1.6zM99.1 87.5h1.2v1.1h-1.2zM117.9 85.6h1.5v1.1h-1.5zM26.2 96.8h1.5v1.1h-1.5zM31.5 96.7h1.1v1.1h-1.1zM40.4 96.5h1.4v1.1h-1.4zM41.5 96.1h1.1v1.1h-1.1zM43.3 96.4h1.2v1.1h-1.2zM44.8 96.3h1.4v1.1h-1.4zM69.9 94.5h1.7v1.1h-1.7zM73.6 93.9h1.4v1.1h-1.4zM75 93.9h1.3v1.1h-1.3zM76.3 93.8h1.3v1.1h-1.3zM88.9 93h1.4v1.1h-1.4zM90 92.5h1.7v1.1h-1.7zM96.6 91.9h1.7v1.1h-1.7zM29.9 101.8h1.4v1.1h-1.4zM43.8 100.9h1.6v1.1h-1.6zM50 100.6h1.4v1.1h-1.4zM68.7 99.6h1.4v1.1h-1.4zM73.4 99.1h1.3v1.1h-1.3zM76.2 99.1h1.2v1.1h-1.2zM81 98.2h1.3v1.1h-1.3zM87.9 97.7h1.1v1.1h-1.1zM103.1 96.2h1.4v1.1h-1.4zM130 93.2h1.2v1.1h-1.2zM135.8 92.9h1.6v1.1h-1.6zM17.5 106.9h1.5v1.1h-1.5zM20 106.5h1.1v1.1h-1.1zM32.9 106h1.2v1.1h-1.2zM43 105.6h1.3v1.1h-1.3zM67.6 103.7h1.6v1.1h-1.6zM69.9 103.6h1.3v1.1h-1.3zM70.7 103.9h1.1v1.1h-1.1zM75.8 103.5h1.4v1.1h-1.4zM80.8 102.7h1.3v1.1h-1.3zM95.2 101.6h1.2v1.1h-1.2zM109.8 99.9h1.7v1.1h-1.7zM121.5 98.6h1.7v1.1h-1.7zM141.4 96.6h1.3v1.1h-1.3zM14.9 111.3h1.6v1.1h-1.6zM24.7 111.3h1.4v1.1h-1.4zM31.6 110.6h1.5v1.1h-1.5zM35.8 110.6h1.1v1.1h-1.1zM76.2 108.1h1.5v1.1h-1.5zM82.4 107.7h1.2v1.1h-1.2zM92 106.2h1.6v1.1h-1.6zM95.3 106.4h1.2v1.1h-1.2zM103.7 105.1h1.6v1.1h-1.6zM118 103.9h1.1v1.1h-1.1zM121 103.5h1.3v1.1h-1.3zM135.9 101.6h1.3v1.1h-1.3zM13.9 116.5h1.5v1.1h-1.5zM15.2 116.4h1.4v1.1h-1.4zM22.3 116.4h1.1v1.1h-1.1zM26.8 115.8h1.4v1.1h-1.4zM35.1 115.3h1.4v1.1h-1.4zM70.1 113.4h1.6v1.1h-1.6zM113.1 109.1h1.1v1.1h-1.1zM122.3 108.3h1v1.1h-1zM145.9 105.6h1.7v1.1h-1.7zM7.4 120.3h1v1.1h-1zM28.5 119.6h1.5v1.1h-1.5zM32 119.6h1.4v1.1h-1.4zM35 119.6h1.2v1.1h-1.2zM52 118.8h1.2v1.1h-1.2zM79.9 116.2h1.1v1.1h-1.1zM85.4 116h1.1v1.1h-1.1zM121.6 112.4h1.1v1.1h-1.1zM127 111.8h1.3v1.1h-1.3zM139.4 110h1.1v1.1h-1.1zM141 110h1.6v1.1h-1.6zM6.5 125.3h1.3v1.1h-1.3zM12.1 125.1h1.5v1.1h-1.5zM33.9 124.3h1.5v1.1h-1.5zM35.3 123.9h1.7v1.1h-1.7zM39 124.1h1.6v1.1h-1.6zM41 124h1.4v1.1h-1.4zM73.5 121.6h1.1v1.1h-1.1zM86 120.6h1.5v1.1h-1.5zM117.6 117.4h1.4v1.1h-1.4zM138.6 114.8h1v1.1h-1zM144.5 114h1.2v1.1h-1.2zM149.2 113.3h1.6v1.1h-1.6zM166.7 111h1.1v1.1h-1.1zM11 130.2h1.6v1.1h-1.6zM35.7 128.7h1.1v1.1h-1.1zM75.5 126.3h1.7v1.1h-1.7zM79.2 126h1.6v1.1h-1.6zM83.6 125.4h1.5v1.1h-1.5zM86.1 125.6h1.6v1.1h-1.6zM95.4 124.8h1.3v1.1h-1.3zM106.9 123.7h1.3v1.1h-1.3zM114.3 122.5h1.1v1.1h-1.1zM133.5 120.2h1.2v1.1h-1.2zM142.7 119.2h1.1v1.1h-1.1zM144.3 119h1.3v1.1h-1.3zM148.8 118.6h1.4v1.1h-1.4zM155.6 117.8h1.3v1.1h-1.3zM162.2 116.8h1.5v1.1h-1.5zM165.8 116.5h1.3v1.1h-1.3zM168.6 116h1v1.1h-1zM40 133.7h1.6v1.1h-1.6zM43.9 133.1h1.7v1.1h-1.7zM55.8 132.7h1.7v1.1h-1.7zM65.6 131.6h1.5v1.1h-1.5zM66.3 131.9h1.3v1.1h-1.3zM71 131.2h1.4v1.1h-1.4zM83.6 130.3h1.4v1.1h-1.4zM86.3 130.1h1v1.1h-1zM88.8 130h1.4v1.1h-1.4zM94.6 129.2h1.4v1.1h-1.4zM101.7 128.8h1.7v1.1h-1.7zM115.6 127.1h1.6v1.1h-1.6zM120 126.8h1.1v1.1h-1.1zM121.9 126.4h1.3v1.1h-1.3zM124.8 126.1h1.4v1.1h-1.4zM137.2 124.8h1.1v1.1h-1.1zM140.5 124.6h1.1v1.1h-1.1zM145.7 123.9h1.3v1.1h-1.3zM149.8 123.1h1.1v1.1h-1.1zM162.2 121.2h1.5v1.1h-1.5zM103 133.1h1.5v1.1h-1.5zM105.9 132.7h1.6v1.1h-1.6zM108.3 132.4h1.3v1.1h-1.3zM109.9 132.7h1.4v1.1h-1.4zM118.7 131.3h1.4v1.1h-1.4zM120.2 131.5h1v1.1h-1zM132.9 130.2h1.3v1.1h-1.3z"/><ellipse cx="118.3" cy="137.3" rx="7.8" ry="7.2" fill="#1e1e1e" clip-path="url(#clipA)"/><rect x="6.1" y="17.8" width="165.9" height="0.9" fill="#3a3a3a"/>
<rect x="181" y="17.8" width="166" height="119" fill="#747470"/><rect x="181" y="17.8" width="166" height="119" filter="url(#grain)"/><path fill="#4c4c4a" d="M244.8 57.2h1.2v1.9h-1.2zM245.8 57.4h1.2v1.9h-1.2zM246.8 57.5h1.2v1.9h-1.2zM247.8 57.6h1.2v1.9h-1.2zM263.5 60.1h1.2v2.4h-1.2zM264.5 60.2h1.2v2.4h-1.2zM265.5 60.3h1.2v2.4h-1.2zM266.5 60.5h1.2v2.4h-1.2zM267.5 60.6h1.2v2.4h-1.2zM269.1 86.6h1.2v2.4h-1.2zM270.1 86.7h1.2v2.4h-1.2zM271.1 86.9h1.2v2.4h-1.2zM272.1 87.1h1.2v2.4h-1.2zM273.1 87.2h1.2v2.4h-1.2zM289 90.6h1.2v2.5h-1.2zM290 90.8h1.2v2.5h-1.2zM291 91h1.2v2.5h-1.2zM292 91.1h1.2v2.5h-1.2zM297.5 91.2h1.2v1.8h-1.2zM298.5 91.4h1.2v1.8h-1.2zM299.5 91.6h1.2v1.8h-1.2zM300.5 91.7h1.2v1.8h-1.2zM301.5 91.9h1.2v1.8h-1.2zM302.5 92.1h1.2v1.8h-1.2zM303.5 92.3h1.2v1.8h-1.2zM331.2 94.3h1.2v2.2h-1.2zM332.2 94.5h1.2v2.2h-1.2zM333.2 94.7h1.2v2.2h-1.2zM334.2 94.8h1.2v2.2h-1.2zM335.2 95h1.2v2.2h-1.2zM336.2 95.2h1.2v2.2h-1.2zM337.2 95.4h1.2v2.2h-1.2zM342.1 96.6h1.2v1.9h-1.2zM343.1 96.7h1.2v1.9h-1.2zM344.1 96.9h1.2v1.9h-1.2zM345.1 97.1h1.2v1.9h-1.2zM318.2 82.3h1.2v2.1h-1.2zM319.2 82.4h1.2v2.1h-1.2zM320.2 82.5h1.2v2.1h-1.2zM321.2 82.6h1.2v2.1h-1.2zM328.7 83.1h1.2v2h-1.2zM329.7 83.2h1.2v2h-1.2zM330.7 83.3h1.2v2h-1.2zM331.7 83.4h1.2v2h-1.2zM332.7 83.6h1.2v2h-1.2zM290.5 72.8h1.2v2.3h-1.2zM291.5 72.9h1.2v2.3h-1.2zM292.5 73h1.2v2.3h-1.2zM293.5 73.2h1.2v2.3h-1.2zM294.5 73.3h1.2v2.3h-1.2zM295.5 73.4h1.2v2.3h-1.2zM302.7 74.4h1.2v2.2h-1.2zM303.7 74.6h1.2v2.2h-1.2zM304.7 74.7h1.2v2.2h-1.2zM305.7 74.8h1.2v2.2h-1.2zM306.7 74.9h1.2v2.2h-1.2zM313.9 75.6h1.2v1.9h-1.2zM314.9 75.7h1.2v1.9h-1.2zM315.9 75.9h1.2v1.9h-1.2zM316.9 76h1.2v1.9h-1.2zM317.9 76.1h1.2v1.9h-1.2zM318.9 76.2h1.2v1.9h-1.2zM319.9 76.4h1.2v1.9h-1.2zM326.1 77.8h1.2v2.1h-1.2zM327.1 77.9h1.2v2.1h-1.2zM328.1 78.1h1.2v2.1h-1.2zM329.1 78.2h1.2v2.1h-1.2zM330.1 78.3h1.2v2.1h-1.2zM331.1 78.4h1.2v2.1h-1.2zM332.1 78.6h1.2v2.1h-1.2zM314.5 90.2h1.2v2.3h-1.2zM315.5 90.4h1.2v2.3h-1.2zM316.5 90.5h1.2v2.3h-1.2zM317.5 90.6h1.2v2.3h-1.2zM318.5 90.8h1.2v2.3h-1.2zM319.5 90.9h1.2v2.3h-1.2zM233 60.7h1.2v1.9h-1.2zM234 60.9h1.2v1.9h-1.2zM235 61.1h1.2v1.9h-1.2zM236 61.3h1.2v1.9h-1.2zM237 61.5h1.2v1.9h-1.2zM261.4 67.4h1.2v2.4h-1.2zM262.4 67.6h1.2v2.4h-1.2zM263.4 67.7h1.2v2.4h-1.2zM264.4 67.9h1.2v2.4h-1.2zM265.4 68h1.2v2.4h-1.2zM266.4 68.2h1.2v2.4h-1.2zM267.4 68.3h1.2v2.4h-1.2zM268.4 68.5h1.2v2.4h-1.2zM233.6 132h1.2v2.4h-1.2zM234.6 132.2h1.2v2.4h-1.2zM235.6 132.3h1.2v2.4h-1.2zM236.6 132.4h1.2v2.4h-1.2zM237.6 132.5h1.2v2.4h-1.2zM238.6 132.6h1.2v2.4h-1.2zM196.3 53.7h1.2v1.9h-1.2zM197.3 53.8h1.2v1.9h-1.2zM198.3 53.9h1.2v1.9h-1.2zM199.3 54.1h1.2v1.9h-1.2zM229.9 131.8h1.2v2.5h-1.2zM230.9 132h1.2v2.5h-1.2zM231.9 132.1h1.2v2.5h-1.2zM232.9 132.3h1.2v2.5h-1.2zM233.9 132.5h1.2v2.5h-1.2zM240 133.8h1.2v2h-1.2zM241 134h1.2v2h-1.2zM242 134.2h1.2v2h-1.2zM243 134.4h1.2v2h-1.2zM194.9 60.2h1.2v2h-1.2zM195.9 60.4h1.2v2h-1.2zM196.9 60.6h1.2v2h-1.2zM197.9 60.7h1.2v2h-1.2zM203.5 61.6h1.2v2.5h-1.2zM204.5 61.7h1.2v2.5h-1.2zM205.5 61.9h1.2v2.5h-1.2zM206.5 62h1.2v2.5h-1.2zM207.5 62.2h1.2v2.5h-1.2zM208.5 62.3h1.2v2.5h-1.2zM209.5 62.5h1.2v2.5h-1.2zM213 62.5h1.2v2.5h-1.2zM214 62.6h1.2v2.5h-1.2zM215 62.8h1.2v2.5h-1.2zM216 62.9h1.2v2.5h-1.2zM217 63.1h1.2v2.5h-1.2zM218 63.2h1.2v2.5h-1.2zM219 63.4h1.2v2.5h-1.2zM220 63.6h1.2v2.5h-1.2zM184.1 62.9h1.2v2h-1.2zM185.1 63.2h1.2v2h-1.2zM186.1 63.4h1.2v2h-1.2zM187.1 63.6h1.2v2h-1.2zM188.1 63.8h1.2v2h-1.2zM189.1 64.1h1.2v2h-1.2zM190.1 64.3h1.2v2h-1.2zM333.4 76.2h1.2v2.4h-1.2zM334.4 76.4h1.2v2.4h-1.2zM335.4 76.5h1.2v2.4h-1.2zM336.4 76.7h1.2v2.4h-1.2zM337.4 76.9h1.2v2.4h-1.2zM338.4 77.1h1.2v2.4h-1.2zM339.4 77.2h1.2v2.4h-1.2zM304.6 51.2h1.2v1.9h-1.2zM305.6 51.3h1.2v1.9h-1.2zM306.6 51.4h1.2v1.9h-1.2zM307.6 51.5h1.2v1.9h-1.2zM308.6 51.7h1.2v1.9h-1.2zM309.6 51.8h1.2v1.9h-1.2zM310.6 51.9h1.2v1.9h-1.2zM331.8 54.4h1.2v2.3h-1.2zM332.8 54.5h1.2v2.3h-1.2zM333.8 54.6h1.2v2.3h-1.2zM334.8 54.7h1.2v2.3h-1.2zM335.8 54.9h1.2v2.3h-1.2zM336.8 55h1.2v2.3h-1.2zM337.8 55.1h1.2v2.3h-1.2zM345.6 38.3h1.2v1.8h-1.2zM322.1 67.4h1.2v2.2h-1.2zM323.1 67.6h1.2v2.2h-1.2zM324.1 67.8h1.2v2.2h-1.2zM325.1 68.1h1.2v2.2h-1.2zM326.1 68.3h1.2v2.2h-1.2zM327.1 68.5h1.2v2.2h-1.2zM328.1 68.7h1.2v2.2h-1.2zM329.1 68.9h1.2v2.2h-1.2zM336.6 71.5h1.2v2.2h-1.2zM337.6 71.7h1.2v2.2h-1.2zM338.6 71.9h1.2v2.2h-1.2zM339.6 72.1h1.2v2.2h-1.2zM340.6 72.4h1.2v2.2h-1.2zM341.6 72.6h1.2v2.2h-1.2zM207.7 82.8h1.2v2.2h-1.2zM208.7 83h1.2v2.2h-1.2zM209.7 83.1h1.2v2.2h-1.2zM210.7 83.2h1.2v2.2h-1.2zM211.7 83.4h1.2v2.2h-1.2zM295.7 26.5h1.2v2.1h-1.2zM296.7 26.6h1.2v2.1h-1.2zM297.7 26.7h1.2v2.1h-1.2zM298.7 26.9h1.2v2.1h-1.2zM299.7 27h1.2v2.1h-1.2zM300.7 27.1h1.2v2.1h-1.2zM301.7 27.3h1.2v2.1h-1.2zM275.4 34h1.2v2.5h-1.2zM276.4 34.2h1.2v2.5h-1.2zM277.4 34.4h1.2v2.5h-1.2zM278.4 34.5h1.2v2.5h-1.2zM279.4 34.7h1.2v2.5h-1.2zM280.4 34.8h1.2v2.5h-1.2zM281.4 35h1.2v2.5h-1.2zM282.4 35.1h1.2v2.5h-1.2zM286.3 35.8h1.2v2.3h-1.2zM287.3 36h1.2v2.3h-1.2zM288.3 36.1h1.2v2.3h-1.2zM289.3 36.3h1.2v2.3h-1.2zM290.3 36.5h1.2v2.3h-1.2zM291.3 36.6h1.2v2.3h-1.2zM218.2 104.4h1.2v2h-1.2zM219.2 104.5h1.2v2h-1.2zM220.2 104.7h1.2v2h-1.2zM221.2 104.9h1.2v2h-1.2zM222.2 105.1h1.2v2h-1.2zM223.2 105.3h1.2v2h-1.2zM224.2 105.5h1.2v2h-1.2zM231.3 106.2h1.2v2.1h-1.2zM232.3 106.4h1.2v2.1h-1.2zM233.3 106.6h1.2v2.1h-1.2zM234.3 106.8h1.2v2.1h-1.2zM235.3 107h1.2v2.1h-1.2zM236.3 107.2h1.2v2.1h-1.2zM237.3 107.4h1.2v2.1h-1.2zM254.2 28.5h1.2v2h-1.2zM255.2 28.7h1.2v2h-1.2zM256.2 28.9h1.2v2h-1.2zM257.2 29.2h1.2v2h-1.2zM258.2 29.4h1.2v2h-1.2zM259.2 29.6h1.2v2h-1.2zM264.9 29.8h1.2v1.9h-1.2zM265.9 30h1.2v1.9h-1.2zM266.9 30.2h1.2v1.9h-1.2zM267.9 30.4h1.2v1.9h-1.2zM268.9 30.6h1.2v1.9h-1.2zM269.9 30.8h1.2v1.9h-1.2zM270.9 31h1.2v1.9h-1.2zM215.2 55.6h1.2v2.1h-1.2zM216.2 55.7h1.2v2.1h-1.2zM217.2 55.8h1.2v2.1h-1.2zM218.2 56h1.2v2.1h-1.2zM219.2 56.1h1.2v2.1h-1.2zM220.2 56.2h1.2v2.1h-1.2zM221.2 56.3h1.2v2.1h-1.2zM227.6 57.3h1.2v1.9h-1.2zM228.6 57.4h1.2v1.9h-1.2zM229.6 57.6h1.2v1.9h-1.2zM230.6 57.7h1.2v1.9h-1.2zM301.3 90.5h1.2v2.3h-1.2zM302.3 90.8h1.2v2.3h-1.2zM303.3 91.1h1.2v2.3h-1.2zM304.3 91.3h1.2v2.3h-1.2zM305.3 91.6h1.2v2.3h-1.2zM306.3 91.8h1.2v2.3h-1.2zM307.3 92.1h1.2v2.3h-1.2zM268.5 65.6h1.2v2.5h-1.2zM269.5 65.8h1.2v2.5h-1.2zM270.5 66h1.2v2.5h-1.2zM271.5 66.1h1.2v2.5h-1.2zM272.5 66.3h1.2v2.5h-1.2zM273.5 66.5h1.2v2.5h-1.2zM277.5 66.9h1.2v2.1h-1.2zM278.5 67h1.2v2.1h-1.2zM279.5 67.2h1.2v2.1h-1.2zM280.5 67.4h1.2v2.1h-1.2zM281.5 67.6h1.2v2.1h-1.2zM282.5 67.7h1.2v2.1h-1.2zM283.5 67.9h1.2v2.1h-1.2zM284.5 68.1h1.2v2.1h-1.2zM251.6 131h1.2v2.4h-1.2zM252.6 131.2h1.2v2.4h-1.2zM253.6 131.4h1.2v2.4h-1.2zM254.6 131.6h1.2v2.4h-1.2zM255.6 131.8h1.2v2.4h-1.2zM256.6 132h1.2v2.4h-1.2zM257.6 132.2h1.2v2.4h-1.2zM187.1 71.6h1.2v1.9h-1.2zM188.1 71.8h1.2v1.9h-1.2zM189.1 72h1.2v1.9h-1.2zM190.1 72.2h1.2v1.9h-1.2zM191.1 72.3h1.2v1.9h-1.2zM192.1 72.5h1.2v1.9h-1.2zM193.1 72.7h1.2v1.9h-1.2zM307.2 65.5h1.2v2.1h-1.2zM308.2 65.7h1.2v2.1h-1.2zM309.2 65.9h1.2v2.1h-1.2zM310.2 66h1.2v2.1h-1.2zM311.2 66.2h1.2v2.1h-1.2zM312.2 66.4h1.2v2.1h-1.2zM313.2 66.6h1.2v2.1h-1.2zM314.2 66.7h1.2v2.1h-1.2zM340.5 107.6h1.2v2.3h-1.2zM341.5 107.7h1.2v2.3h-1.2zM342.5 107.8h1.2v2.3h-1.2zM343.5 108h1.2v2.3h-1.2zM344.5 108.1h1.2v2.3h-1.2zM196.6 82.3h1.2v2.3h-1.2zM197.6 82.4h1.2v2.3h-1.2zM198.6 82.5h1.2v2.3h-1.2zM199.6 82.7h1.2v2.3h-1.2zM200.6 82.8h1.2v2.3h-1.2zM201.6 82.9h1.2v2.3h-1.2zM209 83.1h1.2v2.3h-1.2zM210 83.2h1.2v2.3h-1.2zM211 83.3h1.2v2.3h-1.2zM212 83.4h1.2v2.3h-1.2zM213 83.6h1.2v2.3h-1.2zM214 83.7h1.2v2.3h-1.2zM215 83.8h1.2v2.3h-1.2zM216 83.9h1.2v2.3h-1.2zM204.1 42.9h1.2v2.4h-1.2zM205.1 43h1.2v2.4h-1.2zM206.1 43.2h1.2v2.4h-1.2zM207.1 43.3h1.2v2.4h-1.2zM208.1 43.5h1.2v2.4h-1.2zM209.1 43.6h1.2v2.4h-1.2zM210.1 43.8h1.2v2.4h-1.2zM211.1 43.9h1.2v2.4h-1.2zM237.8 46.5h1.2v2.2h-1.2zM238.8 46.6h1.2v2.2h-1.2zM239.8 46.8h1.2v2.2h-1.2zM240.8 46.9h1.2v2.2h-1.2zM241.8 47.1h1.2v2.2h-1.2zM242.8 47.2h1.2v2.2h-1.2zM229.3 115.9h1.2v1.8h-1.2zM230.3 116.1h1.2v1.8h-1.2zM231.3 116.4h1.2v1.8h-1.2zM232.3 116.6h1.2v1.8h-1.2zM233.3 116.9h1.2v1.8h-1.2zM234.3 117.1h1.2v1.8h-1.2zM235.3 117.4h1.2v1.8h-1.2zM238.5 117.7h1.2v2h-1.2zM239.5 118h1.2v2h-1.2zM240.5 118.2h1.2v2h-1.2zM241.5 118.4h1.2v2h-1.2zM242.5 118.7h1.2v2h-1.2zM243.5 118.9h1.2v2h-1.2zM272.5 57.2h1.2v2.2h-1.2zM273.5 57.4h1.2v2.2h-1.2zM274.5 57.5h1.2v2.2h-1.2zM275.5 57.7h1.2v2.2h-1.2zM276.5 57.8h1.2v2.2h-1.2zM277.5 58h1.2v2.2h-1.2zM278.5 58.2h1.2v2.2h-1.2zM279.5 58.3h1.2v2.2h-1.2zM300.6 61.7h1.2v2h-1.2zM301.6 61.9h1.2v2h-1.2zM302.6 62h1.2v2h-1.2zM303.6 62.2h1.2v2h-1.2zM304.6 62.4h1.2v2h-1.2zM270.3 115.4h1.2v2.1h-1.2zM271.3 115.7h1.2v2.1h-1.2zM272.3 115.9h1.2v2.1h-1.2zM273.3 116.1h1.2v2.1h-1.2zM274.3 116.3h1.2v2.1h-1.2zM275.3 116.6h1.2v2.1h-1.2zM276.3 116.8h1.2v2.1h-1.2zM293.7 121.2h1.2v2.1h-1.2zM294.7 121.4h1.2v2.1h-1.2zM295.7 121.6h1.2v2.1h-1.2zM296.7 121.9h1.2v2.1h-1.2zM297.7 122.1h1.2v2.1h-1.2zM298.7 122.3h1.2v2.1h-1.2zM237.9 54.7h1.2v2h-1.2zM238.9 54.9h1.2v2h-1.2zM239.9 55.1h1.2v2h-1.2zM240.9 55.2h1.2v2h-1.2zM241.9 55.4h1.2v2h-1.2zM242.9 55.6h1.2v2h-1.2zM243.9 55.7h1.2v2h-1.2zM293.2 58.8h1.2v2.3h-1.2zM294.2 59h1.2v2.3h-1.2zM295.2 59.2h1.2v2.3h-1.2zM296.2 59.4h1.2v2.3h-1.2zM309.3 61.5h1.2v2.3h-1.2zM310.3 61.7h1.2v2.3h-1.2zM311.3 61.9h1.2v2.3h-1.2zM312.3 62.1h1.2v2.3h-1.2zM313.3 62.3h1.2v2.3h-1.2zM314.3 62.5h1.2v2.3h-1.2zM321 129.5h1.2v2h-1.2zM322 129.7h1.2v2h-1.2zM323 129.8h1.2v2h-1.2zM324 130h1.2v2h-1.2zM325 130.1h1.2v2h-1.2zM326 130.2h1.2v2h-1.2zM327 130.4h1.2v2h-1.2zM210.2 109.6h1.2v2.3h-1.2zM211.2 109.7h1.2v2.3h-1.2zM212.2 109.9h1.2v2.3h-1.2zM213.2 110h1.2v2.3h-1.2zM214.2 110.2h1.2v2.3h-1.2zM215.2 110.3h1.2v2.3h-1.2zM216.2 110.4h1.2v2.3h-1.2zM223.4 112.1h1.2v2.1h-1.2zM224.4 112.2h1.2v2.1h-1.2zM225.4 112.3h1.2v2.1h-1.2zM226.4 112.5h1.2v2.1h-1.2zM227.4 112.6h1.2v2.1h-1.2zM228.4 112.8h1.2v2.1h-1.2zM229.4 112.9h1.2v2.1h-1.2zM235.6 113h1.2v2.4h-1.2zM236.6 113.1h1.2v2.4h-1.2zM237.6 113.3h1.2v2.4h-1.2zM238.6 113.4h1.2v2.4h-1.2zM239.6 113.6h1.2v2.4h-1.2zM240.6 113.7h1.2v2.4h-1.2zM241.6 113.9h1.2v2.4h-1.2zM242.6 114h1.2v2.4h-1.2zM181.1 73.8h1.2v2.1h-1.2zM182.1 74h1.2v2.1h-1.2zM315.3 77.5h1.2v1.9h-1.2zM316.3 77.8h1.2v1.9h-1.2zM317.3 78h1.2v1.9h-1.2zM318.3 78.3h1.2v1.9h-1.2zM319.3 78.5h1.2v1.9h-1.2zM320.3 78.8h1.2v1.9h-1.2zM321.3 79h1.2v1.9h-1.2zM326.3 80.6h1.2v1.9h-1.2zM327.3 80.8h1.2v1.9h-1.2zM328.3 81.1h1.2v1.9h-1.2zM329.3 81.3h1.2v1.9h-1.2zM330.3 81.6h1.2v1.9h-1.2zM331.3 81.9h1.2v1.9h-1.2zM210 65.6h1.2v2.1h-1.2zM211 65.8h1.2v2.1h-1.2zM212 65.9h1.2v2.1h-1.2zM213 66.1h1.2v2.1h-1.2zM214 66.2h1.2v2.1h-1.2zM215 66.4h1.2v2.1h-1.2zM222.3 68.3h1.2v1.9h-1.2zM223.3 68.4h1.2v1.9h-1.2zM224.3 68.6h1.2v1.9h-1.2zM225.3 68.7h1.2v1.9h-1.2zM226.3 68.9h1.2v1.9h-1.2zM341.5 76.1h1.2v2.1h-1.2zM342.5 76.3h1.2v2.1h-1.2zM343.5 76.5h1.2v2.1h-1.2zM344.5 76.7h1.2v2.1h-1.2zM345.5 76.9h1.2v2.1h-1.2zM228.5 42.5h1.2v2.1h-1.2zM229.5 42.6h1.2v2.1h-1.2zM230.5 42.8h1.2v2.1h-1.2zM231.5 42.9h1.2v2.1h-1.2zM232.5 43h1.2v2.1h-1.2zM233.5 43.1h1.2v2.1h-1.2zM234.5 43.3h1.2v2.1h-1.2zM208.4 25.3h1.2v2.3h-1.2zM209.4 25.4h1.2v2.3h-1.2zM210.4 25.6h1.2v2.3h-1.2zM211.4 25.8h1.2v2.3h-1.2zM212.4 26h1.2v2.3h-1.2zM216.1 27.1h1.2v2.5h-1.2zM217.1 27.3h1.2v2.5h-1.2zM218.1 27.5h1.2v2.5h-1.2zM219.1 27.6h1.2v2.5h-1.2zM220.1 27.8h1.2v2.5h-1.2zM221.1 28h1.2v2.5h-1.2zM236.9 30.2h1.2v2.4h-1.2zM237.9 30.4h1.2v2.4h-1.2zM238.9 30.5h1.2v2.4h-1.2zM239.9 30.7h1.2v2.4h-1.2zM240.9 30.9h1.2v2.4h-1.2zM241.9 31.1h1.2v2.4h-1.2zM242.9 31.3h1.2v2.4h-1.2zM243.9 31.5h1.2v2.4h-1.2zM271.7 35.3h1.2v2.1h-1.2zM272.7 35.4h1.2v2.1h-1.2zM273.7 35.6h1.2v2.1h-1.2zM274.7 35.7h1.2v2.1h-1.2zM275.7 35.9h1.2v2.1h-1.2zM286.3 37.2h1.2v2.2h-1.2zM287.3 37.3h1.2v2.2h-1.2zM288.3 37.5h1.2v2.2h-1.2zM289.3 37.6h1.2v2.2h-1.2zM290.3 37.8h1.2v2.2h-1.2zM291.3 37.9h1.2v2.2h-1.2zM292.3 38.1h1.2v2.2h-1.2zM293.3 38.2h1.2v2.2h-1.2zM298.3 38.5h1.2v2.2h-1.2zM299.3 38.6h1.2v2.2h-1.2zM300.3 38.8h1.2v2.2h-1.2zM301.3 38.9h1.2v2.2h-1.2zM302.3 39.1h1.2v2.2h-1.2zM223.6 89.3h1.2v2.1h-1.2zM224.6 89.5h1.2v2.1h-1.2zM225.6 89.6h1.2v2.1h-1.2zM226.6 89.8h1.2v2.1h-1.2zM227.6 90h1.2v2.1h-1.2zM267.1 51.3h1.2v2.3h-1.2zM268.1 51.4h1.2v2.3h-1.2zM269.1 51.5h1.2v2.3h-1.2zM270.1 51.7h1.2v2.3h-1.2zM271.1 51.8h1.2v2.3h-1.2zM272.1 51.9h1.2v2.3h-1.2zM323.8 40.7h1.2v2.2h-1.2zM324.8 40.9h1.2v2.2h-1.2zM325.8 41h1.2v2.2h-1.2zM326.8 41.1h1.2v2.2h-1.2zM327.8 41.3h1.2v2.2h-1.2zM328.8 41.4h1.2v2.2h-1.2zM329.8 41.5h1.2v2.2h-1.2zM199.3 54.8h1.2v2.3h-1.2zM200.3 55h1.2v2.3h-1.2zM201.3 55.3h1.2v2.3h-1.2zM202.3 55.5h1.2v2.3h-1.2zM203.3 55.7h1.2v2.3h-1.2zM204.3 56h1.2v2.3h-1.2zM205.3 56.2h1.2v2.3h-1.2zM206.3 56.4h1.2v2.3h-1.2zM186.2 22.3h1.2v2.1h-1.2zM187.2 22.5h1.2v2.1h-1.2zM188.2 22.6h1.2v2.1h-1.2zM189.2 22.7h1.2v2.1h-1.2zM190.2 22.9h1.2v2.1h-1.2zM258.6 64.1h1.2v2h-1.2zM259.6 64.3h1.2v2h-1.2zM260.6 64.6h1.2v2h-1.2zM261.6 64.8h1.2v2h-1.2zM262.6 65h1.2v2h-1.2zM263.6 65.2h1.2v2h-1.2zM264.6 65.4h1.2v2h-1.2zM265.6 65.7h1.2v2h-1.2zM224.1 45.2h1.2v1.9h-1.2zM225.1 45.3h1.2v1.9h-1.2zM226.1 45.5h1.2v1.9h-1.2zM227.1 45.7h1.2v1.9h-1.2zM228.1 45.8h1.2v1.9h-1.2zM219.4 61.8h1.2v2.4h-1.2zM220.4 62h1.2v2.4h-1.2zM221.4 62.3h1.2v2.4h-1.2zM222.4 62.5h1.2v2.4h-1.2zM223.4 62.7h1.2v2.4h-1.2zM219.3 41.3h1.6v1.6h-1.6zM224.4 71.2h1.5v1.5h-1.5zM266.5 118.3h1.1v1.1h-1.1zM325.6 126.6h1v1h-1zM275.2 96.4h1.6v1.6h-1.6zM189.5 116.1h1.7v1.7h-1.7zM281.3 69.9h1.5v1.5h-1.5zM236.9 79.5h1.2v1.2h-1.2zM260.9 45.6h1.1v1.1h-1.1zM268.1 42.4h1.1v1.1h-1.1zM257.5 89.7h1.4v1.4h-1.4zM317.7 69.4h1.1v1.1h-1.1zM205.8 130.7h1.3v1.3h-1.3zM259.7 113.5h1v1h-1zM246.5 123.2h1v1h-1zM195.8 88.5h1.2v1.2h-1.2zM276.4 72.9h0.9v0.9h-0.9zM318.2 21.8h1.4v1.4h-1.4zM317.6 70.1h1.3v1.3h-1.3zM250.6 41.9h1.4v1.4h-1.4zM198.2 121.8h0.9v0.9h-0.9zM204.1 64h1v1h-1zM291.7 43h1.5v1.5h-1.5zM286.3 63.1h1.5v1.5h-1.5zM295.8 19.2h1.1v1.1h-1.1zM246.5 54.3h1.4v1.4h-1.4zM318.8 53.6h1.5v1.5h-1.5zM233.7 106.1h1.2v1.2h-1.2zM315.4 42.8h1.3v1.3h-1.3zM210.7 70.1h1v1h-1zM270.8 87.4h1.4v1.4h-1.4zM315.9 57.8h1.4v1.4h-1.4zM271.8 48.3h1.5v1.5h-1.5zM339.7 95.7h1.8v1.8h-1.8zM236.1 95.1h1.6v1.6h-1.6zM259.1 124.2h1.1v1.1h-1.1zM235.3 70.8h1.3v1.3h-1.3zM294.3 22.9h1.7v1.7h-1.7zM327.1 98.4h1.3v1.3h-1.3zM301 37h1.6v1.6h-1.6zM284 108.3h1.5v1.5h-1.5zM272.7 78.5h1v1h-1zM258.3 69.8h1.5v1.5h-1.5zM311 59.3h1.4v1.4h-1.4zM245.3 70.9h1.2v1.2h-1.2zM315 24.5h1v1h-1zM332.4 114.8h1.1v1.1h-1.1zM234 92.5h1.1v1.1h-1.1zM219.2 30.4h1.2v1.2h-1.2zM233.9 106.2h1.6v1.6h-1.6zM252.3 88.7h1.6v1.6h-1.6zM241.3 61.2h1.3v1.3h-1.3zM188.8 129.2h1.6v1.6h-1.6zM231.8 121h1.5v1.5h-1.5zM238.3 37h1.8v1.8h-1.8zM332.4 87.5h1.7v1.7h-1.7zM207.3 65.6h1.2v1.2h-1.2zM333.9 107.8h1.1v1.1h-1.1zM297.5 27.3h1v1h-1zM286.7 109.7h1v1h-1zM314.3 35.7h1.1v1.1h-1.1zM278.8 128.9h1.4v1.4h-1.4zM226.2 97.7h1.7v1.7h-1.7z"/><path fill="#969692" d="M246.2 56.6h1.2v0.8h-1.2zM247.2 56.7h1.2v0.8h-1.2zM181.4 122.2h1.2v0.8h-1.2zM270.5 86h1.2v0.8h-1.2zM278.5 87.8h1.2v0.8h-1.2zM290.4 90.1h1.2v0.8h-1.2zM296.9 90.3h1.2v0.8h-1.2zM297.9 90.5h1.2v0.8h-1.2zM306.1 92.7h1.2v0.8h-1.2zM329.9 132.3h1.2v0.8h-1.2zM338.8 133.3h1.2v0.8h-1.2zM318.6 81.5h1.2v0.8h-1.2zM319.6 81.6h1.2v0.8h-1.2zM292.9 72.3h1.2v0.8h-1.2zM329.5 77.4h1.2v0.8h-1.2zM330.5 77.5h1.2v0.8h-1.2zM326.5 91.8h1.2v0.8h-1.2zM328.5 92.1h1.2v0.8h-1.2zM336.6 92.4h1.2v0.8h-1.2zM340.6 93h1.2v0.8h-1.2zM237.8 98.3h1.2v0.8h-1.2zM238.8 98.5h1.2v0.8h-1.2zM242.8 99h1.2v0.8h-1.2zM333.4 132.4h1.2v0.8h-1.2zM289.8 113h1.2v0.8h-1.2zM294.8 113.7h1.2v0.8h-1.2zM319.2 117.4h1.2v0.8h-1.2zM326.2 118.3h1.2v0.8h-1.2zM213.7 57h1.2v0.8h-1.2zM214.7 57.2h1.2v0.8h-1.2zM232.4 59.8h1.2v0.8h-1.2zM233.4 60h1.2v0.8h-1.2zM247.1 62.6h1.2v0.8h-1.2zM288.7 87.2h1.2v0.8h-1.2zM312.7 91.5h1.2v0.8h-1.2zM325 35.6h1.2v0.8h-1.2zM262.8 66.8h1.2v0.8h-1.2zM266.8 67.4h1.2v0.8h-1.2zM267.8 67.6h1.2v0.8h-1.2zM273 68h1.2v0.8h-1.2zM223.2 129.9h1.2v0.8h-1.2zM234 131.3h1.2v0.8h-1.2zM235 131.4h1.2v0.8h-1.2zM340.4 31.5h1.2v0.8h-1.2zM192.6 53.5h1.2v0.8h-1.2zM244.1 78h1.2v0.8h-1.2zM255.9 80.9h1.2v0.8h-1.2zM333.7 104.4h1.2v0.8h-1.2zM215.3 92.6h1.2v0.8h-1.2zM216.3 92.9h1.2v0.8h-1.2zM210.5 127.8h1.2v0.8h-1.2zM202.9 60.7h1.2v0.8h-1.2zM206.9 61.3h1.2v0.8h-1.2zM207.9 61.4h1.2v0.8h-1.2zM208.9 61.6h1.2v0.8h-1.2zM226.3 64.3h1.2v0.8h-1.2zM323.1 74.1h1.2v0.8h-1.2zM332.8 75.3h1.2v0.8h-1.2zM338.8 76.3h1.2v0.8h-1.2zM268.8 30.5h1.2v0.8h-1.2zM272.8 31.5h1.2v0.8h-1.2zM196.3 120h1.2v0.8h-1.2zM323 29.3h1.2v0.8h-1.2zM331.5 32.2h1.2v0.8h-1.2zM333.5 32.6h1.2v0.8h-1.2zM342.2 34.8h1.2v0.8h-1.2zM343.2 35.1h1.2v0.8h-1.2zM308 50.8h1.2v0.8h-1.2zM324.3 52h1.2v0.8h-1.2zM331.2 53.5h1.2v0.8h-1.2zM333 122.3h1.2v0.8h-1.2zM335 122.8h1.2v0.8h-1.2zM337 123.3h1.2v0.8h-1.2zM338 123.5h1.2v0.8h-1.2zM339 123.8h1.2v0.8h-1.2zM322.2 33.6h1.2v0.8h-1.2zM335.1 36.5h1.2v0.8h-1.2zM319.6 27.2h1.2v0.8h-1.2zM334.4 28.7h1.2v0.8h-1.2zM343.8 30.3h1.2v0.8h-1.2zM341 71.7h1.2v0.8h-1.2zM198.7 80.4h1.2v0.8h-1.2zM199.7 80.5h1.2v0.8h-1.2zM203.7 81.1h1.2v0.8h-1.2zM274.8 33.1h1.2v0.8h-1.2zM277.8 33.6h1.2v0.8h-1.2zM300.3 37.1h1.2v0.8h-1.2zM302.3 37.4h1.2v0.8h-1.2zM217.6 103.5h1.2v0.8h-1.2zM219.6 103.8h1.2v0.8h-1.2zM223.6 104.6h1.2v0.8h-1.2zM230.7 105.3h1.2v0.8h-1.2zM231.7 105.5h1.2v0.8h-1.2zM238.8 23.9h1.2v0.8h-1.2zM249.1 26h1.2v0.8h-1.2zM256.6 28.3h1.2v0.8h-1.2zM265.3 29.1h1.2v0.8h-1.2zM227 56.4h1.2v0.8h-1.2zM236.2 56.8h1.2v0.8h-1.2zM192.5 93.6h1.2v0.8h-1.2zM303.7 90.4h1.2v0.8h-1.2zM317.7 93.8h1.2v0.8h-1.2zM328.1 97h1.2v0.8h-1.2zM253.2 61.7h1.2v0.8h-1.2zM280.9 66.7h1.2v0.8h-1.2zM241.3 128.5h1.2v0.8h-1.2zM245.3 129.3h1.2v0.8h-1.2zM247.3 129.6h1.2v0.8h-1.2zM252 130.3h1.2v0.8h-1.2zM186.5 70.7h1.2v0.8h-1.2zM191.5 71.6h1.2v0.8h-1.2zM296.1 63.1h1.2v0.8h-1.2zM306.6 64.6h1.2v0.8h-1.2zM312.6 65.7h1.2v0.8h-1.2zM313.6 65.8h1.2v0.8h-1.2zM329.7 68.8h1.2v0.8h-1.2zM320.9 103.3h1.2v0.8h-1.2zM329.5 104.5h1.2v0.8h-1.2zM341.9 106.9h1.2v0.8h-1.2zM342.9 107.1h1.2v0.8h-1.2zM185.8 79.2h1.2v0.8h-1.2zM208.4 82.2h1.2v0.8h-1.2zM213.4 82.8h1.2v0.8h-1.2zM203.5 42h1.2v0.8h-1.2zM207.5 42.6h1.2v0.8h-1.2zM209.5 42.9h1.2v0.8h-1.2zM210.5 43h1.2v0.8h-1.2zM227 44.3h1.2v0.8h-1.2zM238.2 45.7h1.2v0.8h-1.2zM241.2 46.2h1.2v0.8h-1.2zM199 106.9h1.2v0.8h-1.2zM208.7 109.1h1.2v0.8h-1.2zM228.7 115h1.2v0.8h-1.2zM229.7 115.2h1.2v0.8h-1.2zM242.9 118h1.2v0.8h-1.2zM274.9 56.8h1.2v0.8h-1.2zM277.9 57.3h1.2v0.8h-1.2zM278.9 57.4h1.2v0.8h-1.2zM300 60.8h1.2v0.8h-1.2zM269.7 114.5h1.2v0.8h-1.2zM270.7 114.8h1.2v0.8h-1.2zM273.7 115.4h1.2v0.8h-1.2zM226.4 22.3h1.2v0.8h-1.2zM232.6 52.6h1.2v0.8h-1.2zM238.3 54h1.2v0.8h-1.2zM286.4 56.8h1.2v0.8h-1.2zM299.4 59.7h1.2v0.8h-1.2zM312.7 61.4h1.2v0.8h-1.2zM204 22.8h1.2v0.8h-1.2zM205 23h1.2v0.8h-1.2zM206 23.2h1.2v0.8h-1.2zM207 23.4h1.2v0.8h-1.2zM214.2 25h1.2v0.8h-1.2zM216.2 25.4h1.2v0.8h-1.2zM224 26.9h1.2v0.8h-1.2zM237.1 28.5h1.2v0.8h-1.2zM320.7 59.2h1.2v0.8h-1.2zM245.7 89.7h1.2v0.8h-1.2zM246.7 89.9h1.2v0.8h-1.2zM252.7 91.3h1.2v0.8h-1.2zM269.1 95h1.2v0.8h-1.2zM313.4 126.8h1.2v0.8h-1.2zM326.4 129.5h1.2v0.8h-1.2zM333.7 129.5h1.2v0.8h-1.2zM338.7 130.2h1.2v0.8h-1.2zM339.7 130.3h1.2v0.8h-1.2zM212.6 109.1h1.2v0.8h-1.2zM185.2 73.1h1.2v0.8h-1.2zM326.7 79.9h1.2v0.8h-1.2zM328.7 80.4h1.2v0.8h-1.2zM250.5 102.4h1.2v0.8h-1.2zM278 110.1h1.2v0.8h-1.2zM200.9 63.5h1.2v0.8h-1.2zM201.9 63.7h1.2v0.8h-1.2zM225.7 68h1.2v0.8h-1.2zM236.3 69h1.2v0.8h-1.2zM342.9 75.6h1.2v0.8h-1.2zM221.1 40h1.2v0.8h-1.2zM227.9 41.6h1.2v0.8h-1.2zM230.9 42h1.2v0.8h-1.2zM231.9 42.1h1.2v0.8h-1.2zM227.1 19.2h1.2v0.8h-1.2zM236.8 21.1h1.2v0.8h-1.2zM207.8 24.4h1.2v0.8h-1.2zM209.8 24.7h1.2v0.8h-1.2zM225.9 27.6h1.2v0.8h-1.2zM227.9 28h1.2v0.8h-1.2zM229.9 28.4h1.2v0.8h-1.2zM237.3 29.5h1.2v0.8h-1.2zM238.3 29.6h1.2v0.8h-1.2zM243.3 30.6h1.2v0.8h-1.2zM250.4 33.1h1.2v0.8h-1.2zM275.1 35h1.2v0.8h-1.2zM280 35.6h1.2v0.8h-1.2zM285.7 36.3h1.2v0.8h-1.2zM287.7 36.6h1.2v0.8h-1.2zM288.7 36.7h1.2v0.8h-1.2zM292.7 37.3h1.2v0.8h-1.2zM299.7 37.9h1.2v0.8h-1.2zM300.7 38h1.2v0.8h-1.2zM223 88.4h1.2v0.8h-1.2zM231.6 91h1.2v0.8h-1.2zM233.6 91.3h1.2v0.8h-1.2zM234.6 91.5h1.2v0.8h-1.2zM237.6 92h1.2v0.8h-1.2zM245.4 92.7h1.2v0.8h-1.2zM247.4 93h1.2v0.8h-1.2zM249.4 93.4h1.2v0.8h-1.2zM257.3 48.8h1.2v0.8h-1.2zM258.3 48.9h1.2v0.8h-1.2zM270.5 50.9h1.2v0.8h-1.2zM306.2 37.9h1.2v0.8h-1.2zM308.2 38.1h1.2v0.8h-1.2zM314 38.1h1.2v0.8h-1.2zM316 38.4h1.2v0.8h-1.2zM328.2 40.5h1.2v0.8h-1.2zM329.2 40.6h1.2v0.8h-1.2zM181.2 48.9h1.2v0.8h-1.2zM182.2 49.1h1.2v0.8h-1.2zM199.7 54.1h1.2v0.8h-1.2zM200.7 54.4h1.2v0.8h-1.2zM201.7 54.6h1.2v0.8h-1.2zM188.6 21.8h1.2v0.8h-1.2zM260 63.7h1.2v0.8h-1.2zM261 63.9h1.2v0.8h-1.2zM263 64.3h1.2v0.8h-1.2zM269.4 65.2h1.2v0.8h-1.2zM271.4 65.6h1.2v0.8h-1.2zM273.4 66.1h1.2v0.8h-1.2zM288.7 25.5h1.2v0.8h-1.2zM297.4 27.8h1.2v0.8h-1.2zM298.4 28h1.2v0.8h-1.2zM302.4 28.5h1.2v0.8h-1.2zM220 20.1h1.2v0.8h-1.2zM222 20.6h1.2v0.8h-1.2zM223 20.8h1.2v0.8h-1.2zM226 21.5h1.2v0.8h-1.2zM256.1 121.6h1.2v0.8h-1.2zM257.1 121.8h1.2v0.8h-1.2zM227.5 44.9h1.2v0.8h-1.2zM233.9 46.5h1.2v0.8h-1.2zM234.9 46.6h1.2v0.8h-1.2zM201.7 57.4h1.2v0.8h-1.2zM211.3 59.2h1.2v0.8h-1.2zM221.8 61.6h1.2v0.8h-1.2z"/><path fill="#3a3a38" d="M255.1 58.2h1.2v1.9h-1.2zM256.1 58.3h1.2v1.9h-1.2zM257.1 58.5h1.2v1.9h-1.2zM258.1 58.6h1.2v1.9h-1.2zM259.1 58.7h1.2v1.9h-1.2zM260.1 58.9h1.2v1.9h-1.2zM271.7 61.5h1.2v2.4h-1.2zM272.7 61.6h1.2v2.4h-1.2zM273.7 61.8h1.2v2.4h-1.2zM274.7 61.9h1.2v2.4h-1.2zM275.7 62h1.2v2.4h-1.2zM276.7 62.2h1.2v2.4h-1.2zM277.7 62.3h1.2v2.4h-1.2zM278.7 62.5h1.2v2.4h-1.2zM182 123.1h1.2v2.4h-1.2zM183 123.3h1.2v2.4h-1.2zM337 20.2h1.2v2h-1.2zM338 20.4h1.2v2h-1.2zM339 20.7h1.2v2h-1.2zM340 20.9h1.2v2h-1.2zM341 21.1h1.2v2h-1.2zM306.7 93.6h1.2v1.9h-1.2zM307.7 93.7h1.2v1.9h-1.2zM308.7 93.9h1.2v1.9h-1.2zM309.7 94.1h1.2v1.9h-1.2zM310.7 94.2h1.2v1.9h-1.2zM181 134.2h1.2v1.9h-1.2zM337.4 133.9h1.2v2h-1.2zM338.4 134h1.2v2h-1.2zM339.4 134.2h1.2v2h-1.2zM340.4 134.3h1.2v2h-1.2zM327.1 92.7h1.2v2.1h-1.2zM328.1 92.9h1.2v2.1h-1.2zM329.1 93h1.2v2.1h-1.2zM330.1 93.1h1.2v2.1h-1.2zM335.2 93.1h1.2v2.2h-1.2zM336.2 93.2h1.2v2.2h-1.2zM337.2 93.3h1.2v2.2h-1.2zM338.2 93.5h1.2v2.2h-1.2zM339.2 93.6h1.2v2.2h-1.2zM340.2 93.7h1.2v2.2h-1.2zM341.2 93.9h1.2v2.2h-1.2zM289.4 113.8h1.2v2.2h-1.2zM290.4 113.9h1.2v2.2h-1.2zM291.4 114.1h1.2v2.2h-1.2zM292.4 114.2h1.2v2.2h-1.2zM293.4 114.3h1.2v2.2h-1.2zM294.4 114.5h1.2v2.2h-1.2zM295.4 114.6h1.2v2.2h-1.2zM296.4 114.7h1.2v2.2h-1.2zM214.3 57.9h1.2v2.2h-1.2zM215.3 58.1h1.2v2.2h-1.2zM216.3 58.3h1.2v2.2h-1.2zM217.3 58.4h1.2v2.2h-1.2zM218.3 58.6h1.2v2.2h-1.2zM222.2 58.6h1.2v2h-1.2zM223.2 58.8h1.2v2h-1.2zM224.2 59h1.2v2h-1.2zM225.2 59.2h1.2v2h-1.2zM226.2 59.4h1.2v2h-1.2zM227.2 59.6h1.2v2h-1.2zM228.2 59.7h1.2v2h-1.2zM229.2 59.9h1.2v2h-1.2zM323.6 36.3h1.2v2.3h-1.2zM324.6 36.4h1.2v2.3h-1.2zM325.6 36.5h1.2v2.3h-1.2zM326.6 36.7h1.2v2.3h-1.2zM331 36.6h1.2v2.4h-1.2zM332 36.7h1.2v2.4h-1.2zM333 36.9h1.2v2.4h-1.2zM334 37h1.2v2.4h-1.2zM327.6 31.6h1.2v2.2h-1.2zM328.6 31.7h1.2v2.2h-1.2zM329.6 31.9h1.2v2.2h-1.2zM330.6 32h1.2v2.2h-1.2zM338 32h1.2v2.3h-1.2zM339 32.1h1.2v2.3h-1.2zM340 32.2h1.2v2.3h-1.2zM341 32.4h1.2v2.3h-1.2zM342 32.5h1.2v2.3h-1.2zM203.5 54.8h1.2v2.3h-1.2zM204.5 54.9h1.2v2.3h-1.2zM205.5 55.1h1.2v2.3h-1.2zM206.5 55.2h1.2v2.3h-1.2zM207.5 55.3h1.2v2.3h-1.2zM221.2 72.1h1.2v2h-1.2zM222.2 72.3h1.2v2h-1.2zM223.2 72.6h1.2v2h-1.2zM224.2 72.8h1.2v2h-1.2zM225.2 73.1h1.2v2h-1.2zM226.2 73.3h1.2v2h-1.2zM227.2 73.6h1.2v2h-1.2zM228.2 73.8h1.2v2h-1.2zM321.3 102.3h1.2v2.2h-1.2zM322.3 102.6h1.2v2.2h-1.2zM323.3 102.8h1.2v2.2h-1.2zM324.3 103h1.2v2.2h-1.2zM325.3 103.3h1.2v2.2h-1.2zM332.3 104.9h1.2v2.3h-1.2zM333.3 105.1h1.2v2.3h-1.2zM334.3 105.3h1.2v2.3h-1.2zM335.3 105.6h1.2v2.3h-1.2zM336.3 105.8h1.2v2.3h-1.2zM337.3 106h1.2v2.3h-1.2zM338.3 106.3h1.2v2.3h-1.2zM214.9 93.3h1.2v2.3h-1.2zM215.9 93.5h1.2v2.3h-1.2zM216.9 93.8h1.2v2.3h-1.2zM217.9 94h1.2v2.3h-1.2zM316 97.1h1.2v2.1h-1.2zM317 97.2h1.2v2.1h-1.2zM318 97.4h1.2v2.1h-1.2zM319 97.6h1.2v2.1h-1.2zM320 97.8h1.2v2.1h-1.2zM321 98h1.2v2.1h-1.2zM223.9 64.7h1.2v1.8h-1.2zM224.9 64.9h1.2v1.8h-1.2zM225.9 65h1.2v1.8h-1.2zM226.9 65.2h1.2v1.8h-1.2zM227.9 65.3h1.2v1.8h-1.2zM228.9 65.5h1.2v1.8h-1.2zM316.3 74h1.2v2h-1.2zM317.3 74.2h1.2v2h-1.2zM318.3 74.4h1.2v2h-1.2zM319.3 74.6h1.2v2h-1.2zM320.3 74.7h1.2v2h-1.2zM323.7 75h1.2v1.8h-1.2zM324.7 75.2h1.2v1.8h-1.2zM325.7 75.4h1.2v1.8h-1.2zM326.7 75.6h1.2v1.8h-1.2zM327.7 75.7h1.2v1.8h-1.2zM328.7 75.9h1.2v1.8h-1.2zM329.7 76.1h1.2v1.8h-1.2zM260.9 29.3h1.2v2.4h-1.2zM261.9 29.5h1.2v2.4h-1.2zM262.9 29.8h1.2v2.4h-1.2zM263.9 30h1.2v2.4h-1.2zM269.4 31.4h1.2v2.4h-1.2zM270.4 31.7h1.2v2.4h-1.2zM271.4 31.9h1.2v2.4h-1.2zM272.4 32.2h1.2v2.4h-1.2zM273.4 32.4h1.2v2.4h-1.2zM274.4 32.7h1.2v2.4h-1.2zM275.4 32.9h1.2v2.4h-1.2zM207.3 122.2h1.2v2.3h-1.2zM208.3 122.4h1.2v2.3h-1.2zM209.3 122.6h1.2v2.3h-1.2zM210.3 122.8h1.2v2.3h-1.2zM211.3 123h1.2v2.3h-1.2zM212.3 123.2h1.2v2.3h-1.2zM213.3 123.4h1.2v2.3h-1.2zM330.1 32.6h1.2v1.9h-1.2zM331.1 32.8h1.2v1.9h-1.2zM332.1 33.1h1.2v1.9h-1.2zM333.1 33.3h1.2v1.9h-1.2zM334.1 33.5h1.2v1.9h-1.2zM335.1 33.7h1.2v1.9h-1.2zM340.8 35.3h1.2v1.9h-1.2zM341.8 35.5h1.2v1.9h-1.2zM342.8 35.7h1.2v1.9h-1.2zM343.8 36h1.2v1.9h-1.2zM344.8 36.2h1.2v1.9h-1.2zM314 51.5h1.2v2.2h-1.2zM315 51.7h1.2v2.2h-1.2zM316 51.8h1.2v2.2h-1.2zM317 51.9h1.2v2.2h-1.2zM318 52h1.2v2.2h-1.2zM319 52.2h1.2v2.2h-1.2zM320 52.3h1.2v2.2h-1.2zM321 52.4h1.2v2.2h-1.2zM334.7 37.2h1.2v2.1h-1.2zM335.7 37.4h1.2v2.1h-1.2zM336.7 37.6h1.2v2.1h-1.2zM337.7 37.8h1.2v2.1h-1.2zM338.7 38h1.2v2.1h-1.2zM339.7 38.3h1.2v2.1h-1.2zM340.7 38.5h1.2v2.1h-1.2zM341.7 38.7h1.2v2.1h-1.2zM332 29.2h1.2v2h-1.2zM333 29.3h1.2v2h-1.2zM334 29.5h1.2v2h-1.2zM335 29.6h1.2v2h-1.2zM336 29.8h1.2v2h-1.2zM337 29.9h1.2v2h-1.2zM338 30.1h1.2v2h-1.2zM339 30.2h1.2v2h-1.2zM209.8 102.8h1.2v2h-1.2zM210.8 103h1.2v2h-1.2zM211.8 103.2h1.2v2h-1.2zM212.8 103.4h1.2v2h-1.2zM213.8 103.6h1.2v2h-1.2zM214.8 103.8h1.2v2h-1.2zM247.7 26.5h1.2v2.3h-1.2zM248.7 26.7h1.2v2.3h-1.2zM249.7 26.9h1.2v2.3h-1.2zM250.7 27.1h1.2v2.3h-1.2zM190.1 94.1h1.2v2.3h-1.2zM191.1 94.2h1.2v2.3h-1.2zM192.1 94.3h1.2v2.3h-1.2zM193.1 94.5h1.2v2.3h-1.2zM194.1 94.6h1.2v2.3h-1.2zM195.1 94.7h1.2v2.3h-1.2zM196.1 94.8h1.2v2.3h-1.2zM197.1 95h1.2v2.3h-1.2zM314.3 93.7h1.2v2.1h-1.2zM315.3 93.9h1.2v2.1h-1.2zM316.3 94.2h1.2v2.1h-1.2zM317.3 94.4h1.2v2.1h-1.2zM318.3 94.7h1.2v2.1h-1.2zM319.3 94.9h1.2v2.1h-1.2zM324.7 96.9h1.2v1.8h-1.2zM325.7 97.1h1.2v1.8h-1.2zM326.7 97.4h1.2v1.8h-1.2zM327.7 97.6h1.2v1.8h-1.2zM328.7 97.9h1.2v1.8h-1.2zM329.7 98.1h1.2v1.8h-1.2zM330.7 98.4h1.2v1.8h-1.2zM236.2 60h1.2v2.4h-1.2zM237.2 60.2h1.2v2.4h-1.2zM238.2 60.3h1.2v2.4h-1.2zM239.2 60.5h1.2v2.4h-1.2zM240.2 60.7h1.2v2.4h-1.2zM241.2 60.8h1.2v2.4h-1.2zM242.2 61h1.2v2.4h-1.2zM317.9 67.8h1.2v2.1h-1.2zM318.9 67.9h1.2v2.1h-1.2zM319.9 68.1h1.2v2.1h-1.2zM320.9 68.3h1.2v2.1h-1.2zM321.9 68.5h1.2v2.1h-1.2zM322.9 68.6h1.2v2.1h-1.2zM323.9 68.8h1.2v2.1h-1.2zM324.9 69h1.2v2.1h-1.2zM329.3 69.6h1.2v2.3h-1.2zM330.3 69.7h1.2v2.3h-1.2zM331.3 69.9h1.2v2.3h-1.2zM332.3 70.1h1.2v2.3h-1.2zM216.6 43.6h1.2v2h-1.2zM217.6 43.7h1.2v2h-1.2zM218.6 43.9h1.2v2h-1.2zM219.6 44h1.2v2h-1.2zM220.6 44.2h1.2v2h-1.2zM226.6 45h1.2v2.5h-1.2zM227.6 45.2h1.2v2.5h-1.2zM228.6 45.3h1.2v2.5h-1.2zM229.6 45.5h1.2v2.5h-1.2zM230.6 45.6h1.2v2.5h-1.2zM231.6 45.8h1.2v2.5h-1.2zM232.6 45.9h1.2v2.5h-1.2zM233.6 46h1.2v2.5h-1.2zM286.2 58.8h1.2v2.2h-1.2zM287.2 58.9h1.2v2.2h-1.2zM288.2 59.1h1.2v2.2h-1.2zM289.2 59.3h1.2v2.2h-1.2zM290.2 59.4h1.2v2.2h-1.2zM291.2 59.6h1.2v2.2h-1.2zM292.2 59.7h1.2v2.2h-1.2zM293.2 59.9h1.2v2.2h-1.2zM215.2 20.1h1.2v1.9h-1.2zM216.2 20.3h1.2v1.9h-1.2zM217.2 20.6h1.2v1.9h-1.2zM218.2 20.8h1.2v1.9h-1.2zM219.2 21.1h1.2v1.9h-1.2zM260.9 58.2h1.2v2.2h-1.2zM261.9 58.4h1.2v2.2h-1.2zM262.9 58.5h1.2v2.2h-1.2zM263.9 58.7h1.2v2.2h-1.2zM264.9 58.9h1.2v2.2h-1.2zM265.9 59.1h1.2v2.2h-1.2zM266.9 59.2h1.2v2.2h-1.2zM267.9 59.4h1.2v2.2h-1.2zM213.8 25.6h1.2v2h-1.2zM214.8 25.9h1.2v2h-1.2zM215.8 26.1h1.2v2h-1.2zM216.8 26.3h1.2v2h-1.2zM231.7 28.1h1.2v2.1h-1.2zM232.7 28.4h1.2v2.1h-1.2zM233.7 28.6h1.2v2.1h-1.2zM234.7 28.8h1.2v2.1h-1.2zM235.7 29h1.2v2.1h-1.2zM236.7 29.2h1.2v2.1h-1.2zM237.7 29.4h1.2v2.1h-1.2zM246.3 90.6h1.2v2.3h-1.2zM247.3 90.8h1.2v2.3h-1.2zM248.3 91h1.2v2.3h-1.2zM249.3 91.3h1.2v2.3h-1.2zM250.3 91.5h1.2v2.3h-1.2zM251.3 91.7h1.2v2.3h-1.2zM252.3 92h1.2v2.3h-1.2zM253.3 92.2h1.2v2.3h-1.2zM256.6 93.6h1.2v2h-1.2zM257.6 93.8h1.2v2h-1.2zM258.6 94h1.2v2h-1.2zM259.6 94.3h1.2v2h-1.2zM260.6 94.5h1.2v2h-1.2zM185.8 74h1.2v2.3h-1.2zM186.8 74.1h1.2v2.3h-1.2zM187.8 74.3h1.2v2.3h-1.2zM188.8 74.5h1.2v2.3h-1.2zM189.8 74.6h1.2v2.3h-1.2zM190.8 74.8h1.2v2.3h-1.2zM249.1 102.8h1.2v1.8h-1.2zM250.1 103h1.2v1.8h-1.2zM251.1 103.3h1.2v1.8h-1.2zM252.1 103.5h1.2v1.8h-1.2zM253.1 103.8h1.2v1.8h-1.2zM254.1 104.1h1.2v1.8h-1.2zM199.5 64.1h1.2v2.5h-1.2zM200.5 64.3h1.2v2.5h-1.2zM201.5 64.4h1.2v2.5h-1.2zM202.5 64.6h1.2v2.5h-1.2zM203.5 64.7h1.2v2.5h-1.2zM309.3 41.3h1.2v1.9h-1.2zM310.3 41.4h1.2v1.9h-1.2zM311.3 41.6h1.2v1.9h-1.2zM312.3 41.7h1.2v1.9h-1.2zM313.3 41.9h1.2v1.9h-1.2zM314.3 42h1.2v1.9h-1.2zM315.3 42.2h1.2v1.9h-1.2zM255.9 49.5h1.2v1.9h-1.2zM256.9 49.6h1.2v1.9h-1.2zM257.9 49.7h1.2v1.9h-1.2zM258.9 49.8h1.2v1.9h-1.2zM259.9 50h1.2v1.9h-1.2zM260.9 50.1h1.2v1.9h-1.2zM261.9 50.2h1.2v1.9h-1.2zM262.9 50.3h1.2v1.9h-1.2zM289.4 53.3h1.2v2.2h-1.2zM290.4 53.4h1.2v2.2h-1.2zM291.4 53.5h1.2v2.2h-1.2zM292.4 53.7h1.2v2.2h-1.2zM302.8 38.2h1.2v2h-1.2zM303.8 38.3h1.2v2h-1.2zM304.8 38.5h1.2v2h-1.2zM305.8 38.6h1.2v2h-1.2zM306.8 38.8h1.2v2h-1.2zM307.8 38.9h1.2v2h-1.2zM308.8 39h1.2v2h-1.2zM181.8 49.8h1.2v1.9h-1.2zM182.8 50h1.2v1.9h-1.2zM270 66.1h1.2v1.9h-1.2zM271 66.3h1.2v1.9h-1.2zM272 66.5h1.2v1.9h-1.2zM273 66.7h1.2v1.9h-1.2zM274 67h1.2v1.9h-1.2zM275 67.2h1.2v1.9h-1.2zM296 28.4h1.2v2h-1.2zM297 28.6h1.2v2h-1.2zM298 28.7h1.2v2h-1.2zM299 28.9h1.2v2h-1.2zM300 29h1.2v2h-1.2zM301 29.1h1.2v2h-1.2zM302 29.3h1.2v2h-1.2zM303 29.4h1.2v2h-1.2zM219.6 20.8h1.2v2.4h-1.2zM220.6 21h1.2v2.4h-1.2zM221.6 21.3h1.2v2.4h-1.2zM222.6 21.5h1.2v2.4h-1.2zM223.6 21.7h1.2v2.4h-1.2zM224.6 22h1.2v2.4h-1.2zM225.6 22.2h1.2v2.4h-1.2zM226.6 22.4h1.2v2.4h-1.2zM253.7 121.9h1.2v2h-1.2zM254.7 122.1h1.2v2h-1.2zM255.7 122.3h1.2v2h-1.2zM256.7 122.5h1.2v2h-1.2zM257.7 122.7h1.2v2h-1.2zM258.7 122.9h1.2v2h-1.2zM259.7 123.1h1.2v2h-1.2zM260.7 123.3h1.2v2h-1.2zM197.3 57.2h1.2v2.4h-1.2zM198.3 57.4h1.2v2.4h-1.2zM199.3 57.7h1.2v2.4h-1.2zM200.3 57.9h1.2v2.4h-1.2zM201.3 58.1h1.2v2.4h-1.2zM202.3 58.3h1.2v2.4h-1.2zM203.3 58.6h1.2v2.4h-1.2zM204.3 58.8h1.2v2.4h-1.2zM210.9 59.8h1.2v1.9h-1.2zM211.9 60.1h1.2v1.9h-1.2zM212.9 60.3h1.2v1.9h-1.2zM213.9 60.5h1.2v1.9h-1.2zM214.9 60.7h1.2v1.9h-1.2zM215.9 61h1.2v1.9h-1.2zM337.1 102.4h1.4v1.4h-1.4zM197.3 70.6h1v1h-1zM228.5 83.3h1.1v1.1h-1.1zM293.5 93.4h1.6v1.6h-1.6zM339.6 34.7h1.4v1.4h-1.4zM308 32.4h1.5v1.5h-1.5zM184.9 69.3h1.2v1.2h-1.2zM272.8 121.9h0.9v0.9h-0.9zM309.1 64.6h1.7v1.7h-1.7zM281.3 46.7h1.7v1.7h-1.7zM251 39.8h1.4v1.4h-1.4zM188.2 120h1.1v1.1h-1.1zM244.6 30.2h1.1v1.1h-1.1zM317.8 128h1v1h-1zM299.7 58.4h1v1h-1zM215 84.9h1.8v1.8h-1.8zM288.9 32.7h1.1v1.1h-1.1zM251.6 89.9h1.4v1.4h-1.4zM333.1 33.4h1.8v1.8h-1.8zM267.7 37h1.3v1.3h-1.3zM275.9 101.9h1v1h-1zM284 127.2h1.1v1.1h-1.1zM203.4 71.4h1.1v1.1h-1.1zM209.6 64.6h1.8v1.8h-1.8zM314.4 28.4h1.3v1.3h-1.3zM289 30.5h1.4v1.4h-1.4zM344.4 69.8h1.5v1.5h-1.5zM231.6 75.2h1.6v1.6h-1.6zM342.5 84.6h1.5v1.5h-1.5zM217.7 41.4h1.4v1.4h-1.4zM258.8 26.2h1.3v1.3h-1.3zM285.5 35.1h1.6v1.6h-1.6zM250.3 35.5h1.2v1.2h-1.2zM190.2 89.7h1.8v1.8h-1.8zM222.4 39.1h1.2v1.2h-1.2zM195.1 53.4h1.6v1.6h-1.6zM215.4 117.3h1.6v1.6h-1.6zM285.1 52.7h1.7v1.7h-1.7zM252.5 77.4h1.5v1.5h-1.5zM328 107.8h1.3v1.3h-1.3zM261.7 131.2h0.9v0.9h-0.9zM242.7 51.4h1.6v1.6h-1.6zM283 120.5h1v1h-1zM318.1 120.6h1.5v1.5h-1.5zM210.7 27.6h1.1v1.1h-1.1zM297.4 121.5h1.2v1.2h-1.2zM304.4 121.3h1v1h-1zM300.2 36.3h1.1v1.1h-1.1zM182.4 33.8h1.7v1.7h-1.7zM257 62.9h1v1h-1zM314.5 80.8h1.5v1.5h-1.5zM339 109.4h1.4v1.4h-1.4zM225.9 29.5h1.1v1.1h-1.1zM333 94h1.4v1.4h-1.4zM239.5 80h1.3v1.3h-1.3zM296.2 127.5h1.2v1.2h-1.2z"/><path fill="#8e8e8a" d="M266.9 59.7h1.2v0.8h-1.2zM272.1 60.7h1.2v0.8h-1.2zM275.1 61.1h1.2v0.8h-1.2zM276.1 61.3h1.2v0.8h-1.2zM278.1 61.6h1.2v0.8h-1.2zM336.4 19.3h1.2v0.8h-1.2zM338.4 19.8h1.2v0.8h-1.2zM268.5 85.7h1.2v0.8h-1.2zM288.4 89.7h1.2v0.8h-1.2zM299.9 90.8h1.2v0.8h-1.2zM310.1 93.3h1.2v0.8h-1.2zM180.4 133.3h1.2v0.8h-1.2zM307.1 96.6h1.2v0.8h-1.2zM309.1 96.9h1.2v0.8h-1.2zM336.8 133h1.2v0.8h-1.2zM337.8 133.1h1.2v0.8h-1.2zM332.6 93.8h1.2v0.8h-1.2zM334.6 94.1h1.2v0.8h-1.2zM335.6 94.3h1.2v0.8h-1.2zM331.1 82.5h1.2v0.8h-1.2zM341.2 84.2h1.2v0.8h-1.2zM344.2 84.6h1.2v0.8h-1.2zM289.9 71.9h1.2v0.8h-1.2zM293.9 72.4h1.2v0.8h-1.2zM304.1 73.8h1.2v0.8h-1.2zM313.3 74.7h1.2v0.8h-1.2zM314.3 74.8h1.2v0.8h-1.2zM317.3 75.2h1.2v0.8h-1.2zM327.5 92h1.2v0.8h-1.2zM334.6 92.2h1.2v0.8h-1.2zM335.6 92.3h1.2v0.8h-1.2zM254.7 100.4h1.2v0.8h-1.2zM321.2 117.7h1.2v0.8h-1.2zM323.2 117.9h1.2v0.8h-1.2zM217.7 57.7h1.2v0.8h-1.2zM222.6 57.9h1.2v0.8h-1.2zM227.6 58.8h1.2v0.8h-1.2zM234.4 60.2h1.2v0.8h-1.2zM242.1 61.6h1.2v0.8h-1.2zM243.1 61.8h1.2v0.8h-1.2zM251.8 64.3h1.2v0.8h-1.2zM252.8 64.5h1.2v0.8h-1.2zM255.8 65h1.2v0.8h-1.2zM287.7 87h1.2v0.8h-1.2zM289.7 87.4h1.2v0.8h-1.2zM300.4 88.7h1.2v0.8h-1.2zM309.7 90.9h1.2v0.8h-1.2zM341.2 37.4h1.2v0.8h-1.2zM252 64.7h1.2v0.8h-1.2zM253 64.9h1.2v0.8h-1.2zM255 65.2h1.2v0.8h-1.2zM263.8 67h1.2v0.8h-1.2zM272 67.9h1.2v0.8h-1.2zM236 131.5h1.2v0.8h-1.2zM269 78.9h1.2v0.8h-1.2zM337.4 31.1h1.2v0.8h-1.2zM190.6 53.2h1.2v0.8h-1.2zM196.7 52.9h1.2v0.8h-1.2zM198.7 53.2h1.2v0.8h-1.2zM202.9 53.9h1.2v0.8h-1.2zM206.9 54.4h1.2v0.8h-1.2zM221.6 71.4h1.2v0.8h-1.2zM226.6 72.7h1.2v0.8h-1.2zM227.6 72.9h1.2v0.8h-1.2zM233.6 75.5h1.2v0.8h-1.2zM235.6 76h1.2v0.8h-1.2zM243.1 77.8h1.2v0.8h-1.2zM251.9 79.9h1.2v0.8h-1.2zM256.9 81.1h1.2v0.8h-1.2zM335.7 104.9h1.2v0.8h-1.2zM212.5 128.2h1.2v0.8h-1.2zM213.5 128.4h1.2v0.8h-1.2zM219.4 62.7h1.2v0.8h-1.2zM227.3 64.4h1.2v0.8h-1.2zM318.7 73.7h1.2v0.8h-1.2zM326.1 74.7h1.2v0.8h-1.2zM271.8 31.3h1.2v0.8h-1.2zM197.3 120.2h1.2v0.8h-1.2zM212.7 122.5h1.2v0.8h-1.2zM332.5 32.4h1.2v0.8h-1.2zM309 50.9h1.2v0.8h-1.2zM317.4 51.1h1.2v0.8h-1.2zM318.4 51.3h1.2v0.8h-1.2zM320.4 51.5h1.2v0.8h-1.2zM320.2 33.2h1.2v0.8h-1.2zM324.2 34h1.2v0.8h-1.2zM325.2 34.3h1.2v0.8h-1.2zM336.1 36.7h1.2v0.8h-1.2zM337.1 36.9h1.2v0.8h-1.2zM335.4 28.9h1.2v0.8h-1.2zM337.4 29.2h1.2v0.8h-1.2zM322.5 66.7h1.2v0.8h-1.2zM338 71h1.2v0.8h-1.2zM196.7 80.1h1.2v0.8h-1.2zM209.1 82.2h1.2v0.8h-1.2zM275.4 23h1.2v0.8h-1.2zM286.5 24.3h1.2v0.8h-1.2zM299.3 36.9h1.2v0.8h-1.2zM304.3 37.7h1.2v0.8h-1.2zM210.2 102.1h1.2v0.8h-1.2zM211.2 102.3h1.2v0.8h-1.2zM232.7 105.7h1.2v0.8h-1.2zM237.8 23.7h1.2v0.8h-1.2zM247.1 25.6h1.2v0.8h-1.2zM258.6 28.7h1.2v0.8h-1.2zM229 56.7h1.2v0.8h-1.2zM230 56.8h1.2v0.8h-1.2zM237.2 56.9h1.2v0.8h-1.2zM189.5 93.2h1.2v0.8h-1.2zM305.7 90.9h1.2v0.8h-1.2zM327.1 96.7h1.2v0.8h-1.2zM329.1 97.2h1.2v0.8h-1.2zM330.1 97.5h1.2v0.8h-1.2zM239.6 59.8h1.2v0.8h-1.2zM248.2 60.8h1.2v0.8h-1.2zM272.9 65.6h1.2v0.8h-1.2zM279.9 66.5h1.2v0.8h-1.2zM253 130.5h1.2v0.8h-1.2zM256 131.1h1.2v0.8h-1.2zM187.5 70.9h1.2v0.8h-1.2zM310.6 65.3h1.2v0.8h-1.2zM321.3 67.6h1.2v0.8h-1.2zM328.7 68.7h1.2v0.8h-1.2zM321.9 103.4h1.2v0.8h-1.2zM212.4 82.7h1.2v0.8h-1.2zM205.5 42.3h1.2v0.8h-1.2zM216 42.7h1.2v0.8h-1.2zM217 42.8h1.2v0.8h-1.2zM219 43.1h1.2v0.8h-1.2zM230 44.7h1.2v0.8h-1.2zM231 44.9h1.2v0.8h-1.2zM239.2 45.9h1.2v0.8h-1.2zM201 107.4h1.2v0.8h-1.2zM238.9 117.1h1.2v0.8h-1.2zM263.2 55h1.2v0.8h-1.2zM266.2 55.5h1.2v0.8h-1.2zM285.6 57.9h1.2v0.8h-1.2zM286.6 58h1.2v0.8h-1.2zM289.6 58.5h1.2v0.8h-1.2zM290.6 58.7h1.2v0.8h-1.2zM304 61.5h1.2v0.8h-1.2zM275.7 115.9h1.2v0.8h-1.2zM294.1 120.5h1.2v0.8h-1.2zM295.1 120.7h1.2v0.8h-1.2zM296.1 121h1.2v0.8h-1.2zM214.6 19.2h1.2v0.8h-1.2zM218.6 20.2h1.2v0.8h-1.2zM239.3 54.2h1.2v0.8h-1.2zM241.3 54.5h1.2v0.8h-1.2zM250.8 55.2h1.2v0.8h-1.2zM261.3 57.5h1.2v0.8h-1.2zM266.3 58.3h1.2v0.8h-1.2zM284.4 56.4h1.2v0.8h-1.2zM293.6 58.1h1.2v0.8h-1.2zM308.7 60.6h1.2v0.8h-1.2zM318.9 63.3h1.2v0.8h-1.2zM208 23.6h1.2v0.8h-1.2zM226 27.3h1.2v0.8h-1.2zM231.1 27.2h1.2v0.8h-1.2zM232.1 27.5h1.2v0.8h-1.2zM235.1 28.1h1.2v0.8h-1.2zM310.7 56.6h1.2v0.8h-1.2zM313.7 57.4h1.2v0.8h-1.2zM248.7 90.4h1.2v0.8h-1.2zM249.7 90.6h1.2v0.8h-1.2zM260 93.6h1.2v0.8h-1.2zM265.1 94.1h1.2v0.8h-1.2zM325.4 129.3h1.2v0.8h-1.2zM215.6 109.5h1.2v0.8h-1.2zM228.8 112h1.2v0.8h-1.2zM236 112.2h1.2v0.8h-1.2zM186.2 73.2h1.2v0.8h-1.2zM189.2 73.7h1.2v0.8h-1.2zM190.2 73.9h1.2v0.8h-1.2zM316.7 77.1h1.2v0.8h-1.2zM317.7 77.4h1.2v0.8h-1.2zM325.7 79.7h1.2v0.8h-1.2zM327.7 80.2h1.2v0.8h-1.2zM329.7 80.7h1.2v0.8h-1.2zM239.8 99.5h1.2v0.8h-1.2zM211.4 65h1.2v0.8h-1.2zM224.7 67.8h1.2v0.8h-1.2zM231.3 68.3h1.2v0.8h-1.2zM232.3 68.4h1.2v0.8h-1.2zM343.1 132.5h1.2v0.8h-1.2zM345.1 132.9h1.2v0.8h-1.2zM218.1 39.6h1.2v0.8h-1.2zM219.1 39.8h1.2v0.8h-1.2zM232.9 42.2h1.2v0.8h-1.2zM237.8 21.3h1.2v0.8h-1.2zM210.8 24.9h1.2v0.8h-1.2zM211.8 25.1h1.2v0.8h-1.2zM219.5 26.9h1.2v0.8h-1.2zM226.9 27.8h1.2v0.8h-1.2zM241.3 30.2h1.2v0.8h-1.2zM242.3 30.4h1.2v0.8h-1.2zM248.4 32.7h1.2v0.8h-1.2zM249.4 32.9h1.2v0.8h-1.2zM271.1 34.4h1.2v0.8h-1.2zM273.1 34.7h1.2v0.8h-1.2zM286.7 36.4h1.2v0.8h-1.2zM290.7 37h1.2v0.8h-1.2zM298.7 37.7h1.2v0.8h-1.2zM301.7 38.2h1.2v0.8h-1.2zM308.7 40.4h1.2v0.8h-1.2zM339.7 93.9h1.2v0.8h-1.2zM341.7 94.2h1.2v0.8h-1.2zM342.7 94.4h1.2v0.8h-1.2zM343.7 94.5h1.2v0.8h-1.2zM255.3 48.6h1.2v0.8h-1.2zM256.3 48.7h1.2v0.8h-1.2zM259.3 49.1h1.2v0.8h-1.2zM261.3 49.3h1.2v0.8h-1.2zM266.5 50.4h1.2v0.8h-1.2zM278.6 51.3h1.2v0.8h-1.2zM288.8 52.4h1.2v0.8h-1.2zM289.8 52.5h1.2v0.8h-1.2zM291.8 52.8h1.2v0.8h-1.2zM305.2 37.7h1.2v0.8h-1.2zM313 38h1.2v0.8h-1.2zM317 38.5h1.2v0.8h-1.2zM319 38.8h1.2v0.8h-1.2zM323.2 39.8h1.2v0.8h-1.2zM326.2 40.2h1.2v0.8h-1.2zM327.2 40.4h1.2v0.8h-1.2zM186.3 50.7h1.2v0.8h-1.2zM190.3 51.7h1.2v0.8h-1.2zM205.7 55.5h1.2v0.8h-1.2zM193.5 21.8h1.2v0.8h-1.2zM195.5 22.1h1.2v0.8h-1.2zM197.5 22.3h1.2v0.8h-1.2zM204.5 24.2h1.2v0.8h-1.2zM264 64.5h1.2v0.8h-1.2zM265 64.8h1.2v0.8h-1.2zM286.7 25.2h1.2v0.8h-1.2zM313.7 30.2h1.2v0.8h-1.2zM253.1 121h1.2v0.8h-1.2zM258.1 122h1.2v0.8h-1.2zM225.5 44.6h1.2v0.8h-1.2zM196.7 56.3h1.2v0.8h-1.2zM214.3 59.8h1.2v0.8h-1.2zM220.8 61.4h1.2v0.8h-1.2z"/><path fill="#424240" d="M278.1 88.6h1.2v2.2h-1.2zM279.1 88.7h1.2v2.2h-1.2zM280.1 88.9h1.2v2.2h-1.2zM281.1 89.1h1.2v2.2h-1.2zM282.1 89.2h1.2v2.2h-1.2zM307.7 97.5h1.2v2.2h-1.2zM308.7 97.6h1.2v2.2h-1.2zM309.7 97.8h1.2v2.2h-1.2zM310.7 97.9h1.2v2.2h-1.2zM311.7 98h1.2v2.2h-1.2zM312.7 98.1h1.2v2.2h-1.2zM313.7 98.3h1.2v2.2h-1.2zM314.7 98.4h1.2v2.2h-1.2zM327.5 132.8h1.2v2.2h-1.2zM328.5 133h1.2v2.2h-1.2zM329.5 133.1h1.2v2.2h-1.2zM330.5 133.2h1.2v2.2h-1.2zM331.5 133.4h1.2v2.2h-1.2zM339.8 84.8h1.2v1.9h-1.2zM340.8 85h1.2v1.9h-1.2zM341.8 85.1h1.2v1.9h-1.2zM342.8 85.2h1.2v1.9h-1.2zM343.8 85.3h1.2v1.9h-1.2zM344.8 85.5h1.2v1.9h-1.2zM237.4 99.1h1.2v1.8h-1.2zM238.4 99.2h1.2v1.8h-1.2zM239.4 99.4h1.2v1.8h-1.2zM240.4 99.5h1.2v1.8h-1.2zM241.4 99.6h1.2v1.8h-1.2zM242.4 99.8h1.2v1.8h-1.2zM243.4 99.9h1.2v1.8h-1.2zM250.3 100.5h1.2v2.1h-1.2zM251.3 100.7h1.2v2.1h-1.2zM252.3 100.8h1.2v2.1h-1.2zM253.3 101h1.2v2.1h-1.2zM254.3 101.1h1.2v2.1h-1.2zM255.3 101.3h1.2v2.1h-1.2zM256.3 101.4h1.2v2.1h-1.2zM332 132.8h1.2v2.3h-1.2zM333 133h1.2v2.3h-1.2zM334 133.3h1.2v2.3h-1.2zM335 133.5h1.2v2.3h-1.2zM336 133.8h1.2v2.3h-1.2zM311.8 117.5h1.2v2.2h-1.2zM312.8 117.6h1.2v2.2h-1.2zM313.8 117.7h1.2v2.2h-1.2zM314.8 117.9h1.2v2.2h-1.2zM315.8 118h1.2v2.2h-1.2zM319.8 118.3h1.2v2h-1.2zM320.8 118.4h1.2v2h-1.2zM321.8 118.6h1.2v2h-1.2zM322.8 118.7h1.2v2h-1.2zM323.8 118.8h1.2v2h-1.2zM324.8 119h1.2v2h-1.2zM325.8 119.1h1.2v2h-1.2zM326.8 119.2h1.2v2h-1.2zM242.7 62.5h1.2v2.4h-1.2zM243.7 62.7h1.2v2.4h-1.2zM244.7 62.9h1.2v2.4h-1.2zM245.7 63.1h1.2v2.4h-1.2zM246.7 63.3h1.2v2.4h-1.2zM247.7 63.5h1.2v2.4h-1.2zM248.7 63.7h1.2v2.4h-1.2zM249.7 63.9h1.2v2.4h-1.2zM252.4 65.2h1.2v1.9h-1.2zM253.4 65.4h1.2v1.9h-1.2zM254.4 65.5h1.2v1.9h-1.2zM255.4 65.7h1.2v1.9h-1.2zM256.4 65.9h1.2v1.9h-1.2zM257.4 66.1h1.2v1.9h-1.2zM286.3 87.5h1.2v2.2h-1.2zM287.3 87.7h1.2v2.2h-1.2zM288.3 87.9h1.2v2.2h-1.2zM289.3 88.1h1.2v2.2h-1.2zM290.3 88.3h1.2v2.2h-1.2zM291.3 88.5h1.2v2.2h-1.2zM297 88.7h1.2v2.4h-1.2zM298 88.9h1.2v2.4h-1.2zM299 89.2h1.2v2.4h-1.2zM300 89.4h1.2v2.4h-1.2zM301 89.6h1.2v2.4h-1.2zM302 89.8h1.2v2.4h-1.2zM303 90h1.2v2.4h-1.2zM309.3 91.5h1.2v2.3h-1.2zM310.3 91.8h1.2v2.3h-1.2zM311.3 92h1.2v2.3h-1.2zM312.3 92.2h1.2v2.3h-1.2zM313.3 92.4h1.2v2.3h-1.2zM314.3 92.6h1.2v2.3h-1.2zM315.3 92.8h1.2v2.3h-1.2zM316.3 93h1.2v2.3h-1.2zM339.8 38.1h1.2v1.8h-1.2zM340.8 38.2h1.2v1.8h-1.2zM341.8 38.3h1.2v1.8h-1.2zM342.8 38.5h1.2v1.8h-1.2zM343.8 38.6h1.2v1.8h-1.2zM251.6 65.5h1.2v2.4h-1.2zM252.6 65.6h1.2v2.4h-1.2zM253.6 65.8h1.2v2.4h-1.2zM254.6 65.9h1.2v2.4h-1.2zM255.6 66.1h1.2v2.4h-1.2zM256.6 66.2h1.2v2.4h-1.2zM271.6 68.6h1.2v2.2h-1.2zM272.6 68.8h1.2v2.2h-1.2zM273.6 68.9h1.2v2.2h-1.2zM274.6 69.1h1.2v2.2h-1.2zM279.7 69.8h1.2v2h-1.2zM280.7 70h1.2v2h-1.2zM281.7 70.1h1.2v2h-1.2zM282.7 70.3h1.2v2h-1.2zM222.8 130.7h1.2v2.3h-1.2zM223.8 130.8h1.2v2.3h-1.2zM224.8 130.9h1.2v2.3h-1.2zM225.8 131.1h1.2v2.3h-1.2zM226.8 131.2h1.2v2.3h-1.2zM267.6 79.5h1.2v2.4h-1.2zM268.6 79.7h1.2v2.4h-1.2zM269.6 79.8h1.2v2.4h-1.2zM270.6 80h1.2v2.4h-1.2zM271.6 80.1h1.2v2.4h-1.2zM272.6 80.2h1.2v2.4h-1.2zM273.6 80.4h1.2v2.4h-1.2zM181.2 51.7h1.2v2.3h-1.2zM182.2 51.8h1.2v2.3h-1.2zM183.2 51.9h1.2v2.3h-1.2zM184.2 52h1.2v2.3h-1.2zM189.2 53.8h1.2v2.3h-1.2zM190.2 54h1.2v2.3h-1.2zM191.2 54.1h1.2v2.3h-1.2zM192.2 54.2h1.2v2.3h-1.2zM193.2 54.4h1.2v2.3h-1.2zM232.2 75.9h1.2v2.3h-1.2zM233.2 76.1h1.2v2.3h-1.2zM234.2 76.4h1.2v2.3h-1.2zM235.2 76.6h1.2v2.3h-1.2zM236.2 76.9h1.2v2.3h-1.2zM237.2 77.1h1.2v2.3h-1.2zM242.7 78.4h1.2v2h-1.2zM243.7 78.7h1.2v2h-1.2zM244.7 78.9h1.2v2h-1.2zM245.7 79.2h1.2v2h-1.2zM251.5 80.5h1.2v2.2h-1.2zM252.5 80.8h1.2v2.2h-1.2zM253.5 81h1.2v2.2h-1.2zM254.5 81.3h1.2v2.2h-1.2zM255.5 81.5h1.2v2.2h-1.2zM256.5 81.8h1.2v2.2h-1.2zM257.5 82h1.2v2.2h-1.2zM258.5 82.3h1.2v2.2h-1.2zM221.8 94.1h1.2v2.2h-1.2zM222.8 94.3h1.2v2.2h-1.2zM223.8 94.6h1.2v2.2h-1.2zM224.8 94.8h1.2v2.2h-1.2zM225.8 95h1.2v2.2h-1.2zM226.8 95.3h1.2v2.2h-1.2zM227.8 95.5h1.2v2.2h-1.2zM228.8 95.8h1.2v2.2h-1.2zM210.1 128.6h1.2v1.9h-1.2zM211.1 128.7h1.2v1.9h-1.2zM212.1 128.9h1.2v1.9h-1.2zM213.1 129.1h1.2v1.9h-1.2zM214.1 129.3h1.2v1.9h-1.2zM215.1 129.4h1.2v1.9h-1.2zM216.1 129.6h1.2v1.9h-1.2zM181.1 117h1.2v1.9h-1.2zM195.9 120.8h1.2v2.2h-1.2zM196.9 120.9h1.2v2.2h-1.2zM197.9 121.1h1.2v2.2h-1.2zM198.9 121.3h1.2v2.2h-1.2zM199.9 121.5h1.2v2.2h-1.2zM200.9 121.7h1.2v2.2h-1.2zM201.9 121.9h1.2v2.2h-1.2zM319.6 29.3h1.2v2.1h-1.2zM320.6 29.5h1.2v2.1h-1.2zM321.6 29.8h1.2v2.1h-1.2zM322.6 30h1.2v2.1h-1.2zM323.6 30.2h1.2v2.1h-1.2zM324.6 30.5h1.2v2.1h-1.2zM325.6 30.7h1.2v2.1h-1.2zM326.6 30.9h1.2v2.1h-1.2zM324.9 52.9h1.2v2.1h-1.2zM325.9 53h1.2v2.1h-1.2zM326.9 53.1h1.2v2.1h-1.2zM327.9 53.3h1.2v2.1h-1.2zM333.6 123.2h1.2v1.9h-1.2zM334.6 123.4h1.2v1.9h-1.2zM335.6 123.7h1.2v1.9h-1.2zM336.6 123.9h1.2v1.9h-1.2zM337.6 124.2h1.2v1.9h-1.2zM338.6 124.4h1.2v1.9h-1.2zM339.6 124.7h1.2v1.9h-1.2zM340.6 124.9h1.2v1.9h-1.2zM320.8 34.1h1.2v2.1h-1.2zM321.8 34.3h1.2v2.1h-1.2zM322.8 34.5h1.2v2.1h-1.2zM323.8 34.7h1.2v2.1h-1.2zM324.8 34.9h1.2v2.1h-1.2zM325.8 35.2h1.2v2.1h-1.2zM326.8 35.4h1.2v2.1h-1.2zM327.8 35.6h1.2v2.1h-1.2zM315.2 27.3h1.2v2.5h-1.2zM316.2 27.5h1.2v2.5h-1.2zM317.2 27.6h1.2v2.5h-1.2zM318.2 27.8h1.2v2.5h-1.2zM319.2 27.9h1.2v2.5h-1.2zM320.2 28.1h1.2v2.5h-1.2zM342.4 30.9h1.2v2.2h-1.2zM343.4 31.1h1.2v2.2h-1.2zM344.4 31.2h1.2v2.2h-1.2zM345.4 31.4h1.2v2.2h-1.2zM187.5 79.1h1.2v2.2h-1.2zM188.5 79.2h1.2v2.2h-1.2zM189.5 79.4h1.2v2.2h-1.2zM190.5 79.5h1.2v2.2h-1.2zM197.3 81h1.2v1.9h-1.2zM198.3 81.2h1.2v1.9h-1.2zM199.3 81.3h1.2v1.9h-1.2zM200.3 81.4h1.2v1.9h-1.2zM201.3 81.6h1.2v1.9h-1.2zM202.3 81.7h1.2v1.9h-1.2zM203.3 81.8h1.2v1.9h-1.2zM204.3 82h1.2v1.9h-1.2zM273 23.5h1.2v2.3h-1.2zM274 23.6h1.2v2.3h-1.2zM275 23.7h1.2v2.3h-1.2zM276 23.9h1.2v2.3h-1.2zM277 24h1.2v2.3h-1.2zM278 24.1h1.2v2.3h-1.2zM285.1 24.9h1.2v2h-1.2zM286.1 25.1h1.2v2h-1.2zM287.1 25.2h1.2v2h-1.2zM288.1 25.3h1.2v2h-1.2zM289.1 25.5h1.2v2h-1.2zM298.9 37.7h1.2v2.1h-1.2zM299.9 37.8h1.2v2.1h-1.2zM300.9 38h1.2v2.1h-1.2zM301.9 38.2h1.2v2.1h-1.2zM302.9 38.3h1.2v2.1h-1.2zM303.9 38.5h1.2v2.1h-1.2zM304.9 38.6h1.2v2.1h-1.2zM305.9 38.8h1.2v2.1h-1.2zM238.4 24.6h1.2v2.2h-1.2zM239.4 24.8h1.2v2.2h-1.2zM240.4 25h1.2v2.2h-1.2zM241.4 25.3h1.2v2.2h-1.2zM235.8 57.5h1.2v2.2h-1.2zM236.8 57.7h1.2v2.2h-1.2zM237.8 57.8h1.2v2.2h-1.2zM238.8 57.9h1.2v2.2h-1.2zM239.8 58.1h1.2v2.2h-1.2zM240.8 58.2h1.2v2.2h-1.2zM181 92.6h1.2v2.2h-1.2zM182 92.8h1.2v2.2h-1.2zM183 92.9h1.2v2.2h-1.2zM184 93h1.2v2.2h-1.2zM222.6 134.3h1.2v2.3h-1.2zM248.8 61.7h1.2v2.4h-1.2zM249.8 61.9h1.2v2.4h-1.2zM250.8 62h1.2v2.4h-1.2zM251.8 62.2h1.2v2.4h-1.2zM252.8 62.4h1.2v2.4h-1.2zM253.8 62.6h1.2v2.4h-1.2zM258.4 63.4h1.2v2.1h-1.2zM259.4 63.5h1.2v2.1h-1.2zM260.4 63.7h1.2v2.1h-1.2zM261.4 63.9h1.2v2.1h-1.2zM262.4 64h1.2v2.1h-1.2zM263.4 64.2h1.2v2.1h-1.2zM240.9 129.2h1.2v1.8h-1.2zM241.9 129.4h1.2v1.8h-1.2zM242.9 129.6h1.2v1.8h-1.2zM243.9 129.8h1.2v1.8h-1.2zM244.9 130h1.2v1.8h-1.2zM245.9 130.2h1.2v1.8h-1.2zM246.9 130.4h1.2v1.8h-1.2zM247.9 130.5h1.2v1.8h-1.2zM296.7 64h1.2v1.8h-1.2zM297.7 64.2h1.2v1.8h-1.2zM298.7 64.4h1.2v1.8h-1.2zM299.7 64.6h1.2v1.8h-1.2zM300.7 64.7h1.2v1.8h-1.2zM319.5 103.9h1.2v2.5h-1.2zM320.5 104h1.2v2.5h-1.2zM321.5 104.2h1.2v2.5h-1.2zM322.5 104.3h1.2v2.5h-1.2zM329.1 105.2h1.2v1.9h-1.2zM330.1 105.4h1.2v1.9h-1.2zM331.1 105.5h1.2v1.9h-1.2zM332.1 105.6h1.2v1.9h-1.2zM333.1 105.8h1.2v1.9h-1.2zM334.1 105.9h1.2v1.9h-1.2zM186.4 80.1h1.2v2.1h-1.2zM187.4 80.2h1.2v2.1h-1.2zM188.4 80.3h1.2v2.1h-1.2zM189.4 80.4h1.2v2.1h-1.2zM190.4 80.6h1.2v2.1h-1.2zM199.6 107.8h1.2v2.2h-1.2zM200.6 108h1.2v2.2h-1.2zM201.6 108.3h1.2v2.2h-1.2zM202.6 108.5h1.2v2.2h-1.2zM207.3 109.5h1.2v2.1h-1.2zM208.3 109.8h1.2v2.1h-1.2zM209.3 110h1.2v2.1h-1.2zM210.3 110.3h1.2v2.1h-1.2zM211.3 110.5h1.2v2.1h-1.2zM212.3 110.8h1.2v2.1h-1.2zM213.3 111h1.2v2.1h-1.2zM261.8 55.6h1.2v2.5h-1.2zM262.8 55.7h1.2v2.5h-1.2zM263.8 55.9h1.2v2.5h-1.2zM264.8 56.1h1.2v2.5h-1.2zM265.8 56.2h1.2v2.5h-1.2zM266.8 56.4h1.2v2.5h-1.2zM224 22.4h1.2v1.8h-1.2zM225 22.7h1.2v1.8h-1.2zM226 22.9h1.2v1.8h-1.2zM227 23.2h1.2v1.8h-1.2zM229.2 52.9h1.2v2.3h-1.2zM230.2 53h1.2v2.3h-1.2zM231.2 53.2h1.2v2.3h-1.2zM232.2 53.4h1.2v2.3h-1.2zM233.2 53.5h1.2v2.3h-1.2zM250.4 55.9h1.2v1.9h-1.2zM251.4 56.1h1.2v1.9h-1.2zM252.4 56.2h1.2v1.9h-1.2zM253.4 56.4h1.2v1.9h-1.2zM254.4 56.6h1.2v1.9h-1.2zM283 56.9h1.2v2.3h-1.2zM284 57.1h1.2v2.3h-1.2zM285 57.3h1.2v2.3h-1.2zM286 57.5h1.2v2.3h-1.2zM287 57.7h1.2v2.3h-1.2zM288 57.9h1.2v2.3h-1.2zM289 58h1.2v2.3h-1.2zM300 60.6h1.2v2.3h-1.2zM301 60.8h1.2v2.3h-1.2zM302 61h1.2v2.3h-1.2zM303 61.2h1.2v2.3h-1.2zM318.5 64h1.2v2.2h-1.2zM319.5 64.2h1.2v2.2h-1.2zM320.5 64.4h1.2v2.2h-1.2zM321.5 64.5h1.2v2.2h-1.2zM195.6 21.5h1.2v2.4h-1.2zM196.6 21.7h1.2v2.4h-1.2zM197.6 21.9h1.2v2.4h-1.2zM198.6 22.1h1.2v2.4h-1.2zM199.6 22.3h1.2v2.4h-1.2zM203.6 23.5h1.2v1.8h-1.2zM204.6 23.7h1.2v1.8h-1.2zM205.6 23.9h1.2v1.8h-1.2zM206.6 24.1h1.2v1.8h-1.2zM207.6 24.3h1.2v1.8h-1.2zM208.6 24.5h1.2v1.8h-1.2zM223.6 27.6h1.2v2h-1.2zM224.6 27.8h1.2v2h-1.2zM225.6 28h1.2v2h-1.2zM226.6 28.2h1.2v2h-1.2zM227.6 28.4h1.2v2h-1.2zM228.6 28.6h1.2v2h-1.2zM308.3 56.8h1.2v1.9h-1.2zM309.3 57.1h1.2v1.9h-1.2zM310.3 57.3h1.2v1.9h-1.2zM311.3 57.5h1.2v1.9h-1.2zM312.3 57.8h1.2v1.9h-1.2zM313.3 58h1.2v1.9h-1.2zM314.3 58.3h1.2v1.9h-1.2zM315.3 58.5h1.2v1.9h-1.2zM321.3 60.1h1.2v2h-1.2zM322.3 60.4h1.2v2h-1.2zM323.3 60.6h1.2v2h-1.2zM324.3 60.9h1.2v2h-1.2zM325.3 61.1h1.2v2h-1.2zM326.3 61.3h1.2v2h-1.2zM264.7 94.8h1.2v1.9h-1.2zM265.7 95h1.2v1.9h-1.2zM266.7 95.2h1.2v1.9h-1.2zM267.7 95.5h1.2v1.9h-1.2zM268.7 95.7h1.2v1.9h-1.2zM269.7 95.9h1.2v1.9h-1.2zM311 127.2h1.2v2h-1.2zM312 127.4h1.2v2h-1.2zM313 127.5h1.2v2h-1.2zM314 127.7h1.2v2h-1.2zM315 127.8h1.2v2h-1.2zM333.3 130.3h1.2v2.1h-1.2zM334.3 130.4h1.2v2.1h-1.2zM335.3 130.5h1.2v2.1h-1.2zM336.3 130.7h1.2v2.1h-1.2zM337.3 130.8h1.2v2.1h-1.2zM338.3 131h1.2v2.1h-1.2zM339.3 131.1h1.2v2.1h-1.2zM340.3 131.2h1.2v2.1h-1.2zM238.4 99.9h1.2v1.9h-1.2zM239.4 100.1h1.2v1.9h-1.2zM240.4 100.4h1.2v1.9h-1.2zM241.4 100.6h1.2v1.9h-1.2zM242.4 100.9h1.2v1.9h-1.2zM275.6 110.2h1.2v2.4h-1.2zM276.6 110.5h1.2v2.4h-1.2zM277.6 110.8h1.2v2.4h-1.2zM278.6 111h1.2v2.4h-1.2zM279.6 111.3h1.2v2.4h-1.2zM231.9 69.2h1.2v2.5h-1.2zM232.9 69.3h1.2v2.5h-1.2zM233.9 69.5h1.2v2.5h-1.2zM234.9 69.6h1.2v2.5h-1.2zM235.9 69.8h1.2v2.5h-1.2zM236.9 69.9h1.2v2.5h-1.2zM339.7 132.4h1.2v1.8h-1.2zM340.7 132.6h1.2v1.8h-1.2zM341.7 132.9h1.2v1.8h-1.2zM342.7 133.1h1.2v1.8h-1.2zM343.7 133.4h1.2v1.8h-1.2zM344.7 133.6h1.2v1.8h-1.2zM345.7 133.8h1.2v1.8h-1.2zM217.7 40.4h1.2v2.1h-1.2zM218.7 40.5h1.2v2.1h-1.2zM219.7 40.7h1.2v2.1h-1.2zM220.7 40.8h1.2v2.1h-1.2zM221.7 40.9h1.2v2.1h-1.2zM222.7 41.1h1.2v2.1h-1.2zM223.7 41.2h1.2v2.1h-1.2zM226.7 19.9h1.2v1.8h-1.2zM227.7 20.1h1.2v1.8h-1.2zM228.7 20.3h1.2v1.8h-1.2zM229.7 20.4h1.2v1.8h-1.2zM237.4 22h1.2v2.2h-1.2zM238.4 22.2h1.2v2.2h-1.2zM239.4 22.4h1.2v2.2h-1.2zM240.4 22.5h1.2v2.2h-1.2zM241.4 22.7h1.2v2.2h-1.2zM226.5 28.5h1.2v2.4h-1.2zM227.5 28.7h1.2v2.4h-1.2zM228.5 28.9h1.2v2.4h-1.2zM229.5 29.1h1.2v2.4h-1.2zM230.5 29.3h1.2v2.4h-1.2zM231.5 29.5h1.2v2.4h-1.2zM249 33.6h1.2v2.2h-1.2zM250 33.8h1.2v2.2h-1.2zM251 34h1.2v2.2h-1.2zM252 34.2h1.2v2.2h-1.2zM253 34.3h1.2v2.2h-1.2zM254 34.5h1.2v2.2h-1.2zM278.6 36.2h1.2v1.8h-1.2zM279.6 36.3h1.2v1.8h-1.2zM280.6 36.5h1.2v1.8h-1.2zM281.6 36.6h1.2v1.8h-1.2zM232.2 91.9h1.2v2.4h-1.2zM233.2 92.1h1.2v2.4h-1.2zM234.2 92.2h1.2v2.4h-1.2zM235.2 92.4h1.2v2.4h-1.2zM236.2 92.6h1.2v2.4h-1.2zM237.2 92.8h1.2v2.4h-1.2zM238.2 92.9h1.2v2.4h-1.2zM245 93.4h1.2v2.3h-1.2zM246 93.6h1.2v2.3h-1.2zM247 93.8h1.2v2.3h-1.2zM248 93.9h1.2v2.3h-1.2zM249 94.1h1.2v2.3h-1.2zM250 94.3h1.2v2.3h-1.2zM251 94.5h1.2v2.3h-1.2zM340.3 94.8h1.2v2.4h-1.2zM341.3 95h1.2v2.4h-1.2zM342.3 95.1h1.2v2.4h-1.2zM343.3 95.3h1.2v2.4h-1.2zM344.3 95.4h1.2v2.4h-1.2zM279.2 52.2h1.2v2.4h-1.2zM280.2 52.4h1.2v2.4h-1.2zM281.2 52.5h1.2v2.4h-1.2zM282.2 52.6h1.2v2.4h-1.2zM283.2 52.7h1.2v2.4h-1.2zM284.2 52.8h1.2v2.4h-1.2zM313.6 38.9h1.2v1.9h-1.2zM314.6 39h1.2v1.9h-1.2zM315.6 39.1h1.2v1.9h-1.2zM316.6 39.3h1.2v1.9h-1.2zM317.6 39.4h1.2v1.9h-1.2zM318.6 39.6h1.2v1.9h-1.2zM319.6 39.7h1.2v1.9h-1.2zM320.6 39.8h1.2v1.9h-1.2zM186.9 51.6h1.2v2.5h-1.2zM187.9 51.9h1.2v2.5h-1.2zM188.9 52.1h1.2v2.5h-1.2zM189.9 52.3h1.2v2.5h-1.2zM190.9 52.6h1.2v2.5h-1.2zM191.9 52.8h1.2v2.5h-1.2zM192.9 53h1.2v2.5h-1.2zM212.7 57.8h1.2v1.9h-1.2zM213.7 58.1h1.2v1.9h-1.2zM214.7 58.3h1.2v1.9h-1.2zM215.7 58.5h1.2v1.9h-1.2zM216.7 58.8h1.2v1.9h-1.2zM193.1 22.6h1.2v1.8h-1.2zM194.1 22.7h1.2v1.8h-1.2zM195.1 22.8h1.2v1.8h-1.2zM196.1 23h1.2v1.8h-1.2zM197.1 23.1h1.2v1.8h-1.2zM198.1 23.2h1.2v1.8h-1.2zM199.1 23.4h1.2v1.8h-1.2zM205.1 25.1h1.2v2.1h-1.2zM206.1 25.2h1.2v2.1h-1.2zM207.1 25.4h1.2v2.1h-1.2zM208.1 25.5h1.2v2.1h-1.2zM209.1 25.6h1.2v2.1h-1.2zM284.3 25.7h1.2v2.5h-1.2zM285.3 25.8h1.2v2.5h-1.2zM286.3 26h1.2v2.5h-1.2zM287.3 26.1h1.2v2.5h-1.2zM288.3 26.2h1.2v2.5h-1.2zM289.3 26.4h1.2v2.5h-1.2zM290.3 26.5h1.2v2.5h-1.2zM291.3 26.7h1.2v2.5h-1.2zM312.3 30.8h1.2v2.2h-1.2zM313.3 30.9h1.2v2.2h-1.2zM314.3 31.1h1.2v2.2h-1.2zM315.3 31.2h1.2v2.2h-1.2zM316.3 31.3h1.2v2.2h-1.2zM231.5 46.9h1.2v1.8h-1.2zM232.5 47h1.2v1.8h-1.2zM233.5 47.2h1.2v1.8h-1.2zM234.5 47.4h1.2v1.8h-1.2zM235.5 47.5h1.2v1.8h-1.2zM186.7 117h1.6v1.6h-1.6zM316.9 127.2h1.6v1.6h-1.6zM247.6 74.5h1.6v1.6h-1.6zM269.1 110.7h1.3v1.3h-1.3zM295.6 64.1h1.4v1.4h-1.4zM331.6 127.4h1.3v1.3h-1.3zM322.8 116.2h1.3v1.3h-1.3zM308.2 38.4h0.9v0.9h-0.9zM243 56.7h1.7v1.7h-1.7zM212.8 37.9h1.8v1.8h-1.8zM327.4 87.1h1.3v1.3h-1.3zM210.5 68h1.1v1.1h-1.1zM344.1 111h0.9v0.9h-0.9zM202.9 82.6h1v1h-1zM301.8 70.6h1.3v1.3h-1.3zM268.2 117h1.2v1.2h-1.2zM185.8 68h1v1h-1zM312.4 40.2h1.5v1.5h-1.5zM260 87.5h1.4v1.4h-1.4zM328.4 24.5h0.9v0.9h-0.9zM241.3 80.8h1.7v1.7h-1.7zM321.8 126.8h1.6v1.6h-1.6zM286.4 69.4h1.5v1.5h-1.5zM181.5 35.9h1.5v1.5h-1.5zM306 99.2h1v1h-1zM329 68.5h1.2v1.2h-1.2zM240.1 119.9h1v1h-1zM213.9 76.1h1v1h-1zM294 38.9h1.1v1.1h-1.1zM200.1 56.3h1.1v1.1h-1.1zM211.4 72.3h1.1v1.1h-1.1zM182.9 47.1h1.3v1.3h-1.3zM207.9 27.3h1.2v1.2h-1.2zM190 122.2h1.1v1.1h-1.1zM181.5 115.7h1.7v1.7h-1.7zM185.1 127.5h1.7v1.7h-1.7zM230.5 57.6h1.4v1.4h-1.4zM231.8 95.6h1v1h-1zM239.5 108.3h1.7v1.7h-1.7zM181.8 88.9h1.4v1.4h-1.4zM198.1 131.4h1.3v1.3h-1.3zM239.4 87.4h1v1h-1zM296.8 29.4h1.2v1.2h-1.2zM193 20.6h1.1v1.1h-1.1zM300.6 28.7h1.6v1.6h-1.6zM246.9 125.3h1.2v1.2h-1.2zM258.4 25h1.6v1.6h-1.6zM197.1 90.6h0.9v0.9h-0.9zM342.8 89.9h1.4v1.4h-1.4zM312.5 64h1.4v1.4h-1.4zM188.9 46h1.5v1.5h-1.5zM325.6 112.6h1.7v1.7h-1.7zM314.8 131.1h1.6v1.6h-1.6zM203.5 87.9h1.2v1.2h-1.2zM272.2 100.1h1.3v1.3h-1.3zM318.2 21.4h1.7v1.7h-1.7zM303 31.7h1.7v1.7h-1.7zM181.3 100.6h1.4v1.4h-1.4zM205.2 38.1h1.3v1.3h-1.3zM223.9 31.8h1.3v1.3h-1.3zM193.6 23.8h1.7v1.7h-1.7zM326.3 130.2h1.8v1.8h-1.8zM230.5 84.3h1v1h-1zM333.5 124.1h1.4v1.4h-1.4z"/><path fill="#5a5a58" d="M303.2 130.1h1.1v1.1h-1.1zM269.2 120.6h1v1h-1zM320.4 41.4h1.8v1.8h-1.8zM196.6 32.9h1v1h-1zM221.1 21.5h1.7v1.7h-1.7zM268.7 129h1.7v1.7h-1.7zM306.9 106.1h0.9v0.9h-0.9zM263.6 64.3h0.9v0.9h-0.9zM339.7 123.2h1.7v1.7h-1.7zM192.6 19h1.4v1.4h-1.4zM230.2 64.7h1.3v1.3h-1.3zM255.2 112.4h1.3v1.3h-1.3zM325.5 121.5h1.1v1.1h-1.1zM317.3 53.1h1.3v1.3h-1.3zM330.4 128.8h1.3v1.3h-1.3zM330 114.2h1.7v1.7h-1.7zM262.9 40.2h1v1h-1zM343.4 92.6h1.2v1.2h-1.2zM196.3 27h1.5v1.5h-1.5zM317.1 124.2h1v1h-1zM241.4 63h1.6v1.6h-1.6zM246.1 20.7h1.4v1.4h-1.4zM269.3 22.7h1.8v1.8h-1.8zM234.7 110.3h1.6v1.6h-1.6zM305.1 106.5h1.7v1.7h-1.7zM212.8 89.6h1.6v1.6h-1.6zM295.3 98.9h1.6v1.6h-1.6zM192.1 55h1.7v1.7h-1.7zM281.6 87.8h1.4v1.4h-1.4zM333.4 84.6h0.9v0.9h-0.9zM282.3 125.7h1.2v1.2h-1.2zM270.1 60.7h1.4v1.4h-1.4zM284.9 80.3h1.7v1.7h-1.7zM256.6 106.8h1.2v1.2h-1.2zM333.5 73.8h1.3v1.3h-1.3zM205 66.2h1.2v1.2h-1.2zM194.5 23.6h1.1v1.1h-1.1zM304.2 124.7h1.7v1.7h-1.7zM233.7 63.9h1.1v1.1h-1.1zM270.9 65.9h1.5v1.5h-1.5zM291 22.8h1v1h-1zM272.6 123.6h1v1h-1zM248.4 96.8h1.4v1.4h-1.4zM269.9 32.3h1.3v1.3h-1.3zM244.8 89.9h1.5v1.5h-1.5zM223.3 61.3h0.9v0.9h-0.9zM340.4 32.7h1.2v1.2h-1.2zM272.7 68.6h0.9v0.9h-0.9zM309.7 45.2h1.2v1.2h-1.2zM295.4 92.9h0.9v0.9h-0.9zM198.8 29.8h1.7v1.7h-1.7zM243.1 96.3h1.3v1.3h-1.3zM333.4 111h1.7v1.7h-1.7zM296.7 42.2h1.6v1.6h-1.6zM309.2 108.5h1v1h-1zM225.1 132.9h1.7v1.7h-1.7zM318.4 82.2h1v1h-1zM317.7 81.2h1.2v1.2h-1.2zM293.6 98.5h1.6v1.6h-1.6zM218.1 35h1.6v1.6h-1.6zM197.9 21.4h1.7v1.7h-1.7zM228.7 53.6h1v1h-1zM252.5 69.9h1.8v1.8h-1.8zM279.3 42.8h1.4v1.4h-1.4zM261.4 77.2h1.4v1.4h-1.4zM319 39.4h1.2v1.2h-1.2zM207.3 54.8h1.6v1.6h-1.6zM273.4 133.7h1.8v1.8h-1.8zM267.5 28.9h1.5v1.5h-1.5zM277.4 22.1h1.4v1.4h-1.4zM281.2 55.3h1.7v1.7h-1.7zM314.7 111.7h1.3v1.3h-1.3zM267 103.4h1.1v1.1h-1.1zM324.7 107.7h0.9v0.9h-0.9zM309.6 33.4h1.2v1.2h-1.2zM239.4 89h1.1v1.1h-1.1zM331.8 133.4h1.6v1.6h-1.6zM327.4 109.1h1.5v1.5h-1.5zM249.5 45.5h1.6v1.6h-1.6zM306.7 69.1h1v1h-1zM307.4 105.5h1.7v1.7h-1.7zM201.5 39.8h1.2v1.2h-1.2zM222.4 95.8h1.1v1.1h-1.1zM340.6 86.1h1.5v1.5h-1.5zM248 47.3h1.7v1.7h-1.7zM321.7 114.8h1.5v1.5h-1.5zM288.5 31h1.5v1.5h-1.5zM261.7 77.5h1.7v1.7h-1.7zM342 67.3h1.3v1.3h-1.3zM228.5 81.5h1.8v1.8h-1.8zM189.8 80.8h1.8v1.8h-1.8zM299 97.1h1.1v1.1h-1.1zM260.6 123.3h1.1v1.1h-1.1zM237 63.4h1v1h-1zM183.2 50.5h1.8v1.8h-1.8zM319 133.8h1v1h-1zM239.3 47.4h1.7v1.7h-1.7zM329.8 103.2h1.4v1.4h-1.4zM319 107.2h1.5v1.5h-1.5zM323.9 67.1h1.4v1.4h-1.4zM252.2 34.6h1.7v1.7h-1.7zM190.4 100.8h1.2v1.2h-1.2zM306.1 65.7h1.5v1.5h-1.5zM300.1 77.3h1.4v1.4h-1.4zM335.8 128.7h1.5v1.5h-1.5zM242.3 66.3h1.7v1.7h-1.7zM241.3 88h1.5v1.5h-1.5zM334.6 48.8h1.6v1.6h-1.6zM246 19.3h1.1v1.1h-1.1zM184.3 88.3h1v1h-1zM283.6 30.2h1.7v1.7h-1.7zM343.6 126.7h1.5v1.5h-1.5zM203.9 107.9h1.4v1.4h-1.4zM324 117.2h1.7v1.7h-1.7zM319.1 51.6h1.5v1.5h-1.5zM321.4 108.2h1.7v1.7h-1.7zM230.2 39.9h1.6v1.6h-1.6z"/><rect x="181" y="17.8" width="166" height="0.9" fill="#3a3a3a"/>
<text x="7" y="15.9" font-size="10.5" fill="#1c1c1c" stroke="#1c1c1c" stroke-width="0.18">A</text>
<text x="181.8" y="15.9" font-size="10.5" fill="#1c1c1c" stroke="#1c1c1c" stroke-width="0.18">B</text>
<text transform="translate(119,38.2) scale(0.89,1)" font-size="9.6" fill="#e6e6e6">Tyr2561</text>
<text transform="translate(289,38.4) scale(0.9,1)" font-size="9.6" fill="#e6e6e6">Phe2561</text>
<g stroke="#1c1c1c" stroke-width="0.18"><text x="7.60" y="162.20" font-size="10.5" text-anchor="start" fill="#1c1c1c" >C</text>
<text transform="translate(106.20,172.00) scale(0.9,1)" font-size="7.8" text-anchor="middle" fill="#1c1c1c" >1000 s</text>
<text x="116.90" y="169.00" font-size="4.6" fill="#1c1c1c">-1</text>
<path d="M43.65 177.60V266.05M40.65 266.05H173.25" stroke="#2a2a2a" stroke-width="1" fill="none"/>
<text transform="translate(37.45,268.15) scale(0.9,1)" font-size="8.3" text-anchor="end" fill="#1c1c1c" >0</text>
<text transform="translate(37.45,251.02) scale(0.9,1)" font-size="8.3" text-anchor="end" fill="#1c1c1c" >50</text>
<text transform="translate(37.45,233.89) scale(0.9,1)" font-size="8.3" text-anchor="end" fill="#1c1c1c" >100</text>
<text transform="translate(37.45,216.76) scale(0.9,1)" font-size="8.3" text-anchor="end" fill="#1c1c1c" >150</text>
<text transform="translate(37.45,199.63) scale(0.9,1)" font-size="8.3" text-anchor="end" fill="#1c1c1c" >200</text>
<text transform="translate(37.45,182.50) scale(0.9,1)" font-size="8.3" text-anchor="end" fill="#1c1c1c" >250</text>
<text transform="translate(59.95,278.65) scale(0.9,1)" font-size="8.3" text-anchor="middle" fill="#1c1c1c" >30</text>
<rect x="49.80" y="249.64" width="8.0" height="16.41" fill="#a03443" stroke="#8f1f30" stroke-width="0.6"/>
<path d="M53.80 249.34V248.59M51.50 248.79H56.10" stroke="#1a1a1a" stroke-width="1.0" fill="none"/>
<rect x="62.10" y="241.99" width="8.0" height="24.06" fill="#4d627f" stroke="#3d5272" stroke-width="0.6"/>
<path d="M66.10 241.69V240.84M63.80 241.04H68.40" stroke="#1a1a1a" stroke-width="1.0" fill="none"/>
<circle cx="62.80" cy="235.84" r="0.95" fill="#333"/>
<circle cx="66.10" cy="235.84" r="0.95" fill="#333"/>
<circle cx="69.40" cy="235.84" r="0.95" fill="#333"/>
<text transform="translate(92.12,278.65) scale(0.9,1)" font-size="8.3" text-anchor="middle" fill="#1c1c1c" >60</text>
<rect x="81.97" y="247.43" width="8.0" height="18.62" fill="#a03443" stroke="#8f1f30" stroke-width="0.6"/>
<path d="M85.97 247.13V246.42M83.67 246.62H88.27" stroke="#1a1a1a" stroke-width="1.0" fill="none"/>
<rect x="94.27" y="239.27" width="8.0" height="26.78" fill="#4d627f" stroke="#3d5272" stroke-width="0.6"/>
<path d="M98.27 238.97V237.30M95.97 237.50H100.57" stroke="#1a1a1a" stroke-width="1.0" fill="none"/>
<circle cx="94.97" cy="232.30" r="0.95" fill="#333"/>
<circle cx="98.27" cy="232.30" r="0.95" fill="#333"/>
<circle cx="101.57" cy="232.30" r="0.95" fill="#333"/>
<text transform="translate(124.29,278.65) scale(0.9,1)" font-size="8.3" text-anchor="middle" fill="#1c1c1c" >90</text>
<rect x="114.14" y="245.56" width="8.0" height="20.49" fill="#a03443" stroke="#8f1f30" stroke-width="0.6"/>
<path d="M118.14 245.26V243.80M115.84 244.00H120.44" stroke="#1a1a1a" stroke-width="1.0" fill="none"/>
<rect x="126.44" y="236.04" width="8.0" height="30.01" fill="#4d627f" stroke="#3d5272" stroke-width="0.6"/>
<path d="M130.44 235.74V233.50M128.14 233.70H132.74" stroke="#1a1a1a" stroke-width="1.0" fill="none"/>
<circle cx="127.14" cy="228.50" r="0.95" fill="#333"/>
<circle cx="130.44" cy="228.50" r="0.95" fill="#333"/>
<circle cx="133.74" cy="228.50" r="0.95" fill="#333"/>
<text transform="translate(156.46,278.65) scale(0.9,1)" font-size="8.3" text-anchor="middle" fill="#1c1c1c" >120</text>
<rect x="146.31" y="243.86" width="8.0" height="22.19" fill="#a03443" stroke="#8f1f30" stroke-width="0.6"/>
<path d="M150.31 243.56V241.59M148.01 241.79H152.61" stroke="#1a1a1a" stroke-width="1.0" fill="none"/>
<rect x="158.61" y="232.30" width="8.0" height="33.75" fill="#4d627f" stroke="#3d5272" stroke-width="0.6"/>
<path d="M162.61 232.00V229.28M160.31 229.48H164.91" stroke="#1a1a1a" stroke-width="1.0" fill="none"/>
<circle cx="159.31" cy="224.28" r="0.95" fill="#333"/>
<circle cx="162.61" cy="224.28" r="0.95" fill="#333"/>
<circle cx="165.91" cy="224.28" r="0.95" fill="#333"/>
<path d="M40.65 266.05H43.65M40.65 248.92H43.65M40.65 231.79H43.65M40.65 214.66H43.65M40.65 197.53H43.65M40.65 180.40H43.65M59.95 266.05V269.05M92.12 266.05V269.05M124.29 266.05V269.05M156.46 266.05V269.05" stroke="#2a2a2a" stroke-width="0.9" fill="none"/>
<text transform="translate(108.20,292.55) scale(0.98,1)" font-size="9" text-anchor="middle" fill="#1c1c1c" >Time [sec]</text>
<text transform="translate(18.05,221.23) rotate(-90)" font-size="9" text-anchor="middle" fill="#1c1c1c">AS [μm<tspan font-size="7" dy="-3.3">2</tspan><tspan dy="3.3">]</tspan></text>
<rect x="46.9" y="181.4" width="8.2" height="5.5" fill="#a03443" stroke="#8f1f30" stroke-width="0.5"/>
<rect x="46.9" y="192.8" width="8.2" height="5.5" fill="#4d627f" stroke="#3d5272" stroke-width="0.5"/>
<text transform="translate(58.30,186.90) scale(0.87,1)" font-size="8" text-anchor="start" fill="#1c1c1c" >Phe2561</text>
<text transform="translate(58.30,198.20) scale(0.87,1)" font-size="8" text-anchor="start" fill="#1c1c1c" >Tyr2561</text>
<text x="182.00" y="162.20" font-size="10.5" text-anchor="start" fill="#1c1c1c" >D</text>
<text transform="translate(276.00,172.00) scale(0.9,1)" font-size="7.8" text-anchor="middle" fill="#1c1c1c" >1800 s</text>
<text x="286.70" y="169.00" font-size="4.6" fill="#1c1c1c">-1</text>
<path d="M214.10 177.90V266.10M211.10 266.10H343.40" stroke="#2a2a2a" stroke-width="1" fill="none"/>
<text transform="translate(207.90,268.20) scale(0.9,1)" font-size="8.3" text-anchor="end" fill="#1c1c1c" >0</text>
<text transform="translate(207.90,251.12) scale(0.9,1)" font-size="8.3" text-anchor="end" fill="#1c1c1c" >50</text>
<text transform="translate(207.90,234.04) scale(0.9,1)" font-size="8.3" text-anchor="end" fill="#1c1c1c" >100</text>
<text transform="translate(207.90,216.96) scale(0.9,1)" font-size="8.3" text-anchor="end" fill="#1c1c1c" >150</text>
<text transform="translate(207.90,199.88) scale(0.9,1)" font-size="8.3" text-anchor="end" fill="#1c1c1c" >200</text>
<text transform="translate(207.90,182.80) scale(0.9,1)" font-size="8.3" text-anchor="end" fill="#1c1c1c" >250</text>
<text transform="translate(229.95,278.70) scale(0.9,1)" font-size="8.3" text-anchor="middle" fill="#1c1c1c" >30</text>
<rect x="219.80" y="248.42" width="8.0" height="17.68" fill="#a03443" stroke="#8f1f30" stroke-width="0.6"/>
<path d="M223.80 248.12V247.30M221.50 247.50H226.10" stroke="#1a1a1a" stroke-width="1.0" fill="none"/>
<rect x="232.10" y="235.50" width="8.0" height="30.60" fill="#4d627f" stroke="#3d5272" stroke-width="0.6"/>
<path d="M236.10 235.20V233.36M233.80 233.56H238.40" stroke="#1a1a1a" stroke-width="1.0" fill="none"/>
<circle cx="232.80" cy="228.36" r="0.95" fill="#333"/>
<circle cx="236.10" cy="228.36" r="0.95" fill="#333"/>
<circle cx="239.40" cy="228.36" r="0.95" fill="#333"/>
<text transform="translate(262.25,278.70) scale(0.9,1)" font-size="8.3" text-anchor="middle" fill="#1c1c1c" >60</text>
<rect x="252.10" y="244.30" width="8.0" height="21.80" fill="#a03443" stroke="#8f1f30" stroke-width="0.6"/>
<path d="M256.10 244.00V243.05M253.80 243.25H258.40" stroke="#1a1a1a" stroke-width="1.0" fill="none"/>
<rect x="264.40" y="230.09" width="8.0" height="36.01" fill="#4d627f" stroke="#3d5272" stroke-width="0.6"/>
<path d="M268.40 229.79V227.10M266.10 227.30H270.70" stroke="#1a1a1a" stroke-width="1.0" fill="none"/>
<circle cx="265.10" cy="222.10" r="0.95" fill="#333"/>
<circle cx="268.40" cy="222.10" r="0.95" fill="#333"/>
<circle cx="271.70" cy="222.10" r="0.95" fill="#333"/>
<text transform="translate(294.55,278.70) scale(0.9,1)" font-size="8.3" text-anchor="middle" fill="#1c1c1c" >90</text>
<rect x="284.40" y="240.80" width="8.0" height="25.30" fill="#a03443" stroke="#8f1f30" stroke-width="0.6"/>
<path d="M288.40 240.50V239.48M286.10 239.68H290.70" stroke="#1a1a1a" stroke-width="1.0" fill="none"/>
<rect x="296.70" y="224.68" width="8.0" height="41.42" fill="#4d627f" stroke="#3d5272" stroke-width="0.6"/>
<path d="M300.70 224.38V221.19M298.40 221.39H303.00" stroke="#1a1a1a" stroke-width="1.0" fill="none"/>
<circle cx="299.05" cy="216.19" r="0.95" fill="#333"/>
<circle cx="302.35" cy="216.19" r="0.95" fill="#333"/>
<text transform="translate(326.85,278.70) scale(0.9,1)" font-size="8.3" text-anchor="middle" fill="#1c1c1c" >120</text>
<rect x="316.70" y="235.70" width="8.0" height="30.40" fill="#a03443" stroke="#8f1f30" stroke-width="0.6"/>
<path d="M320.70 235.40V234.04M318.40 234.24H323.00" stroke="#1a1a1a" stroke-width="1.0" fill="none"/>
<rect x="329.00" y="213.94" width="8.0" height="52.16" fill="#4d627f" stroke="#3d5272" stroke-width="0.6"/>
<path d="M333.00 213.64V209.02M330.70 209.22H335.30" stroke="#1a1a1a" stroke-width="1.0" fill="none"/>
<circle cx="329.70" cy="204.02" r="0.95" fill="#333"/>
<circle cx="333.00" cy="204.02" r="0.95" fill="#333"/>
<circle cx="336.30" cy="204.02" r="0.95" fill="#333"/>
<path d="M211.10 266.10H214.10M211.10 249.02H214.10M211.10 231.94H214.10M211.10 214.86H214.10M211.10 197.78H214.10M211.10 180.70H214.10M229.95 266.10V269.10M262.25 266.10V269.10M294.55 266.10V269.10M326.85 266.10V269.10" stroke="#2a2a2a" stroke-width="0.9" fill="none"/>
<text transform="translate(278.50,292.60) scale(0.98,1)" font-size="9" text-anchor="middle" fill="#1c1c1c" >Time [sec]</text>
<text transform="translate(188.50,221.40) rotate(-90)" font-size="9" text-anchor="middle" fill="#1c1c1c">AS [μm<tspan font-size="7" dy="-3.3">2</tspan><tspan dy="3.3">]</tspan></text>
<text x="350.80" y="162.20" font-size="10.5" text-anchor="start" fill="#1c1c1c" >E</text>
<text transform="translate(445.00,172.00) scale(0.9,1)" font-size="7.8" text-anchor="middle" fill="#1c1c1c" >3000 s</text>
<text x="455.70" y="169.00" font-size="4.6" fill="#1c1c1c">-1</text>
<path d="M383.40 177.30V266.20M380.40 266.20H512.80" stroke="#2a2a2a" stroke-width="1" fill="none"/>
<text transform="translate(377.20,268.30) scale(0.9,1)" font-size="8.3" text-anchor="end" fill="#1c1c1c" >0</text>
<text transform="translate(377.20,251.08) scale(0.9,1)" font-size="8.3" text-anchor="end" fill="#1c1c1c" >50</text>
<text transform="translate(377.20,233.86) scale(0.9,1)" font-size="8.3" text-anchor="end" fill="#1c1c1c" >100</text>
<text transform="translate(377.20,216.64) scale(0.9,1)" font-size="8.3" text-anchor="end" fill="#1c1c1c" >150</text>
<text transform="translate(377.20,199.42) scale(0.9,1)" font-size="8.3" text-anchor="end" fill="#1c1c1c" >200</text>
<text transform="translate(377.20,182.20) scale(0.9,1)" font-size="8.3" text-anchor="end" fill="#1c1c1c" >250</text>
<text transform="translate(399.55,278.80) scale(0.9,1)" font-size="8.3" text-anchor="middle" fill="#1c1c1c" >30</text>
<rect x="389.40" y="243.86" width="8.0" height="22.34" fill="#a03443" stroke="#8f1f30" stroke-width="0.6"/>
<path d="M393.40 243.56V242.20M391.10 242.40H395.70" stroke="#1a1a1a" stroke-width="1.0" fill="none"/>
<rect x="401.70" y="226.86" width="8.0" height="39.34" fill="#4d627f" stroke="#3d5272" stroke-width="0.6"/>
<path d="M405.70 226.56V223.84M403.40 224.04H408.00" stroke="#1a1a1a" stroke-width="1.0" fill="none"/>
<circle cx="402.40" cy="218.84" r="0.95" fill="#333"/>
<circle cx="405.70" cy="218.84" r="0.95" fill="#333"/>
<circle cx="409.00" cy="218.84" r="0.95" fill="#333"/>
<text transform="translate(431.85,278.80) scale(0.9,1)" font-size="8.3" text-anchor="middle" fill="#1c1c1c" >60</text>
<rect x="421.70" y="237.06" width="8.0" height="29.14" fill="#a03443" stroke="#8f1f30" stroke-width="0.6"/>
<path d="M425.70 236.76V235.20M423.40 235.40H428.00" stroke="#1a1a1a" stroke-width="1.0" fill="none"/>
<rect x="434.00" y="218.02" width="8.0" height="48.18" fill="#4d627f" stroke="#3d5272" stroke-width="0.6"/>
<path d="M438.00 217.72V213.98M435.70 214.18H440.30" stroke="#1a1a1a" stroke-width="1.0" fill="none"/>
<circle cx="434.70" cy="208.98" r="0.95" fill="#333"/>
<circle cx="438.00" cy="208.98" r="0.95" fill="#333"/>
<circle cx="441.30" cy="208.98" r="0.95" fill="#333"/>
<text transform="translate(464.15,278.80) scale(0.9,1)" font-size="8.3" text-anchor="middle" fill="#1c1c1c" >90</text>
<rect x="454.00" y="237.57" width="8.0" height="28.63" fill="#a03443" stroke="#8f1f30" stroke-width="0.6"/>
<path d="M458.00 237.27V236.22M455.70 236.42H460.30" stroke="#1a1a1a" stroke-width="1.0" fill="none"/>
<rect x="466.30" y="211.22" width="8.0" height="54.98" fill="#4d627f" stroke="#3d5272" stroke-width="0.6"/>
<path d="M470.30 210.92V206.16M468.00 206.36H472.60" stroke="#1a1a1a" stroke-width="1.0" fill="none"/>
<circle cx="467.00" cy="201.16" r="0.95" fill="#333"/>
<circle cx="470.30" cy="201.16" r="0.95" fill="#333"/>
<circle cx="473.60" cy="201.16" r="0.95" fill="#333"/>
<text transform="translate(496.45,278.80) scale(0.9,1)" font-size="8.3" text-anchor="middle" fill="#1c1c1c" >120</text>
<rect x="486.30" y="231.96" width="8.0" height="34.24" fill="#a03443" stroke="#8f1f30" stroke-width="0.6"/>
<path d="M490.30 231.66V229.28M488.00 229.48H492.60" stroke="#1a1a1a" stroke-width="1.0" fill="none"/>
<rect x="498.60" y="195.24" width="8.0" height="70.96" fill="#4d627f" stroke="#3d5272" stroke-width="0.6"/>
<path d="M502.60 194.94V188.82M500.30 189.02H504.90" stroke="#1a1a1a" stroke-width="1.0" fill="none"/>
<circle cx="499.30" cy="183.82" r="0.95" fill="#333"/>
<circle cx="502.60" cy="183.82" r="0.95" fill="#333"/>
<circle cx="505.90" cy="183.82" r="0.95" fill="#333"/>
<path d="M380.40 266.20H383.40M380.40 248.98H383.40M380.40 231.76H383.40M380.40 214.54H383.40M380.40 197.32H383.40M380.40 180.10H383.40M399.55 266.20V269.20M431.85 266.20V269.20M464.15 266.20V269.20M496.45 266.20V269.20" stroke="#2a2a2a" stroke-width="0.9" fill="none"/>
<text transform="translate(448.30,292.70) scale(0.98,1)" font-size="9" text-anchor="middle" fill="#1c1c1c" >Time [sec]</text>
<text transform="translate(357.80,221.15) rotate(-90)" font-size="9" text-anchor="middle" fill="#1c1c1c">AS [μm<tspan font-size="7" dy="-3.3">2</tspan><tspan dy="3.3">]</tspan></text>
<text x="7.60" y="320.20" font-size="10.5" text-anchor="start" fill="#1c1c1c" >F</text>
<text transform="translate(104.20,336.40) scale(0.9,1)" font-size="7.8" text-anchor="middle" fill="#1c1c1c" >1000 s</text>
<text x="114.90" y="333.40" font-size="4.6" fill="#1c1c1c">-1</text>
<path d="M42.65 341.45V428.90M39.65 428.90H173.25" stroke="#2a2a2a" stroke-width="1" fill="none"/>
<text transform="translate(36.45,431.00) scale(0.9,1)" font-size="8.3" text-anchor="end" fill="#1c1c1c" >0</text>
<text transform="translate(36.45,414.07) scale(0.9,1)" font-size="8.3" text-anchor="end" fill="#1c1c1c" >5</text>
<text transform="translate(36.45,397.14) scale(0.9,1)" font-size="8.3" text-anchor="end" fill="#1c1c1c" >10</text>
<text transform="translate(36.45,380.21) scale(0.9,1)" font-size="8.3" text-anchor="end" fill="#1c1c1c" >15</text>
<text transform="translate(36.45,363.28) scale(0.9,1)" font-size="8.3" text-anchor="end" fill="#1c1c1c" >20</text>
<text transform="translate(36.45,346.35) scale(0.9,1)" font-size="8.3" text-anchor="end" fill="#1c1c1c" >25</text>
<text transform="translate(59.70,441.50) scale(0.9,1)" font-size="8.3" text-anchor="middle" fill="#1c1c1c" >30</text>
<rect x="49.55" y="390.34" width="8.0" height="38.56" fill="#a03443" stroke="#8f1f30" stroke-width="0.6"/>
<path d="M53.55 390.04V388.34M51.25 388.54H55.85" stroke="#1a1a1a" stroke-width="1.0" fill="none"/>
<rect x="61.85" y="375.72" width="8.0" height="53.18" fill="#4d627f" stroke="#3d5272" stroke-width="0.6"/>
<path d="M65.85 375.42V373.04M63.55 373.24H68.15" stroke="#1a1a1a" stroke-width="1.0" fill="none"/>
<circle cx="62.55" cy="368.04" r="0.95" fill="#333"/>
<circle cx="65.85" cy="368.04" r="0.95" fill="#333"/>
<circle cx="69.15" cy="368.04" r="0.95" fill="#333"/>
<text transform="translate(91.95,441.50) scale(0.9,1)" font-size="8.3" text-anchor="middle" fill="#1c1c1c" >60</text>
<rect x="81.80" y="387.28" width="8.0" height="41.62" fill="#a03443" stroke="#8f1f30" stroke-width="0.6"/>
<path d="M85.80 386.98V385.11M83.50 385.31H88.10" stroke="#1a1a1a" stroke-width="1.0" fill="none"/>
<rect x="94.10" y="368.92" width="8.0" height="59.98" fill="#4d627f" stroke="#3d5272" stroke-width="0.6"/>
<path d="M98.10 368.62V366.58M95.80 366.78H100.40" stroke="#1a1a1a" stroke-width="1.0" fill="none"/>
<circle cx="94.80" cy="361.58" r="0.95" fill="#333"/>
<circle cx="98.10" cy="361.58" r="0.95" fill="#333"/>
<circle cx="101.40" cy="361.58" r="0.95" fill="#333"/>
<text transform="translate(124.20,441.50) scale(0.9,1)" font-size="8.3" text-anchor="middle" fill="#1c1c1c" >90</text>
<rect x="114.05" y="382.18" width="8.0" height="46.72" fill="#a03443" stroke="#8f1f30" stroke-width="0.6"/>
<path d="M118.05 381.88V379.16M115.75 379.36H120.35" stroke="#1a1a1a" stroke-width="1.0" fill="none"/>
<rect x="126.35" y="367.22" width="8.0" height="61.68" fill="#4d627f" stroke="#3d5272" stroke-width="0.6"/>
<path d="M130.35 366.92V364.20M128.05 364.40H132.65" stroke="#1a1a1a" stroke-width="1.0" fill="none"/>
<circle cx="127.05" cy="359.20" r="0.95" fill="#333"/>
<circle cx="130.35" cy="359.20" r="0.95" fill="#333"/>
<circle cx="133.65" cy="359.20" r="0.95" fill="#333"/>
<text transform="translate(156.45,441.50) scale(0.9,1)" font-size="8.3" text-anchor="middle" fill="#1c1c1c" >120</text>
<rect x="146.30" y="381.16" width="8.0" height="47.74" fill="#a03443" stroke="#8f1f30" stroke-width="0.6"/>
<path d="M150.30 380.86V378.14M148.00 378.34H152.60" stroke="#1a1a1a" stroke-width="1.0" fill="none"/>
<rect x="158.60" y="363.14" width="8.0" height="65.76" fill="#4d627f" stroke="#3d5272" stroke-width="0.6"/>
<path d="M162.60 362.84V360.46M160.30 360.66H164.90" stroke="#1a1a1a" stroke-width="1.0" fill="none"/>
<circle cx="159.30" cy="355.46" r="0.95" fill="#333"/>
<circle cx="162.60" cy="355.46" r="0.95" fill="#333"/>
<circle cx="165.90" cy="355.46" r="0.95" fill="#333"/>
<path d="M39.65 428.90H42.65M39.65 411.97H42.65M39.65 395.04H42.65M39.65 378.11H42.65M39.65 361.18H42.65M39.65 344.25H42.65M59.70 428.90V431.90M91.95 428.90V431.90M124.20 428.90V431.90M156.45 428.90V431.90" stroke="#2a2a2a" stroke-width="0.9" fill="none"/>
<text transform="translate(107.10,455.40) scale(0.98,1)" font-size="9" text-anchor="middle" fill="#1c1c1c" >Time [sec]</text>
<text transform="translate(22.25,385.57) rotate(-90) scale(0.9,1)" font-size="9.3" text-anchor="middle" fill="#1c1c1c">SC [%]</text>
<text x="182.00" y="320.20" font-size="10.5" text-anchor="start" fill="#1c1c1c" >G</text>
<text transform="translate(273.50,336.40) scale(0.9,1)" font-size="7.8" text-anchor="middle" fill="#1c1c1c" >1800 s</text>
<text x="284.20" y="333.40" font-size="4.6" fill="#1c1c1c">-1</text>
<path d="M212.65 342.60V428.90M209.65 428.90H343.40" stroke="#2a2a2a" stroke-width="1" fill="none"/>
<text transform="translate(206.45,431.00) scale(0.9,1)" font-size="8.3" text-anchor="end" fill="#1c1c1c" >0</text>
<text transform="translate(206.45,414.30) scale(0.9,1)" font-size="8.3" text-anchor="end" fill="#1c1c1c" >5</text>
<text transform="translate(206.45,397.60) scale(0.9,1)" font-size="8.3" text-anchor="end" fill="#1c1c1c" >10</text>
<text transform="translate(206.45,380.90) scale(0.9,1)" font-size="8.3" text-anchor="end" fill="#1c1c1c" >15</text>
<text transform="translate(206.45,364.20) scale(0.9,1)" font-size="8.3" text-anchor="end" fill="#1c1c1c" >20</text>
<text transform="translate(206.45,347.50) scale(0.9,1)" font-size="8.3" text-anchor="end" fill="#1c1c1c" >25</text>
<text transform="translate(230.05,441.50) scale(0.9,1)" font-size="8.3" text-anchor="middle" fill="#1c1c1c" >30</text>
<rect x="219.90" y="390.51" width="8.0" height="38.39" fill="#a03443" stroke="#8f1f30" stroke-width="0.6"/>
<path d="M223.90 390.21V388.00M221.60 388.20H226.20" stroke="#1a1a1a" stroke-width="1.0" fill="none"/>
<rect x="232.20" y="367.90" width="8.0" height="61.00" fill="#4d627f" stroke="#3d5272" stroke-width="0.6"/>
<path d="M236.20 367.60V364.54M233.90 364.74H238.50" stroke="#1a1a1a" stroke-width="1.0" fill="none"/>
<circle cx="232.90" cy="359.54" r="0.95" fill="#333"/>
<circle cx="236.20" cy="359.54" r="0.95" fill="#333"/>
<circle cx="239.50" cy="359.54" r="0.95" fill="#333"/>
<text transform="translate(262.35,441.50) scale(0.9,1)" font-size="8.3" text-anchor="middle" fill="#1c1c1c" >60</text>
<rect x="252.20" y="383.88" width="8.0" height="45.02" fill="#a03443" stroke="#8f1f30" stroke-width="0.6"/>
<path d="M256.20 383.58V381.88M253.90 382.08H258.50" stroke="#1a1a1a" stroke-width="1.0" fill="none"/>
<rect x="264.50" y="365.69" width="8.0" height="63.21" fill="#4d627f" stroke="#3d5272" stroke-width="0.6"/>
<path d="M268.50 365.39V363.18M266.20 363.38H270.80" stroke="#1a1a1a" stroke-width="1.0" fill="none"/>
<circle cx="265.20" cy="358.18" r="0.95" fill="#333"/>
<circle cx="268.50" cy="358.18" r="0.95" fill="#333"/>
<circle cx="271.80" cy="358.18" r="0.95" fill="#333"/>
<text transform="translate(294.65,441.50) scale(0.9,1)" font-size="8.3" text-anchor="middle" fill="#1c1c1c" >90</text>
<rect x="284.50" y="376.06" width="8.0" height="52.84" fill="#a03443" stroke="#8f1f30" stroke-width="0.6"/>
<path d="M288.50 375.76V374.40M286.20 374.60H290.80" stroke="#1a1a1a" stroke-width="1.0" fill="none"/>
<rect x="296.80" y="359.40" width="8.0" height="69.50" fill="#4d627f" stroke="#3d5272" stroke-width="0.6"/>
<path d="M300.80 359.10V356.04M298.50 356.24H303.10" stroke="#1a1a1a" stroke-width="1.0" fill="none"/>
<circle cx="297.50" cy="351.04" r="0.95" fill="#333"/>
<circle cx="300.80" cy="351.04" r="0.95" fill="#333"/>
<circle cx="304.10" cy="351.04" r="0.95" fill="#333"/>
<text transform="translate(326.95,441.50) scale(0.9,1)" font-size="8.3" text-anchor="middle" fill="#1c1c1c" >120</text>
<rect x="316.80" y="371.98" width="8.0" height="56.92" fill="#a03443" stroke="#8f1f30" stroke-width="0.6"/>
<path d="M320.80 371.68V369.64M318.50 369.84H323.10" stroke="#1a1a1a" stroke-width="1.0" fill="none"/>
<rect x="329.10" y="356.68" width="8.0" height="72.22" fill="#4d627f" stroke="#3d5272" stroke-width="0.6"/>
<path d="M333.10 356.38V353.66M330.80 353.86H335.40" stroke="#1a1a1a" stroke-width="1.0" fill="none"/>
<circle cx="329.80" cy="348.66" r="0.95" fill="#333"/>
<circle cx="333.10" cy="348.66" r="0.95" fill="#333"/>
<circle cx="336.40" cy="348.66" r="0.95" fill="#333"/>
<path d="M209.65 428.90H212.65M209.65 412.20H212.65M209.65 395.50H212.65M209.65 378.80H212.65M209.65 362.10H212.65M209.65 345.40H212.65M230.05 428.90V431.90M262.35 428.90V431.90M294.65 428.90V431.90M326.95 428.90V431.90" stroke="#2a2a2a" stroke-width="0.9" fill="none"/>
<text transform="translate(276.20,455.40) scale(0.98,1)" font-size="9" text-anchor="middle" fill="#1c1c1c" >Time [sec]</text>
<text transform="translate(192.25,386.15) rotate(-90) scale(0.9,1)" font-size="9.3" text-anchor="middle" fill="#1c1c1c">SC [%]</text>
<text x="350.80" y="320.20" font-size="10.5" text-anchor="start" fill="#1c1c1c" >H</text>
<text transform="translate(444.60,336.40) scale(0.9,1)" font-size="7.8" text-anchor="middle" fill="#1c1c1c" >3000 s</text>
<text x="455.30" y="333.40" font-size="4.6" fill="#1c1c1c">-1</text>
<path d="M382.30 339.80V429.00M379.30 429.00H512.80" stroke="#2a2a2a" stroke-width="1" fill="none"/>
<text transform="translate(376.10,431.10) scale(0.9,1)" font-size="8.3" text-anchor="end" fill="#1c1c1c" >0</text>
<text transform="translate(376.10,413.82) scale(0.9,1)" font-size="8.3" text-anchor="end" fill="#1c1c1c" >5</text>
<text transform="translate(376.10,396.54) scale(0.9,1)" font-size="8.3" text-anchor="end" fill="#1c1c1c" >10</text>
<text transform="translate(376.10,379.26) scale(0.9,1)" font-size="8.3" text-anchor="end" fill="#1c1c1c" >15</text>
<text transform="translate(376.10,361.98) scale(0.9,1)" font-size="8.3" text-anchor="end" fill="#1c1c1c" >20</text>
<text transform="translate(376.10,344.70) scale(0.9,1)" font-size="8.3" text-anchor="end" fill="#1c1c1c" >25</text>
<text transform="translate(399.35,441.60) scale(0.9,1)" font-size="8.3" text-anchor="middle" fill="#1c1c1c" >30</text>
<rect x="389.20" y="383.03" width="8.0" height="45.97" fill="#a03443" stroke="#8f1f30" stroke-width="0.6"/>
<path d="M393.20 382.73V380.52M390.90 380.72H395.50" stroke="#1a1a1a" stroke-width="1.0" fill="none"/>
<rect x="401.50" y="366.88" width="8.0" height="62.12" fill="#4d627f" stroke="#3d5272" stroke-width="0.6"/>
<path d="M405.50 366.58V363.18M403.20 363.38H407.80" stroke="#1a1a1a" stroke-width="1.0" fill="none"/>
<circle cx="402.20" cy="358.18" r="0.95" fill="#333"/>
<circle cx="405.50" cy="358.18" r="0.95" fill="#333"/>
<circle cx="408.80" cy="358.18" r="0.95" fill="#333"/>
<text transform="translate(431.65,441.60) scale(0.9,1)" font-size="8.3" text-anchor="middle" fill="#1c1c1c" >60</text>
<rect x="421.50" y="378.78" width="8.0" height="50.22" fill="#a03443" stroke="#8f1f30" stroke-width="0.6"/>
<path d="M425.50 378.48V376.44M423.20 376.64H427.80" stroke="#1a1a1a" stroke-width="1.0" fill="none"/>
<rect x="433.80" y="363.48" width="8.0" height="65.52" fill="#4d627f" stroke="#3d5272" stroke-width="0.6"/>
<path d="M437.80 363.18V359.78M435.50 359.98H440.10" stroke="#1a1a1a" stroke-width="1.0" fill="none"/>
<circle cx="436.15" cy="354.78" r="0.95" fill="#333"/>
<circle cx="439.45" cy="354.78" r="0.95" fill="#333"/>
<text transform="translate(463.95,441.60) scale(0.9,1)" font-size="8.3" text-anchor="middle" fill="#1c1c1c" >90</text>
<rect x="453.80" y="373.00" width="8.0" height="56.00" fill="#a03443" stroke="#8f1f30" stroke-width="0.6"/>
<path d="M457.80 372.70V370.66M455.50 370.86H460.10" stroke="#1a1a1a" stroke-width="1.0" fill="none"/>
<rect x="466.10" y="352.26" width="8.0" height="76.74" fill="#4d627f" stroke="#3d5272" stroke-width="0.6"/>
<path d="M470.10 351.96V349.24M467.80 349.44H472.40" stroke="#1a1a1a" stroke-width="1.0" fill="none"/>
<circle cx="466.80" cy="344.24" r="0.95" fill="#333"/>
<circle cx="470.10" cy="344.24" r="0.95" fill="#333"/>
<circle cx="473.40" cy="344.24" r="0.95" fill="#333"/>
<text transform="translate(496.25,441.60) scale(0.9,1)" font-size="8.3" text-anchor="middle" fill="#1c1c1c" >120</text>
<rect x="486.10" y="366.54" width="8.0" height="62.46" fill="#a03443" stroke="#8f1f30" stroke-width="0.6"/>
<path d="M490.10 366.24V362.50M487.80 362.70H492.40" stroke="#1a1a1a" stroke-width="1.0" fill="none"/>
<rect x="498.40" y="344.27" width="8.0" height="84.73" fill="#4d627f" stroke="#3d5272" stroke-width="0.6"/>
<path d="M502.40 343.97V342.44M500.10 342.64H504.70" stroke="#1a1a1a" stroke-width="1.0" fill="none"/>
<circle cx="499.10" cy="337.44" r="0.95" fill="#333"/>
<circle cx="502.40" cy="337.44" r="0.95" fill="#333"/>
<circle cx="505.70" cy="337.44" r="0.95" fill="#333"/>
<path d="M379.30 429.00H382.30M379.30 411.72H382.30M379.30 394.44H382.30M379.30 377.16H382.30M379.30 359.88H382.30M379.30 342.60H382.30M399.35 429.00V432.00M431.65 429.00V432.00M463.95 429.00V432.00M496.25 429.00V432.00" stroke="#2a2a2a" stroke-width="0.9" fill="none"/>
<text transform="translate(447.40,455.50) scale(0.98,1)" font-size="9" text-anchor="middle" fill="#1c1c1c" >Time [sec]</text>
<text transform="translate(361.90,384.80) rotate(-90) scale(0.9,1)" font-size="9.3" text-anchor="middle" fill="#1c1c1c">SC [%]</text>
<text x="11.80" y="483.00" font-size="10.5" text-anchor="start" fill="#1c1c1c" >I</text>
<text transform="translate(106.30,499.10) scale(0.9,1)" font-size="7.8" text-anchor="middle" fill="#1c1c1c" >1000 s</text>
<text x="117.00" y="496.10" font-size="4.6" fill="#1c1c1c">-1</text>
<path d="M43.70 504.50V593.90M40.70 593.90H173.25" stroke="#2a2a2a" stroke-width="1" fill="none"/>
<text transform="translate(37.50,596.00) scale(0.9,1)" font-size="8.3" text-anchor="end" fill="#1c1c1c" >0</text>
<text transform="translate(37.50,578.68) scale(0.9,1)" font-size="8.3" text-anchor="end" fill="#1c1c1c" >20</text>
<text transform="translate(37.50,561.36) scale(0.9,1)" font-size="8.3" text-anchor="end" fill="#1c1c1c" >40</text>
<text transform="translate(37.50,544.04) scale(0.9,1)" font-size="8.3" text-anchor="end" fill="#1c1c1c" >60</text>
<text transform="translate(37.50,526.72) scale(0.9,1)" font-size="8.3" text-anchor="end" fill="#1c1c1c" >80</text>
<text transform="translate(37.50,509.40) scale(0.9,1)" font-size="8.3" text-anchor="end" fill="#1c1c1c" >100</text>
<text transform="translate(60.20,606.50) scale(0.9,1)" font-size="8.3" text-anchor="middle" fill="#1c1c1c" >30</text>
<rect x="50.05" y="551.03" width="8.0" height="42.87" fill="#a03443" stroke="#8f1f30" stroke-width="0.6"/>
<path d="M54.05 550.73V547.46M51.75 547.66H56.35" stroke="#1a1a1a" stroke-width="1.0" fill="none"/>
<rect x="62.35" y="545.61" width="8.0" height="48.29" fill="#4d627f" stroke="#3d5272" stroke-width="0.6"/>
<path d="M66.35 545.31V542.73M64.05 542.93H68.65" stroke="#1a1a1a" stroke-width="1.0" fill="none"/>
<text transform="translate(92.62,606.50) scale(0.9,1)" font-size="8.3" text-anchor="middle" fill="#1c1c1c" >60</text>
<rect x="82.47" y="545.10" width="8.0" height="48.80" fill="#a03443" stroke="#8f1f30" stroke-width="0.6"/>
<path d="M86.47 544.80V543.16M84.17 543.36H88.77" stroke="#1a1a1a" stroke-width="1.0" fill="none"/>
<rect x="94.77" y="538.90" width="8.0" height="55.00" fill="#4d627f" stroke="#3d5272" stroke-width="0.6"/>
<path d="M98.77 538.60V536.97M96.47 537.17H101.07" stroke="#1a1a1a" stroke-width="1.0" fill="none"/>
<circle cx="98.77" cy="531.97" r="1.15" fill="#333"/>
<text transform="translate(125.04,606.50) scale(0.9,1)" font-size="8.3" text-anchor="middle" fill="#1c1c1c" >90</text>
<rect x="114.89" y="547.76" width="8.0" height="46.14" fill="#a03443" stroke="#8f1f30" stroke-width="0.6"/>
<path d="M118.89 547.46V543.51M116.59 543.71H121.19" stroke="#1a1a1a" stroke-width="1.0" fill="none"/>
<rect x="127.19" y="530.56" width="8.0" height="63.34" fill="#4d627f" stroke="#3d5272" stroke-width="0.6"/>
<path d="M131.19 530.26V528.37M128.89 528.57H133.49" stroke="#1a1a1a" stroke-width="1.0" fill="none"/>
<circle cx="131.19" cy="523.37" r="1.15" fill="#333"/>
<text transform="translate(157.46,606.50) scale(0.9,1)" font-size="8.3" text-anchor="middle" fill="#1c1c1c" >120</text>
<rect x="147.31" y="539.16" width="8.0" height="54.74" fill="#a03443" stroke="#8f1f30" stroke-width="0.6"/>
<path d="M151.31 538.86V536.20M149.01 536.40H153.61" stroke="#1a1a1a" stroke-width="1.0" fill="none"/>
<rect x="159.61" y="528.07" width="8.0" height="65.83" fill="#4d627f" stroke="#3d5272" stroke-width="0.6"/>
<path d="M163.61 527.77V526.22M161.31 526.42H165.91" stroke="#1a1a1a" stroke-width="1.0" fill="none"/>
<circle cx="163.61" cy="521.22" r="1.15" fill="#333"/>
<path d="M40.70 593.90H43.70M40.70 576.58H43.70M40.70 559.26H43.70M40.70 541.94H43.70M40.70 524.62H43.70M40.70 507.30H43.70M60.20 593.90V596.90M92.62 593.90V596.90M125.04 593.90V596.90M157.46 593.90V596.90" stroke="#2a2a2a" stroke-width="0.9" fill="none"/>
<text transform="translate(108.30,620.40) scale(0.98,1)" font-size="9" text-anchor="middle" fill="#1c1c1c" >Time [sec]</text>
<text transform="translate(18.10,548.60) rotate(-90)" font-size="9" text-anchor="middle" fill="#1c1c1c">AS [μm<tspan font-size="7" dy="-3.3">2</tspan><tspan dy="3.3">]</tspan></text>
<text x="182.00" y="483.00" font-size="10.5" text-anchor="start" fill="#1c1c1c" >J</text>
<text transform="translate(275.90,499.10) scale(0.9,1)" font-size="7.8" text-anchor="middle" fill="#1c1c1c" >1800 s</text>
<text x="286.60" y="496.10" font-size="4.6" fill="#1c1c1c">-1</text>
<path d="M214.10 504.60V593.90M211.10 593.90H343.40" stroke="#2a2a2a" stroke-width="1" fill="none"/>
<text transform="translate(207.90,596.00) scale(0.9,1)" font-size="8.3" text-anchor="end" fill="#1c1c1c" >0</text>
<text transform="translate(207.90,578.70) scale(0.9,1)" font-size="8.3" text-anchor="end" fill="#1c1c1c" >20</text>
<text transform="translate(207.90,561.40) scale(0.9,1)" font-size="8.3" text-anchor="end" fill="#1c1c1c" >40</text>
<text transform="translate(207.90,544.10) scale(0.9,1)" font-size="8.3" text-anchor="end" fill="#1c1c1c" >60</text>
<text transform="translate(207.90,526.80) scale(0.9,1)" font-size="8.3" text-anchor="end" fill="#1c1c1c" >80</text>
<text transform="translate(207.90,509.50) scale(0.9,1)" font-size="8.3" text-anchor="end" fill="#1c1c1c" >100</text>
<text transform="translate(230.45,606.50) scale(0.9,1)" font-size="8.3" text-anchor="middle" fill="#1c1c1c" >30</text>
<rect x="220.30" y="557.22" width="8.0" height="36.68" fill="#a03443" stroke="#8f1f30" stroke-width="0.6"/>
<path d="M224.30 556.92V556.41M222.00 556.61H226.60" stroke="#1a1a1a" stroke-width="1.0" fill="none"/>
<rect x="232.60" y="544.32" width="8.0" height="49.58" fill="#4d627f" stroke="#3d5272" stroke-width="0.6"/>
<path d="M236.60 544.02V540.24M234.30 540.44H238.90" stroke="#1a1a1a" stroke-width="1.0" fill="none"/>
<circle cx="236.60" cy="535.24" r="1.15" fill="#333"/>
<text transform="translate(262.50,606.50) scale(0.9,1)" font-size="8.3" text-anchor="middle" fill="#1c1c1c" >60</text>
<rect x="252.35" y="551.80" width="8.0" height="42.10" fill="#a03443" stroke="#8f1f30" stroke-width="0.6"/>
<path d="M256.35 551.50V549.70M254.05 549.90H258.65" stroke="#1a1a1a" stroke-width="1.0" fill="none"/>
<rect x="264.65" y="527.90" width="8.0" height="66.00" fill="#4d627f" stroke="#3d5272" stroke-width="0.6"/>
<path d="M268.65 527.60V526.22M266.35 526.42H270.95" stroke="#1a1a1a" stroke-width="1.0" fill="none"/>
<circle cx="265.35" cy="521.22" r="0.95" fill="#333"/>
<circle cx="268.65" cy="521.22" r="0.95" fill="#333"/>
<circle cx="271.95" cy="521.22" r="0.95" fill="#333"/>
<text transform="translate(294.55,606.50) scale(0.9,1)" font-size="8.3" text-anchor="middle" fill="#1c1c1c" >90</text>
<rect x="284.40" y="548.62" width="8.0" height="45.28" fill="#a03443" stroke="#8f1f30" stroke-width="0.6"/>
<path d="M288.40 548.32V542.73M286.10 542.93H290.70" stroke="#1a1a1a" stroke-width="1.0" fill="none"/>
<rect x="296.70" y="523.77" width="8.0" height="70.13" fill="#4d627f" stroke="#3d5272" stroke-width="0.6"/>
<path d="M300.70 523.47V520.80M298.40 521.00H303.00" stroke="#1a1a1a" stroke-width="1.0" fill="none"/>
<circle cx="299.05" cy="515.80" r="0.95" fill="#333"/>
<circle cx="302.35" cy="515.80" r="0.95" fill="#333"/>
<text transform="translate(326.60,606.50) scale(0.9,1)" font-size="8.3" text-anchor="middle" fill="#1c1c1c" >120</text>
<rect x="316.45" y="543.98" width="8.0" height="49.92" fill="#a03443" stroke="#8f1f30" stroke-width="0.6"/>
<path d="M320.45 543.68V542.39M318.15 542.59H322.75" stroke="#1a1a1a" stroke-width="1.0" fill="none"/>
<rect x="328.75" y="528.67" width="8.0" height="65.23" fill="#4d627f" stroke="#3d5272" stroke-width="0.6"/>
<path d="M332.75 528.37V527.34M330.45 527.54H335.05" stroke="#1a1a1a" stroke-width="1.0" fill="none"/>
<circle cx="329.45" cy="522.34" r="0.95" fill="#333"/>
<circle cx="332.75" cy="522.34" r="0.95" fill="#333"/>
<circle cx="336.05" cy="522.34" r="0.95" fill="#333"/>
<path d="M211.10 593.90H214.10M211.10 576.60H214.10M211.10 559.30H214.10M211.10 542.00H214.10M211.10 524.70H214.10M211.10 507.40H214.10M230.45 593.90V596.90M262.50 593.90V596.90M294.55 593.90V596.90M326.60 593.90V596.90" stroke="#2a2a2a" stroke-width="0.9" fill="none"/>
<text transform="translate(278.30,620.40) scale(0.98,1)" font-size="9" text-anchor="middle" fill="#1c1c1c" >Time [sec]</text>
<text transform="translate(188.50,548.65) rotate(-90)" font-size="9" text-anchor="middle" fill="#1c1c1c">AS [μm<tspan font-size="7" dy="-3.3">2</tspan><tspan dy="3.3">]</tspan></text>
<text x="350.80" y="483.00" font-size="10.5" text-anchor="start" fill="#1c1c1c" >K</text>
<text transform="translate(444.90,499.10) scale(0.9,1)" font-size="7.8" text-anchor="middle" fill="#1c1c1c" >3000 s</text>
<text x="455.60" y="496.10" font-size="4.6" fill="#1c1c1c">-1</text>
<path d="M383.40 504.50V593.90M380.40 593.90H512.80" stroke="#2a2a2a" stroke-width="1" fill="none"/>
<text transform="translate(377.20,596.00) scale(0.9,1)" font-size="8.3" text-anchor="end" fill="#1c1c1c" >0</text>
<text transform="translate(377.20,578.68) scale(0.9,1)" font-size="8.3" text-anchor="end" fill="#1c1c1c" >20</text>
<text transform="translate(377.20,561.36) scale(0.9,1)" font-size="8.3" text-anchor="end" fill="#1c1c1c" >40</text>
<text transform="translate(377.20,544.04) scale(0.9,1)" font-size="8.3" text-anchor="end" fill="#1c1c1c" >60</text>
<text transform="translate(377.20,526.72) scale(0.9,1)" font-size="8.3" text-anchor="end" fill="#1c1c1c" >80</text>
<text transform="translate(377.20,509.40) scale(0.9,1)" font-size="8.3" text-anchor="end" fill="#1c1c1c" >100</text>
<text transform="translate(399.95,606.50) scale(0.9,1)" font-size="8.3" text-anchor="middle" fill="#1c1c1c" >30</text>
<rect x="389.80" y="549.22" width="8.0" height="44.68" fill="#a03443" stroke="#8f1f30" stroke-width="0.6"/>
<path d="M393.80 548.92V547.46M391.50 547.66H396.10" stroke="#1a1a1a" stroke-width="1.0" fill="none"/>
<rect x="402.10" y="542.43" width="8.0" height="51.47" fill="#4d627f" stroke="#3d5272" stroke-width="0.6"/>
<path d="M406.10 542.13V538.26M403.80 538.46H408.40" stroke="#1a1a1a" stroke-width="1.0" fill="none"/>
<text transform="translate(432.28,606.50) scale(0.9,1)" font-size="8.3" text-anchor="middle" fill="#1c1c1c" >60</text>
<rect x="422.13" y="555.93" width="8.0" height="37.97" fill="#a03443" stroke="#8f1f30" stroke-width="0.6"/>
<path d="M426.13 555.63V552.88M423.83 553.08H428.43" stroke="#1a1a1a" stroke-width="1.0" fill="none"/>
<rect x="434.43" y="538.39" width="8.0" height="55.51" fill="#4d627f" stroke="#3d5272" stroke-width="0.6"/>
<path d="M438.43 538.09V534.30M436.13 534.50H440.73" stroke="#1a1a1a" stroke-width="1.0" fill="none"/>
<circle cx="438.43" cy="529.30" r="1.15" fill="#333"/>
<text transform="translate(464.61,606.50) scale(0.9,1)" font-size="8.3" text-anchor="middle" fill="#1c1c1c" >90</text>
<rect x="454.46" y="555.93" width="8.0" height="37.97" fill="#a03443" stroke="#8f1f30" stroke-width="0.6"/>
<path d="M458.46 555.63V550.99M456.16 551.19H460.76" stroke="#1a1a1a" stroke-width="1.0" fill="none"/>
<rect x="466.76" y="532.54" width="8.0" height="61.36" fill="#4d627f" stroke="#3d5272" stroke-width="0.6"/>
<path d="M470.76 532.24V527.77M468.46 527.97H473.06" stroke="#1a1a1a" stroke-width="1.0" fill="none"/>
<circle cx="470.76" cy="522.77" r="1.15" fill="#333"/>
<text transform="translate(496.94,606.50) scale(0.9,1)" font-size="8.3" text-anchor="middle" fill="#1c1c1c" >120</text>
<rect x="486.79" y="551.80" width="8.0" height="42.10" fill="#a03443" stroke="#8f1f30" stroke-width="0.6"/>
<path d="M490.79 551.50V548.58M488.49 548.78H493.09" stroke="#1a1a1a" stroke-width="1.0" fill="none"/>
<rect x="499.09" y="528.41" width="8.0" height="65.49" fill="#4d627f" stroke="#3d5272" stroke-width="0.6"/>
<path d="M503.09 528.11V525.19M500.79 525.39H505.39" stroke="#1a1a1a" stroke-width="1.0" fill="none"/>
<circle cx="501.44" cy="520.19" r="0.95" fill="#333"/>
<circle cx="504.74" cy="520.19" r="0.95" fill="#333"/>
<path d="M380.40 593.90H383.40M380.40 576.58H383.40M380.40 559.26H383.40M380.40 541.94H383.40M380.40 524.62H383.40M380.40 507.30H383.40M399.95 593.90V596.90M432.28 593.90V596.90M464.61 593.90V596.90M496.94 593.90V596.90" stroke="#2a2a2a" stroke-width="0.9" fill="none"/>
<text transform="translate(448.00,620.40) scale(0.98,1)" font-size="9" text-anchor="middle" fill="#1c1c1c" >Time [sec]</text>
<text transform="translate(357.80,548.60) rotate(-90)" font-size="9" text-anchor="middle" fill="#1c1c1c">AS [μm<tspan font-size="7" dy="-3.3">2</tspan><tspan dy="3.3">]</tspan></text></g>
<rect x="0" y="1" width="519" height="1" fill="#b0b0b0"/>
<rect x="1" y="0" width="1" height="629" fill="#b0b0b0"/>
<rect x="518" y="1" width="1" height="628" fill="#d8d8d8"/>
<rect x="0" y="628" width="519" height="1" fill="#d8d8d8"/>
<rect x="0" y="0" width="520" height="1" fill="#4a4a4a"/>
<rect x="0" y="0" width="1" height="630" fill="#4a4a4a"/>
<rect x="519" y="1" width="1" height="629" fill="#000"/>
<rect x="0" y="629" width="520" height="1" fill="#000"/>
</svg>
</body></html>
